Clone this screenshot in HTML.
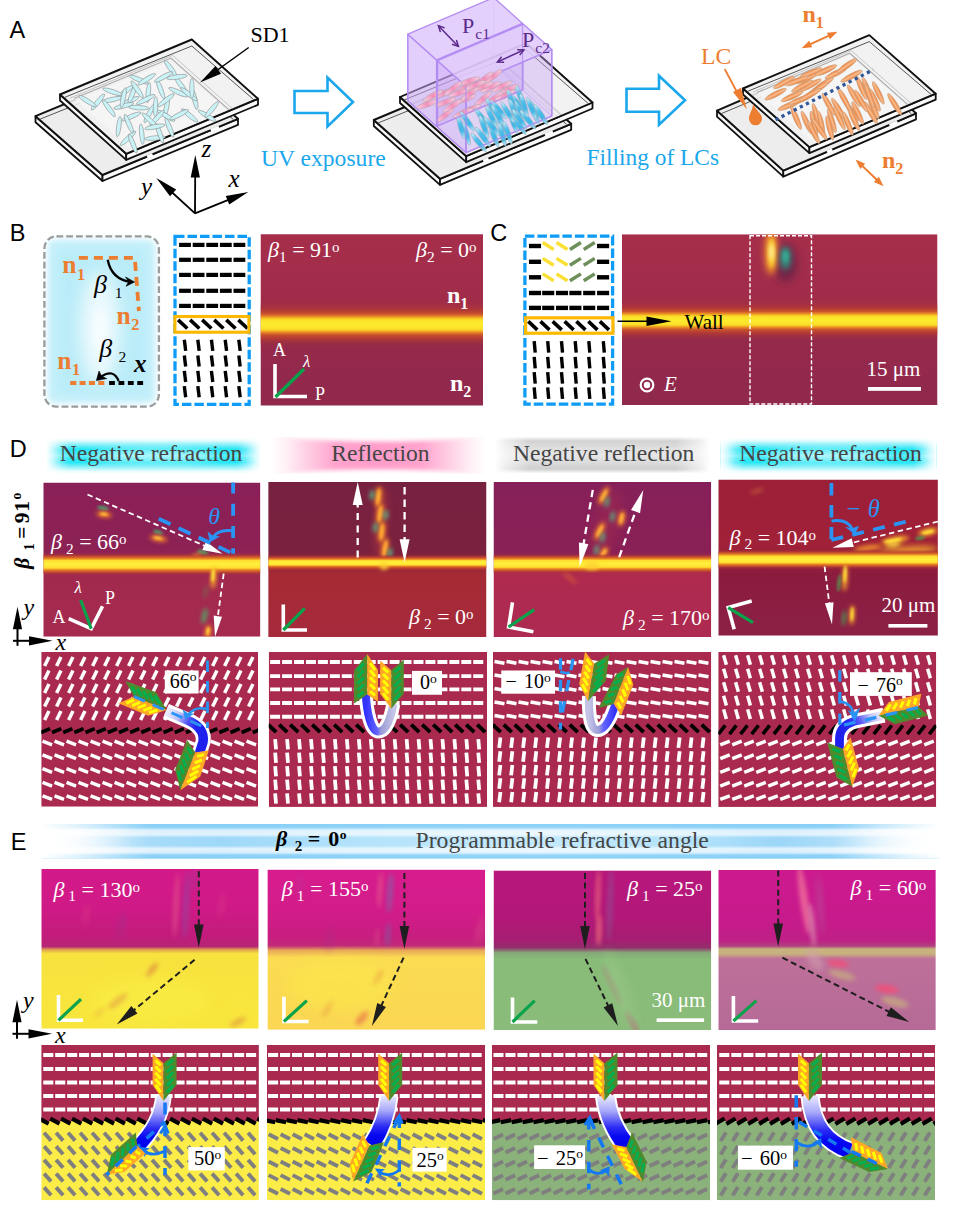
<!DOCTYPE html>
<html><head><meta charset="utf-8"><title>Figure</title>
<style>html,body{margin:0;padding:0;background:#fff;}svg{display:block;}text{white-space:pre;}</style>
</head><body>
<svg width="960" height="1213" viewBox="0 0 960 1213">
<defs>
<filter id="b1" x="-50%" y="-50%" width="200%" height="200%"><feGaussianBlur stdDeviation="1"/></filter>
<filter id="b2" x="-50%" y="-50%" width="200%" height="200%"><feGaussianBlur stdDeviation="2"/></filter>
<filter id="b3" x="-50%" y="-50%" width="200%" height="200%"><feGaussianBlur stdDeviation="3"/></filter>
<filter id="b5" x="-50%" y="-50%" width="200%" height="200%"><feGaussianBlur stdDeviation="5"/></filter>
<filter id="b8" x="-50%" y="-50%" width="200%" height="200%"><feGaussianBlur stdDeviation="8"/></filter>
<filter id="bv" x="-20%" y="-200%" width="140%" height="500%"><feGaussianBlur stdDeviation="0 2.2"/></filter>
<filter id="bv4" x="-20%" y="-300%" width="140%" height="700%"><feGaussianBlur stdDeviation="0 5"/></filter>
<linearGradient id="gPk" x1="0" y1="0" x2="1" y2="0"><stop offset="0" stop-color="#fbd3e2"/><stop offset="0.5" stop-color="#f58cb6"/><stop offset="1" stop-color="#fbd3e2"/></linearGradient>
<linearGradient id="gBl" x1="0" y1="0" x2="1" y2="0"><stop offset="0" stop-color="#d8f2fb"/><stop offset="0.35" stop-color="#3fbdea"/><stop offset="0.65" stop-color="#2fb4e6"/><stop offset="1" stop-color="#c8ecf9"/></linearGradient>
<linearGradient id="gOr" x1="0" y1="0" x2="0" y2="1"><stop offset="0" stop-color="#ee7a2c"/><stop offset="0.5" stop-color="#f8bd92"/><stop offset="1" stop-color="#ee7a2c"/></linearGradient>
<clipPath id="cpB"><rect x="176.4" y="318" width="71" height="12.7"/></clipPath>
<linearGradient id="mB" x1="0" y1="0" x2="0" y2="1"><stop offset="0" stop-color="#a62e4b"/><stop offset="0.4" stop-color="#a02c4a"/><stop offset="0.62" stop-color="#95294b"/><stop offset="1" stop-color="#90294d"/></linearGradient>
<linearGradient id="bandB" x1="0" y1="0" x2="0" y2="1"><stop offset="0" stop-color="#a0303f" stop-opacity="0"/><stop offset="0.1" stop-color="#a8323c" stop-opacity="0.5"/><stop offset="0.2" stop-color="#b43a34" stop-opacity="0.9"/><stop offset="0.28" stop-color="#c8502c"/><stop offset="0.335" stop-color="#e88a26"/><stop offset="0.375" stop-color="#f6c424"/><stop offset="0.41" stop-color="#fbe22a"/><stop offset="0.5" stop-color="#fcea2c"/><stop offset="0.59" stop-color="#fbe22a"/><stop offset="0.625" stop-color="#f6c424"/><stop offset="0.665" stop-color="#e88a26"/><stop offset="0.72" stop-color="#c8502c"/><stop offset="0.8" stop-color="#b43a34" stop-opacity="0.9"/><stop offset="0.9" stop-color="#a0323e" stop-opacity="0.5"/><stop offset="1" stop-color="#95304a" stop-opacity="0"/></linearGradient>
<clipPath id="cpC"><rect x="622" y="234.25" width="315.5" height="170.75"/></clipPath>
<linearGradient id="hcy" x1="0" y1="0" x2="0" y2="1"><stop offset="0" stop-color="#fff"/><stop offset="0.08" stop-color="#e6fcfe"/><stop offset="0.2" stop-color="#86f0f9"/><stop offset="0.32" stop-color="#24e6f6"/><stop offset="0.44" stop-color="#3ce9f7"/><stop offset="0.5" stop-color="#62edf9"/><stop offset="0.56" stop-color="#3ce9f7"/><stop offset="0.68" stop-color="#24e6f6"/><stop offset="0.8" stop-color="#86f0f9"/><stop offset="0.92" stop-color="#e6fcfe"/><stop offset="1" stop-color="#fff"/></linearGradient>
<linearGradient id="hcx" x1="0" y1="0" x2="1" y2="0"><stop offset="0" stop-color="#fff" stop-opacity="1"/><stop offset="0.03" stop-color="#fff" stop-opacity="0.75"/><stop offset="0.07" stop-color="#fff" stop-opacity="0.3"/><stop offset="0.11" stop-color="#fff" stop-opacity="0"/><stop offset="0.89" stop-color="#fff" stop-opacity="0"/><stop offset="0.93" stop-color="#fff" stop-opacity="0.3"/><stop offset="0.97" stop-color="#fff" stop-opacity="0.75"/><stop offset="1" stop-color="#fff" stop-opacity="1"/></linearGradient>
<linearGradient id="hpx" x1="0" y1="0" x2="1" y2="0"><stop offset="0" stop-color="#fff"/><stop offset="0.06" stop-color="#fff3f8"/><stop offset="0.3" stop-color="#ffa3cd"/><stop offset="0.5" stop-color="#ff9cc9"/><stop offset="0.7" stop-color="#ffa3cd"/><stop offset="0.94" stop-color="#fff3f8"/><stop offset="1" stop-color="#fff"/></linearGradient>
<linearGradient id="hgy" x1="0" y1="0" x2="0" y2="1"><stop offset="0" stop-color="#fff"/><stop offset="0.12" stop-color="#d2d2d2"/><stop offset="0.3" stop-color="#dedede"/><stop offset="0.5" stop-color="#e6e6e6"/><stop offset="0.7" stop-color="#dcdcdc"/><stop offset="0.88" stop-color="#cfcfcf"/><stop offset="1" stop-color="#fff"/></linearGradient>
<linearGradient id="hgx" x1="0" y1="0" x2="1" y2="0"><stop offset="0" stop-color="#fff" stop-opacity="1"/><stop offset="0.05" stop-color="#fff" stop-opacity="0.6"/><stop offset="0.16" stop-color="#fff" stop-opacity="0"/><stop offset="0.84" stop-color="#fff" stop-opacity="0"/><stop offset="0.95" stop-color="#fff" stop-opacity="0.6"/><stop offset="1" stop-color="#fff" stop-opacity="1"/></linearGradient>
<linearGradient id="bandD" x1="0" y1="0" x2="0" y2="1"><stop offset="0" stop-color="#b03a30" stop-opacity="0"/><stop offset="0.1" stop-color="#b83e30" stop-opacity="0.6"/><stop offset="0.2" stop-color="#d2562a" stop-opacity="0.95"/><stop offset="0.285" stop-color="#ea8224"/><stop offset="0.335" stop-color="#fbc62a"/><stop offset="0.375" stop-color="#ffe232"/><stop offset="0.5" stop-color="#fff03c"/><stop offset="0.625" stop-color="#ffe232"/><stop offset="0.665" stop-color="#fbc62a"/><stop offset="0.715" stop-color="#ea8224"/><stop offset="0.8" stop-color="#d2562a" stop-opacity="0.95"/><stop offset="0.9" stop-color="#b83e30" stop-opacity="0.6"/><stop offset="1" stop-color="#b03a30" stop-opacity="0"/></linearGradient>
<linearGradient id="bandD1" x1="0" y1="0" x2="0" y2="1"><stop offset="0.0" stop-color="#b03a30" stop-opacity="0"/><stop offset="0.087" stop-color="#b03c34" stop-opacity="0.5"/><stop offset="0.161" stop-color="#c8502c" stop-opacity="0.95"/><stop offset="0.239" stop-color="#e07a26" stop-opacity="1"/><stop offset="0.291" stop-color="#f5a824" stop-opacity="1"/><stop offset="0.33" stop-color="#ffdc30" stop-opacity="1"/><stop offset="0.5" stop-color="#fff03c" stop-opacity="1"/><stop offset="0.67" stop-color="#ffdc30" stop-opacity="1"/><stop offset="0.709" stop-color="#f5a824" stop-opacity="1"/><stop offset="0.761" stop-color="#e07a26" stop-opacity="1"/><stop offset="0.839" stop-color="#c8502c" stop-opacity="0.95"/><stop offset="0.913" stop-color="#b03c34" stop-opacity="0.5"/><stop offset="1.0" stop-color="#b03a30" stop-opacity="0"/></linearGradient>
<linearGradient id="mD1" x1="0" y1="0" x2="0" y2="1"><stop offset="0" stop-color="#8a2058"/><stop offset="0.42" stop-color="#8c2154"/><stop offset="0.62" stop-color="#a2294e"/><stop offset="1" stop-color="#a62a50"/></linearGradient>
<clipPath id="cD1"><rect x="43.3" y="482.5" width="217.09999999999997" height="154.20000000000005"/></clipPath>
<linearGradient id="mD2" x1="0" y1="0" x2="0" y2="1"><stop offset="0" stop-color="#772140"/><stop offset="0.45" stop-color="#7a213f"/><stop offset="0.6" stop-color="#a52a34"/><stop offset="1" stop-color="#a62a3c"/></linearGradient>
<clipPath id="cD2"><rect x="268.2" y="482" width="218.3" height="155"/></clipPath>
<linearGradient id="mD3" x1="0" y1="0" x2="0" y2="1"><stop offset="0" stop-color="#86205a"/><stop offset="0.45" stop-color="#8a2055"/><stop offset="0.6" stop-color="#b02a4e"/><stop offset="1" stop-color="#ad2a52"/></linearGradient>
<clipPath id="cD3"><rect x="493.5" y="482" width="217.75" height="155"/></clipPath>
<linearGradient id="mD4" x1="0" y1="0" x2="0" y2="1"><stop offset="0" stop-color="#9c1f38"/><stop offset="0.42" stop-color="#a02138"/><stop offset="0.6" stop-color="#8c1c3e"/><stop offset="1" stop-color="#8b2046"/></linearGradient>
<clipPath id="cD4"><rect x="718.3" y="479.5" width="219.60000000000002" height="156.20000000000005"/></clipPath>
<clipPath id="cS1"><rect x="41.25" y="652" width="216.75" height="154.70000000000005"/></clipPath>
<linearGradient id="rb1" x1="0" y1="0" x2="1" y2="0.6"><stop offset="0" stop-color="#f0f0ff"/><stop offset="0.3" stop-color="#c4c4f8"/><stop offset="0.55" stop-color="#5050f4"/><stop offset="0.75" stop-color="#2424f2"/><stop offset="1" stop-color="#2020ee"/></linearGradient>
<clipPath id="cS2"><rect x="268.75" y="652" width="218.25" height="154.89999999999998"/></clipPath>
<linearGradient id="rb2" x1="0" y1="0" x2="1" y2="0"><stop offset="0" stop-color="#3232ff"/><stop offset="0.42" stop-color="#6464ff"/><stop offset="0.56" stop-color="#9c9cd8"/><stop offset="1" stop-color="#c4c4e6"/></linearGradient>
<clipPath id="cS3"><rect x="493" y="652" width="218.25" height="154.89999999999998"/></clipPath>
<linearGradient id="rb3" x1="0" y1="0" x2="1" y2="0"><stop offset="0" stop-color="#c4c4e6"/><stop offset="0.38" stop-color="#9c9cd8"/><stop offset="0.55" stop-color="#6464ff"/><stop offset="1" stop-color="#3232ff"/></linearGradient>
<clipPath id="cS4"><rect x="718.25" y="652" width="218.0" height="154.89999999999998"/></clipPath>
<linearGradient id="rb4" x1="0" y1="0.5" x2="1" y2="0"><stop offset="0" stop-color="#2020ee"/><stop offset="0.3" stop-color="#2828f2"/><stop offset="0.5" stop-color="#5a5af4"/><stop offset="0.75" stop-color="#c4c4f8"/><stop offset="1" stop-color="#f0f0ff"/></linearGradient>
<linearGradient id="hEx" x1="0" y1="0" x2="1" y2="0"><stop offset="0" stop-color="#ffffff"/><stop offset="0.03" stop-color="#eef8fe"/><stop offset="0.1" stop-color="#a9dcf9"/><stop offset="0.2" stop-color="#9ed8f9"/><stop offset="0.36" stop-color="#b4e3fb"/><stop offset="0.55" stop-color="#c4e9fc"/><stop offset="0.72" stop-color="#b4e3fb"/><stop offset="0.82" stop-color="#9bd6f8"/><stop offset="0.9" stop-color="#b4e0fa"/><stop offset="0.97" stop-color="#eef8fe"/><stop offset="1" stop-color="#fff"/></linearGradient>
<linearGradient id="hEy" x1="0" y1="0" x2="0" y2="1"><stop offset="0" stop-color="#86cff7" stop-opacity="0.95"/><stop offset="0.1" stop-color="#86cff7" stop-opacity="0.75"/><stop offset="0.18" stop-color="#fff" stop-opacity="0.6"/><stop offset="0.3" stop-color="#fff" stop-opacity="0.7"/><stop offset="0.4" stop-color="#fff" stop-opacity="0.0"/><stop offset="0.62" stop-color="#fff" stop-opacity="0.0"/><stop offset="0.72" stop-color="#fff" stop-opacity="0.7"/><stop offset="0.82" stop-color="#fff" stop-opacity="0.6"/><stop offset="0.9" stop-color="#86cff7" stop-opacity="0.75"/><stop offset="1" stop-color="#86cff7" stop-opacity="0.95"/></linearGradient>
<linearGradient id="hEm" x1="0" y1="0" x2="1" y2="0"><stop offset="0" stop-color="#fff" stop-opacity="1"/><stop offset="0.04" stop-color="#fff" stop-opacity="0.7"/><stop offset="0.12" stop-color="#fff" stop-opacity="0"/><stop offset="0.88" stop-color="#fff" stop-opacity="0"/><stop offset="0.96" stop-color="#fff" stop-opacity="0.7"/><stop offset="1" stop-color="#fff" stop-opacity="1"/></linearGradient>
<linearGradient id="mE1" x1="0" y1="0" x2="0" y2="1"><stop offset="0" stop-color="#d4198a"/><stop offset="0.25" stop-color="#cf1a86"/><stop offset="0.42" stop-color="#c21c7c"/><stop offset="0.485" stop-color="#b52574"/><stop offset="0.505" stop-color="#e0a050"/><stop offset="0.53" stop-color="#f7e23e"/><stop offset="1" stop-color="#f8e63c"/></linearGradient>
<clipPath id="cE1"><rect x="41.3" y="869" width="217.39999999999998" height="159.70000000000005"/></clipPath>
<linearGradient id="mE2" x1="0" y1="0" x2="0" y2="1"><stop offset="0" stop-color="#d81c8e"/><stop offset="0.25" stop-color="#d31c8a"/><stop offset="0.42" stop-color="#c71e80"/><stop offset="0.475" stop-color="#c02a78"/><stop offset="0.505" stop-color="#e8a858"/><stop offset="0.55" stop-color="#fbdc52"/><stop offset="1" stop-color="#fbd654"/></linearGradient>
<clipPath id="cE2"><rect x="267.4" y="869.6" width="217.8" height="160.19999999999993"/></clipPath>
<linearGradient id="mE3" x1="0" y1="0" x2="0" y2="1"><stop offset="0" stop-color="#b8177c"/><stop offset="0.3" stop-color="#b21878"/><stop offset="0.44" stop-color="#a51e72"/><stop offset="0.485" stop-color="#92306c"/><stop offset="0.515" stop-color="#86a878"/><stop offset="0.56" stop-color="#88bc78"/><stop offset="1" stop-color="#8abb7a"/></linearGradient>
<clipPath id="cE3"><rect x="493.5" y="870.4" width="217.75" height="159.60000000000002"/></clipPath>
<linearGradient id="mE4" x1="0" y1="0" x2="0" y2="1"><stop offset="0" stop-color="#cc1a8e"/><stop offset="0.3" stop-color="#c81a8c"/><stop offset="0.44" stop-color="#bf2086"/><stop offset="0.475" stop-color="#b04080"/><stop offset="0.495" stop-color="#c8b47e"/><stop offset="0.525" stop-color="#c8b07e"/><stop offset="0.555" stop-color="#be7099"/><stop offset="1" stop-color="#b56a97"/></linearGradient>
<clipPath id="cE4"><rect x="718.3" y="870" width="217.5" height="160"/></clipPath>
<linearGradient id="rbE" x1="0" y1="0" x2="0" y2="1"><stop offset="0" stop-color="#e8e8ff"/><stop offset="0.3" stop-color="#a8a8fa"/><stop offset="0.62" stop-color="#2c2cf4"/><stop offset="0.8" stop-color="#0808f0"/><stop offset="1" stop-color="#0000ee"/></linearGradient>
<linearGradient id="rbEx" x1="0" y1="0" x2="1" y2="0"><stop offset="0" stop-color="#fff" stop-opacity="0.55"/><stop offset="0.5" stop-color="#fff" stop-opacity="0.0"/><stop offset="1" stop-color="#fff" stop-opacity="0.25"/></linearGradient>
<clipPath id="cE1s"><rect x="41.25" y="1045" width="217.64999999999998" height="155.20000000000005"/></clipPath>
<clipPath id="cE2s"><rect x="267" y="1045" width="218" height="155.20000000000005"/></clipPath>
<clipPath id="cE3s"><rect x="492" y="1045" width="218" height="155.20000000000005"/></clipPath>
<clipPath id="cE4s"><rect x="717" y="1045" width="218" height="155.20000000000005"/></clipPath>
</defs>
<rect width="960" height="1213" fill="#fff"/>
<polygon points="35.5,116.2 102.5,175.0 102.5,181.0 35.5,122.2" fill="#f7f7f7" stroke="#111" stroke-width="1.8" stroke-linejoin="round"/><polygon points="102.5,175.0 238.0,118.8 238.0,124.8 102.5,181.0" fill="#fafafa" stroke="#111" stroke-width="1.8" stroke-linejoin="round"/><polygon points="35.5,116.2 171.0,60.0 238.0,118.8 102.5,175.0" fill="#ededed" fill-opacity="1.0" stroke="#111" stroke-width="1.9" stroke-linejoin="round"/><polyline points="40.2,119.1 171.0,66.5 233.3,119.4" fill="none" stroke="#444" stroke-width="0.9"/>
<line x1="147.2" y1="156.9" x2="152.6" y2="154.7" stroke="#fff" stroke-width="3"/><line x1="210.9" y1="130.5" x2="219.0" y2="127.1" stroke="#fff" stroke-width="3"/>
<polygon points="60.0,94.5 126.2,153.8 126.2,159.8 60.0,100.5" fill="#f7f7f7" stroke="#111" stroke-width="1.8" stroke-linejoin="round"/><polygon points="126.2,153.8 258.0,98.8 258.0,104.8 126.2,159.8" fill="#fafafa" stroke="#111" stroke-width="1.8" stroke-linejoin="round"/><polygon points="60.0,94.5 191.8,39.5 258.0,98.8 126.2,153.8" fill="#f0f0f0" fill-opacity="0.88" stroke="#111" stroke-width="1.9" stroke-linejoin="round"/><polyline points="64.6,97.4 191.8,46.0 253.4,99.4" fill="none" stroke="#444" stroke-width="0.9"/><polygon points="74.2,98.6 171.0,58.1 228.7,109.7 131.8,150.1" fill="#f6f6f6" fill-opacity="0.8"/><polyline points="74.2,98.6 171.0,58.1 228.7,109.7" fill="none" stroke="#a8a8a8" stroke-width="1.1"/><polyline points="69.9,98.2 172.7,55.3 232.3,108.6" fill="none" stroke="#c4c4c4" stroke-width="1"/>
<ellipse cx="131.4" cy="116.5" rx="10.3" ry="2.2" fill="#c9f3f7" stroke="#8f8f8f" stroke-width="0.6" transform="rotate(-23 131.4 116.5)"/><ellipse cx="166.5" cy="107.4" rx="10.3" ry="2.2" fill="#c9f3f7" stroke="#8f8f8f" stroke-width="0.6" transform="rotate(-78 166.5 107.4)"/><ellipse cx="128.0" cy="138.3" rx="10.3" ry="2.2" fill="#c9f3f7" stroke="#8f8f8f" stroke-width="0.6" transform="rotate(-43 128.0 138.3)"/><ellipse cx="155.0" cy="138.0" rx="10.3" ry="2.2" fill="#c9f3f7" stroke="#8f8f8f" stroke-width="0.6" transform="rotate(-5 155.0 138.0)"/><ellipse cx="178.2" cy="92.2" rx="10.3" ry="2.2" fill="#c9f3f7" stroke="#8f8f8f" stroke-width="0.6" transform="rotate(25 178.2 92.2)"/><ellipse cx="128.8" cy="123.8" rx="10.3" ry="2.2" fill="#c9f3f7" stroke="#8f8f8f" stroke-width="0.6" transform="rotate(66 128.8 123.8)"/><ellipse cx="165.9" cy="115.7" rx="10.3" ry="2.2" fill="#c9f3f7" stroke="#8f8f8f" stroke-width="0.6" transform="rotate(31 165.9 115.7)"/><ellipse cx="148.3" cy="92.5" rx="10.3" ry="2.2" fill="#c9f3f7" stroke="#8f8f8f" stroke-width="0.6" transform="rotate(-84 148.3 92.5)"/><ellipse cx="189.6" cy="115.4" rx="10.3" ry="2.2" fill="#c9f3f7" stroke="#8f8f8f" stroke-width="0.6" transform="rotate(39 189.6 115.4)"/><ellipse cx="181.1" cy="85.3" rx="10.3" ry="2.2" fill="#c9f3f7" stroke="#8f8f8f" stroke-width="0.6" transform="rotate(54 181.1 85.3)"/><ellipse cx="169.5" cy="127.7" rx="10.3" ry="2.2" fill="#c9f3f7" stroke="#8f8f8f" stroke-width="0.6" transform="rotate(68 169.5 127.7)"/><ellipse cx="97.9" cy="102.0" rx="10.3" ry="2.2" fill="#c9f3f7" stroke="#8f8f8f" stroke-width="0.6" transform="rotate(-51 97.9 102.0)"/><ellipse cx="145.7" cy="99.5" rx="10.3" ry="2.2" fill="#c9f3f7" stroke="#8f8f8f" stroke-width="0.6" transform="rotate(-27 145.7 99.5)"/><ellipse cx="194.8" cy="99.5" rx="10.3" ry="2.2" fill="#c9f3f7" stroke="#8f8f8f" stroke-width="0.6" transform="rotate(77 194.8 99.5)"/><ellipse cx="207.2" cy="115.9" rx="10.3" ry="2.2" fill="#c9f3f7" stroke="#8f8f8f" stroke-width="0.6" transform="rotate(31 207.2 115.9)"/><ellipse cx="141.8" cy="134.1" rx="10.3" ry="2.2" fill="#c9f3f7" stroke="#8f8f8f" stroke-width="0.6" transform="rotate(84 141.8 134.1)"/><ellipse cx="188.9" cy="94.2" rx="10.3" ry="2.2" fill="#c9f3f7" stroke="#8f8f8f" stroke-width="0.6" transform="rotate(38 188.9 94.2)"/><ellipse cx="170.6" cy="68.4" rx="10.3" ry="2.2" fill="#c9f3f7" stroke="#8f8f8f" stroke-width="0.6" transform="rotate(54 170.6 68.4)"/><ellipse cx="125.1" cy="91.7" rx="10.3" ry="2.2" fill="#c9f3f7" stroke="#8f8f8f" stroke-width="0.6" transform="rotate(-37 125.1 91.7)"/><ellipse cx="118.8" cy="126.6" rx="10.3" ry="2.2" fill="#c9f3f7" stroke="#8f8f8f" stroke-width="0.6" transform="rotate(-82 118.8 126.6)"/><ellipse cx="160.6" cy="89.4" rx="10.3" ry="2.2" fill="#c9f3f7" stroke="#8f8f8f" stroke-width="0.6" transform="rotate(69 160.6 89.4)"/><ellipse cx="191.9" cy="88.5" rx="10.3" ry="2.2" fill="#c9f3f7" stroke="#8f8f8f" stroke-width="0.6" transform="rotate(90 191.9 88.5)"/><ellipse cx="112.6" cy="91.8" rx="10.3" ry="2.2" fill="#c9f3f7" stroke="#8f8f8f" stroke-width="0.6" transform="rotate(18 112.6 91.8)"/><ellipse cx="149.2" cy="113.6" rx="10.3" ry="2.2" fill="#c9f3f7" stroke="#8f8f8f" stroke-width="0.6" transform="rotate(-62 149.2 113.6)"/><ellipse cx="159.7" cy="133.4" rx="10.3" ry="2.2" fill="#c9f3f7" stroke="#8f8f8f" stroke-width="0.6" transform="rotate(71 159.7 133.4)"/><ellipse cx="138.7" cy="107.6" rx="10.3" ry="2.2" fill="#c9f3f7" stroke="#8f8f8f" stroke-width="0.6" transform="rotate(4 138.7 107.6)"/><ellipse cx="157.0" cy="118.0" rx="10.3" ry="2.2" fill="#c9f3f7" stroke="#8f8f8f" stroke-width="0.6" transform="rotate(-47 157.0 118.0)"/><ellipse cx="155.5" cy="106.7" rx="10.3" ry="2.2" fill="#c9f3f7" stroke="#8f8f8f" stroke-width="0.6" transform="rotate(-88 155.5 106.7)"/><ellipse cx="138.9" cy="79.6" rx="10.3" ry="2.2" fill="#c9f3f7" stroke="#8f8f8f" stroke-width="0.6" transform="rotate(23 138.9 79.6)"/><ellipse cx="149.7" cy="120.1" rx="10.3" ry="2.2" fill="#c9f3f7" stroke="#8f8f8f" stroke-width="0.6" transform="rotate(43 149.7 120.1)"/><ellipse cx="87.5" cy="101.1" rx="10.3" ry="2.2" fill="#c9f3f7" stroke="#8f8f8f" stroke-width="0.6" transform="rotate(32 87.5 101.1)"/><ellipse cx="177.0" cy="77.0" rx="10.3" ry="2.2" fill="#c9f3f7" stroke="#8f8f8f" stroke-width="0.6" transform="rotate(-8 177.0 77.0)"/><ellipse cx="129.7" cy="101.0" rx="10.3" ry="2.2" fill="#c9f3f7" stroke="#8f8f8f" stroke-width="0.6" transform="rotate(-24 129.7 101.0)"/><ellipse cx="112.5" cy="99.5" rx="10.3" ry="2.2" fill="#c9f3f7" stroke="#8f8f8f" stroke-width="0.6" transform="rotate(-12 112.5 99.5)"/><ellipse cx="146.7" cy="79.3" rx="10.3" ry="2.2" fill="#c9f3f7" stroke="#8f8f8f" stroke-width="0.6" transform="rotate(-32 146.7 79.3)"/><ellipse cx="154.8" cy="126.8" rx="10.3" ry="2.2" fill="#c9f3f7" stroke="#8f8f8f" stroke-width="0.6" transform="rotate(-11 154.8 126.8)"/><ellipse cx="163.6" cy="76.9" rx="10.3" ry="2.2" fill="#c9f3f7" stroke="#8f8f8f" stroke-width="0.6" transform="rotate(-29 163.6 76.9)"/><ellipse cx="132.4" cy="93.8" rx="10.3" ry="2.2" fill="#c9f3f7" stroke="#8f8f8f" stroke-width="0.6" transform="rotate(-68 132.4 93.8)"/><ellipse cx="137.2" cy="89.4" rx="10.3" ry="2.2" fill="#c9f3f7" stroke="#8f8f8f" stroke-width="0.6" transform="rotate(55 137.2 89.4)"/><ellipse cx="179.3" cy="114.7" rx="10.3" ry="2.2" fill="#c9f3f7" stroke="#8f8f8f" stroke-width="0.6" transform="rotate(-28 179.3 114.7)"/><ellipse cx="108.9" cy="108.3" rx="10.3" ry="2.2" fill="#c9f3f7" stroke="#8f8f8f" stroke-width="0.6" transform="rotate(53 108.9 108.3)"/><ellipse cx="123.7" cy="105.9" rx="10.3" ry="2.2" fill="#c9f3f7" stroke="#8f8f8f" stroke-width="0.6" transform="rotate(-15 123.7 105.9)"/><ellipse cx="132.8" cy="143.6" rx="10.3" ry="2.2" fill="#c9f3f7" stroke="#8f8f8f" stroke-width="0.6" transform="rotate(68 132.8 143.6)"/><ellipse cx="211.7" cy="109.5" rx="10.3" ry="2.2" fill="#c9f3f7" stroke="#8f8f8f" stroke-width="0.6" transform="rotate(-50 211.7 109.5)"/><ellipse cx="165.9" cy="100.3" rx="10.3" ry="2.2" fill="#c9f3f7" stroke="#8f8f8f" stroke-width="0.6" transform="rotate(-38 165.9 100.3)"/><ellipse cx="123.3" cy="97.8" rx="10.3" ry="2.2" fill="#c9f3f7" stroke="#8f8f8f" stroke-width="0.6" transform="rotate(-78 123.3 97.8)"/>
<line x1="248.7" y1="47.5" x2="214" y2="72.5" stroke="#000" stroke-width="1.5"/>
<path d="M200,82.5 L215.5,66 L221,73.8 Z" fill="#000"/>
<text x="250.5" y="42" font-size="22" fill="#000" font-family="Liberation Serif, serif" text-anchor="start" >SD1</text>
<line x1="195" y1="213.3" x2="195.2" y2="176" stroke="#000" stroke-width="1.8"/>
<path d="M195.3,155 L190.7,177.5 L199.9,177.5 Z" fill="#000"/>
<line x1="195" y1="213.3" x2="229" y2="199.7" stroke="#000" stroke-width="1.8"/>
<path d="M248.3,192 L225.8,196 L229.2,204.6 Z" fill="#000"/>
<line x1="195" y1="213.3" x2="170" y2="190.5" stroke="#000" stroke-width="1.8"/>
<path d="M156.3,178 L176.2,189.5 L170,196.3 Z" fill="#000"/>
<text x="201.5" y="156.7" font-size="25" fill="#000" font-family="Liberation Serif, serif" text-anchor="start" font-style="italic">z</text>
<text x="228.5" y="186.5" font-size="25" fill="#000" font-family="Liberation Serif, serif" text-anchor="start" font-style="italic">x</text>
<text x="141" y="195" font-size="25" fill="#000" font-family="Liberation Serif, serif" text-anchor="start" font-style="italic">y</text>
<path d="M294.5,91 L327.5,91 L327.5,77.5 L353,102 L327.5,126.5 L327.5,113 L294.5,113 Z" fill="#fff" stroke="#1aa7ec" stroke-width="2.6" stroke-linejoin="miter"/>
<path d="M626.5,88.8 L659,88.8 L659,75.8 L685,100.3 L659,124.8 L659,111.8 L626.5,111.8 Z" fill="#fff" stroke="#1aa7ec" stroke-width="2.6" stroke-linejoin="miter"/>
<text x="261" y="166" font-size="23.6" fill="#1aa7ec" font-family="Liberation Serif, serif" text-anchor="start" >UV exposure</text>
<text x="586.5" y="165" font-size="23.4" fill="#1aa7ec" font-family="Liberation Serif, serif" text-anchor="start" >Filling of LCs</text>
<polygon points="373.8,120.0 440.0,178.8 440.0,184.8 373.8,126.0" fill="#f7f7f7" stroke="#111" stroke-width="1.8" stroke-linejoin="round"/><polygon points="440.0,178.8 571.2,123.8 571.2,129.8 440.0,184.8" fill="#fafafa" stroke="#111" stroke-width="1.8" stroke-linejoin="round"/><polygon points="373.8,120.0 505.0,65.0 571.2,123.8 440.0,178.8" fill="#ededed" fill-opacity="1.0" stroke="#111" stroke-width="1.9" stroke-linejoin="round"/><polyline points="378.3,122.9 505.0,71.5 566.6,124.4" fill="none" stroke="#444" stroke-width="0.9"/>
<line x1="483.3" y1="161.1" x2="488.6" y2="158.9" stroke="#fff" stroke-width="3"/><line x1="545.0" y1="135.2" x2="552.9" y2="131.9" stroke="#fff" stroke-width="3"/>
<polygon points="400.0,97.0 466.2,156.2 466.2,162.2 400.0,103.0" fill="#f7f7f7" stroke="#111" stroke-width="1.8" stroke-linejoin="round"/><polygon points="466.2,156.2 592.5,102.5 592.5,108.5 466.2,162.2" fill="#fafafa" stroke="#111" stroke-width="1.8" stroke-linejoin="round"/><polygon points="400.0,97.0 526.2,43.2 592.5,102.5 466.2,156.2" fill="#f0f0f0" fill-opacity="0.88" stroke="#111" stroke-width="1.9" stroke-linejoin="round"/><polyline points="404.4,99.9 526.2,49.8 587.9,103.2" fill="none" stroke="#444" stroke-width="0.9"/>
<polygon points="407.8,100.7 493.7,64.1 493.7,-2.4 407.8,34.2" fill="#c9a4f6" fill-opacity="0.25"/><polygon points="493.7,64.1 522.5,89.9 522.5,23.4 493.7,-2.4" fill="#c9a4f6" fill-opacity="0.28" stroke="#b48cf2" stroke-opacity="0.55" stroke-width="1"/><polygon points="407.8,100.7 493.7,64.1 522.5,89.9 436.6,126.4" fill="#c9a4f6" fill-opacity="0.25"/>
<polygon points="437.5,127.2 523.4,90.7 523.4,24.2 437.5,60.7" fill="#c9a4f6" fill-opacity="0.25"/><polygon points="523.4,90.7 551.8,116.1 551.8,49.6 523.4,24.2" fill="#c9a4f6" fill-opacity="0.28" stroke="#b48cf2" stroke-opacity="0.55" stroke-width="1"/><polygon points="437.5,127.2 523.4,90.7 551.8,116.1 466.0,152.7" fill="#c9a4f6" fill-opacity="0.25"/>
<polygon points="407.8,100.7 436.6,126.4 436.6,59.9 407.8,34.2" fill="#c9a4f6" fill-opacity="0.36" stroke="#b48cf2" stroke-width="1.3" stroke-linejoin="round"/><polygon points="436.6,126.4 522.5,89.9 522.5,23.4 436.6,59.9" fill="#c9a4f6" fill-opacity="0.16" stroke="#b48cf2" stroke-width="1.3" stroke-linejoin="round"/><polygon points="407.8,34.2 493.7,-2.4 522.5,23.4 436.6,59.9" fill="#e0cbfb" fill-opacity="0.85" stroke="#b48cf2" stroke-width="1.3" stroke-linejoin="round"/>
<polygon points="437.5,127.2 466.0,152.7 466.0,86.2 437.5,60.7" fill="#c9a4f6" fill-opacity="0.36" stroke="#b48cf2" stroke-width="1.3" stroke-linejoin="round"/><polygon points="466.0,152.7 551.8,116.1 551.8,49.6 466.0,86.2" fill="#c9a4f6" fill-opacity="0.16" stroke="#b48cf2" stroke-width="1.3" stroke-linejoin="round"/><polygon points="437.5,60.7 523.4,24.2 551.8,49.6 466.0,86.2" fill="#e0cbfb" fill-opacity="0.85" stroke="#b48cf2" stroke-width="1.3" stroke-linejoin="round"/>
<g opacity="0.9">
<ellipse cx="465.5" cy="99.0" rx="11" ry="2.6" fill="url(#gPk)" stroke="#b9a0a8" stroke-width="0.6" transform="rotate(-20 465.5 99.0)"/><ellipse cx="465.6" cy="87.1" rx="11" ry="2.6" fill="url(#gPk)" stroke="#b9a0a8" stroke-width="0.6" transform="rotate(-30 465.6 87.1)"/><ellipse cx="483.0" cy="98.9" rx="11" ry="2.6" fill="url(#gPk)" stroke="#b9a0a8" stroke-width="0.6" transform="rotate(-40 483.0 98.9)"/><ellipse cx="444.4" cy="93.2" rx="11" ry="2.6" fill="url(#gPk)" stroke="#b9a0a8" stroke-width="0.6" transform="rotate(-23 444.4 93.2)"/><ellipse cx="469.3" cy="81.1" rx="11" ry="2.6" fill="url(#gPk)" stroke="#b9a0a8" stroke-width="0.6" transform="rotate(-18 469.3 81.1)"/><ellipse cx="502.1" cy="86.4" rx="11" ry="2.6" fill="url(#gPk)" stroke="#b9a0a8" stroke-width="0.6" transform="rotate(-27 502.1 86.4)"/><ellipse cx="432.8" cy="95.8" rx="11" ry="2.6" fill="url(#gPk)" stroke="#b9a0a8" stroke-width="0.6" transform="rotate(-29 432.8 95.8)"/><ellipse cx="490.7" cy="87.0" rx="11" ry="2.6" fill="url(#gPk)" stroke="#b9a0a8" stroke-width="0.6" transform="rotate(-27 490.7 87.0)"/><ellipse cx="459.1" cy="92.8" rx="11" ry="2.6" fill="url(#gPk)" stroke="#b9a0a8" stroke-width="0.6" transform="rotate(-18 459.1 92.8)"/><ellipse cx="508.6" cy="89.5" rx="11" ry="2.6" fill="url(#gPk)" stroke="#b9a0a8" stroke-width="0.6" transform="rotate(-25 508.6 89.5)"/><ellipse cx="482.7" cy="86.6" rx="11" ry="2.6" fill="url(#gPk)" stroke="#b9a0a8" stroke-width="0.6" transform="rotate(-22 482.7 86.6)"/><ellipse cx="470.6" cy="109.3" rx="11" ry="2.6" fill="url(#gPk)" stroke="#b9a0a8" stroke-width="0.6" transform="rotate(-22 470.6 109.3)"/><ellipse cx="426.9" cy="104.4" rx="11" ry="2.6" fill="url(#gPk)" stroke="#b9a0a8" stroke-width="0.6" transform="rotate(-20 426.9 104.4)"/><ellipse cx="444.9" cy="115.2" rx="11" ry="2.6" fill="url(#gPk)" stroke="#b9a0a8" stroke-width="0.6" transform="rotate(-38 444.9 115.2)"/><ellipse cx="470.0" cy="93.5" rx="11" ry="2.6" fill="url(#gPk)" stroke="#b9a0a8" stroke-width="0.6" transform="rotate(-37 470.0 93.5)"/><ellipse cx="463.1" cy="112.9" rx="11" ry="2.6" fill="url(#gPk)" stroke="#b9a0a8" stroke-width="0.6" transform="rotate(-23 463.1 112.9)"/><ellipse cx="445.4" cy="102.3" rx="11" ry="2.6" fill="url(#gPk)" stroke="#b9a0a8" stroke-width="0.6" transform="rotate(-21 445.4 102.3)"/><ellipse cx="493.2" cy="76.3" rx="11" ry="2.6" fill="url(#gPk)" stroke="#b9a0a8" stroke-width="0.6" transform="rotate(-36 493.2 76.3)"/><ellipse cx="452.5" cy="105.8" rx="11" ry="2.6" fill="url(#gPk)" stroke="#b9a0a8" stroke-width="0.6" transform="rotate(-33 452.5 105.8)"/><ellipse cx="484.2" cy="79.1" rx="11" ry="2.6" fill="url(#gPk)" stroke="#b9a0a8" stroke-width="0.6" transform="rotate(-38 484.2 79.1)"/><ellipse cx="493.8" cy="98.9" rx="11" ry="2.6" fill="url(#gPk)" stroke="#b9a0a8" stroke-width="0.6" transform="rotate(-37 493.8 98.9)"/><ellipse cx="475.2" cy="85.3" rx="11" ry="2.6" fill="url(#gPk)" stroke="#b9a0a8" stroke-width="0.6" transform="rotate(-22 475.2 85.3)"/><ellipse cx="453.2" cy="88.5" rx="11" ry="2.6" fill="url(#gPk)" stroke="#b9a0a8" stroke-width="0.6" transform="rotate(-38 453.2 88.5)"/><ellipse cx="504.9" cy="95.5" rx="11" ry="2.6" fill="url(#gPk)" stroke="#b9a0a8" stroke-width="0.6" transform="rotate(-26 504.9 95.5)"/>
<ellipse cx="513.2" cy="122.2" rx="12" ry="2.5" fill="url(#gBl)" stroke="#8ab0c0" stroke-width="0.6" transform="rotate(70 513.2 122.2)"/><ellipse cx="535.0" cy="112.9" rx="12" ry="2.5" fill="url(#gBl)" stroke="#8ab0c0" stroke-width="0.6" transform="rotate(73 535.0 112.9)"/><ellipse cx="466.3" cy="133.7" rx="12" ry="2.5" fill="url(#gBl)" stroke="#8ab0c0" stroke-width="0.6" transform="rotate(74 466.3 133.7)"/><ellipse cx="518.7" cy="124.8" rx="12" ry="2.5" fill="url(#gBl)" stroke="#8ab0c0" stroke-width="0.6" transform="rotate(53 518.7 124.8)"/><ellipse cx="491.3" cy="116.4" rx="12" ry="2.5" fill="url(#gBl)" stroke="#8ab0c0" stroke-width="0.6" transform="rotate(64 491.3 116.4)"/><ellipse cx="493.0" cy="108.5" rx="12" ry="2.5" fill="url(#gBl)" stroke="#8ab0c0" stroke-width="0.6" transform="rotate(55 493.0 108.5)"/><ellipse cx="493.9" cy="135.8" rx="12" ry="2.5" fill="url(#gBl)" stroke="#8ab0c0" stroke-width="0.6" transform="rotate(69 493.9 135.8)"/><ellipse cx="482.9" cy="136.8" rx="12" ry="2.5" fill="url(#gBl)" stroke="#8ab0c0" stroke-width="0.6" transform="rotate(53 482.9 136.8)"/><ellipse cx="498.6" cy="109.6" rx="12" ry="2.5" fill="url(#gBl)" stroke="#8ab0c0" stroke-width="0.6" transform="rotate(50 498.6 109.6)"/><ellipse cx="517.8" cy="104.0" rx="12" ry="2.5" fill="url(#gBl)" stroke="#8ab0c0" stroke-width="0.6" transform="rotate(55 517.8 104.0)"/><ellipse cx="540.8" cy="114.5" rx="12" ry="2.5" fill="url(#gBl)" stroke="#8ab0c0" stroke-width="0.6" transform="rotate(57 540.8 114.5)"/><ellipse cx="531.6" cy="108.2" rx="12" ry="2.5" fill="url(#gBl)" stroke="#8ab0c0" stroke-width="0.6" transform="rotate(67 531.6 108.2)"/><ellipse cx="482.0" cy="117.9" rx="12" ry="2.5" fill="url(#gBl)" stroke="#8ab0c0" stroke-width="0.6" transform="rotate(54 482.0 117.9)"/><ellipse cx="507.6" cy="112.2" rx="12" ry="2.5" fill="url(#gBl)" stroke="#8ab0c0" stroke-width="0.6" transform="rotate(58 507.6 112.2)"/><ellipse cx="520.5" cy="111.1" rx="12" ry="2.5" fill="url(#gBl)" stroke="#8ab0c0" stroke-width="0.6" transform="rotate(58 520.5 111.1)"/><ellipse cx="502.7" cy="125.6" rx="12" ry="2.5" fill="url(#gBl)" stroke="#8ab0c0" stroke-width="0.6" transform="rotate(51 502.7 125.6)"/><ellipse cx="520.6" cy="97.1" rx="12" ry="2.5" fill="url(#gBl)" stroke="#8ab0c0" stroke-width="0.6" transform="rotate(69 520.6 97.1)"/><ellipse cx="511.6" cy="100.8" rx="12" ry="2.5" fill="url(#gBl)" stroke="#8ab0c0" stroke-width="0.6" transform="rotate(70 511.6 100.8)"/><ellipse cx="492.0" cy="126.3" rx="12" ry="2.5" fill="url(#gBl)" stroke="#8ab0c0" stroke-width="0.6" transform="rotate(50 492.0 126.3)"/><ellipse cx="461.0" cy="127.3" rx="12" ry="2.5" fill="url(#gBl)" stroke="#8ab0c0" stroke-width="0.6" transform="rotate(74 461.0 127.3)"/><ellipse cx="527.9" cy="119.6" rx="12" ry="2.5" fill="url(#gBl)" stroke="#8ab0c0" stroke-width="0.6" transform="rotate(51 527.9 119.6)"/><ellipse cx="524.0" cy="105.3" rx="12" ry="2.5" fill="url(#gBl)" stroke="#8ab0c0" stroke-width="0.6" transform="rotate(73 524.0 105.3)"/><ellipse cx="498.0" cy="115.6" rx="12" ry="2.5" fill="url(#gBl)" stroke="#8ab0c0" stroke-width="0.6" transform="rotate(58 498.0 115.6)"/><ellipse cx="467.5" cy="121.4" rx="12" ry="2.5" fill="url(#gBl)" stroke="#8ab0c0" stroke-width="0.6" transform="rotate(54 467.5 121.4)"/><ellipse cx="478.6" cy="142.3" rx="12" ry="2.5" fill="url(#gBl)" stroke="#8ab0c0" stroke-width="0.6" transform="rotate(51 478.6 142.3)"/><ellipse cx="507.6" cy="132.5" rx="12" ry="2.5" fill="url(#gBl)" stroke="#8ab0c0" stroke-width="0.6" transform="rotate(71 507.6 132.5)"/><ellipse cx="502.2" cy="134.5" rx="12" ry="2.5" fill="url(#gBl)" stroke="#8ab0c0" stroke-width="0.6" transform="rotate(74 502.2 134.5)"/><ellipse cx="513.8" cy="110.4" rx="12" ry="2.5" fill="url(#gBl)" stroke="#8ab0c0" stroke-width="0.6" transform="rotate(68 513.8 110.4)"/><ellipse cx="484.0" cy="126.8" rx="12" ry="2.5" fill="url(#gBl)" stroke="#8ab0c0" stroke-width="0.6" transform="rotate(69 484.0 126.8)"/><ellipse cx="519.6" cy="119.2" rx="12" ry="2.5" fill="url(#gBl)" stroke="#8ab0c0" stroke-width="0.6" transform="rotate(54 519.6 119.2)"/>
</g>
<path d="M407.8,34.2 L407.8,100.7 L436.6,126.4 L436.6,59.9 M436.6,126.4 L522.5,89.9 L522.5,23.4" fill="none" stroke="#b48cf2" stroke-width="1.2" stroke-opacity="0.75"/>
<path d="M437.5,60.7 L437.5,127.2 L466.0,152.7 L466.0,86.2 M466.0,152.7 L551.8,116.1 L551.8,49.6" fill="none" stroke="#b48cf2" stroke-width="1.2" stroke-opacity="0.75"/>
<text x="462" y="33" font-size="22" fill="#5b2a8c" font-family="Liberation Serif, serif">P<tspan font-size="15.5" dy="6" dx="1">c1</tspan></text>
<text x="522" y="47.3" font-size="22" fill="#5b2a8c" font-family="Liberation Serif, serif">P<tspan font-size="15.5" dy="6" dx="1">c2</tspan></text>
<line x1="438.4" y1="25.7" x2="458.4" y2="46.4" stroke="#5b2a8c" stroke-width="1.5"/><polyline points="440.4,32.1 438.4,25.7 444.7,27.9" fill="none" stroke="#5b2a8c" stroke-width="1.5"/><polyline points="452.1,44.2 458.4,46.4 456.4,40.0" fill="none" stroke="#5b2a8c" stroke-width="1.5"/>
<line x1="497.4" y1="62.0" x2="523.9" y2="49.9" stroke="#5b2a8c" stroke-width="1.5"/><polyline points="504.1,62.2 497.4,62.0 501.6,56.8" fill="none" stroke="#5b2a8c" stroke-width="1.5"/><polyline points="519.7,55.1 523.9,49.9 517.2,49.7" fill="none" stroke="#5b2a8c" stroke-width="1.5"/>
<polygon points="717.0,110.7 783.3,170.6 783.3,176.6 717.0,116.7" fill="#f7f7f7" stroke="#111" stroke-width="1.8" stroke-linejoin="round"/><polygon points="783.3,170.6 916.0,113.3 916.0,119.3 783.3,176.6" fill="#fafafa" stroke="#111" stroke-width="1.8" stroke-linejoin="round"/><polygon points="717.0,110.7 849.7,53.4 916.0,113.3 783.3,170.6" fill="#ededed" fill-opacity="1.0" stroke="#111" stroke-width="1.9" stroke-linejoin="round"/><polyline points="721.6,113.5 849.7,59.9 911.4,113.9" fill="none" stroke="#444" stroke-width="0.9"/>
<line x1="827.1" y1="152.2" x2="832.4" y2="149.9" stroke="#fff" stroke-width="3"/><line x1="889.5" y1="125.3" x2="897.4" y2="121.8" stroke="#fff" stroke-width="3"/>
<polygon points="743.0,88.5 809.4,147.1 809.4,153.1 743.0,94.5" fill="#f7f7f7" stroke="#111" stroke-width="1.8" stroke-linejoin="round"/><polygon points="809.4,147.1 935.7,93.7 935.7,99.7 809.4,153.1" fill="#fafafa" stroke="#111" stroke-width="1.8" stroke-linejoin="round"/><polygon points="743.0,88.5 869.3,35.1 935.7,93.7 809.4,147.1" fill="#f0f0f0" fill-opacity="0.88" stroke="#111" stroke-width="1.9" stroke-linejoin="round"/><polyline points="747.4,91.4 869.3,41.6 931.1,94.4" fill="none" stroke="#444" stroke-width="0.9"/><polygon points="757.0,92.6 849.8,53.3 907.5,104.3 814.7,143.6" fill="#f6f6f6" fill-opacity="0.8"/><polyline points="757.0,92.6 849.8,53.3 907.5,104.3" fill="none" stroke="#a8a8a8" stroke-width="1.1"/><polyline points="752.8,92.2 851.3,50.5 911.0,103.3" fill="none" stroke="#c4c4c4" stroke-width="1"/>
<ellipse cx="792.2" cy="96.3" rx="12" ry="2.6" fill="url(#gOr)" stroke="#c9a080" stroke-width="0.6" transform="rotate(-24 792.2 96.3)"/><ellipse cx="806.0" cy="78.5" rx="12" ry="2.6" fill="url(#gOr)" stroke="#c9a080" stroke-width="0.6" transform="rotate(-22 806.0 78.5)"/><ellipse cx="835.8" cy="73.4" rx="12" ry="2.6" fill="url(#gOr)" stroke="#c9a080" stroke-width="0.6" transform="rotate(-26 835.8 73.4)"/><ellipse cx="784.1" cy="82.5" rx="12" ry="2.6" fill="url(#gOr)" stroke="#c9a080" stroke-width="0.6" transform="rotate(-29 784.1 82.5)"/><ellipse cx="811.0" cy="72.8" rx="12" ry="2.6" fill="url(#gOr)" stroke="#c9a080" stroke-width="0.6" transform="rotate(-22 811.0 72.8)"/><ellipse cx="789.1" cy="105.4" rx="12" ry="2.6" fill="url(#gOr)" stroke="#c9a080" stroke-width="0.6" transform="rotate(-22 789.1 105.4)"/><ellipse cx="775.6" cy="94.2" rx="12" ry="2.6" fill="url(#gOr)" stroke="#c9a080" stroke-width="0.6" transform="rotate(-27 775.6 94.2)"/><ellipse cx="796.8" cy="80.9" rx="12" ry="2.6" fill="url(#gOr)" stroke="#c9a080" stroke-width="0.6" transform="rotate(-21 796.8 80.9)"/><ellipse cx="810.6" cy="85.1" rx="12" ry="2.6" fill="url(#gOr)" stroke="#c9a080" stroke-width="0.6" transform="rotate(-29 810.6 85.1)"/><ellipse cx="800.7" cy="99.7" rx="12" ry="2.6" fill="url(#gOr)" stroke="#c9a080" stroke-width="0.6" transform="rotate(-20 800.7 99.7)"/><ellipse cx="823.4" cy="84.1" rx="12" ry="2.6" fill="url(#gOr)" stroke="#c9a080" stroke-width="0.6" transform="rotate(-33 823.4 84.1)"/><ellipse cx="817.6" cy="89.0" rx="12" ry="2.6" fill="url(#gOr)" stroke="#c9a080" stroke-width="0.6" transform="rotate(-32 817.6 89.0)"/><ellipse cx="851.5" cy="76.2" rx="12" ry="2.6" fill="url(#gOr)" stroke="#c9a080" stroke-width="0.6" transform="rotate(-28 851.5 76.2)"/><ellipse cx="802.2" cy="86.1" rx="12" ry="2.6" fill="url(#gOr)" stroke="#c9a080" stroke-width="0.6" transform="rotate(-28 802.2 86.1)"/><ellipse cx="847.1" cy="65.5" rx="12" ry="2.6" fill="url(#gOr)" stroke="#c9a080" stroke-width="0.6" transform="rotate(-35 847.1 65.5)"/><ellipse cx="825.9" cy="70.3" rx="12" ry="2.6" fill="url(#gOr)" stroke="#c9a080" stroke-width="0.6" transform="rotate(-25 825.9 70.3)"/><ellipse cx="810.1" cy="94.7" rx="12" ry="2.6" fill="url(#gOr)" stroke="#c9a080" stroke-width="0.6" transform="rotate(-29 810.1 94.7)"/>
<ellipse cx="838.4" cy="108.9" rx="12.5" ry="2.5" fill="url(#gOr)" stroke="#c9a080" stroke-width="0.6" transform="rotate(58 838.4 108.9)"/><ellipse cx="861.5" cy="88.0" rx="12.5" ry="2.5" fill="url(#gOr)" stroke="#c9a080" stroke-width="0.6" transform="rotate(67 861.5 88.0)"/><ellipse cx="851.2" cy="110.9" rx="12.5" ry="2.5" fill="url(#gOr)" stroke="#c9a080" stroke-width="0.6" transform="rotate(56 851.2 110.9)"/><ellipse cx="839.5" cy="118.4" rx="12.5" ry="2.5" fill="url(#gOr)" stroke="#c9a080" stroke-width="0.6" transform="rotate(65 839.5 118.4)"/><ellipse cx="853.9" cy="95.8" rx="12.5" ry="2.5" fill="url(#gOr)" stroke="#c9a080" stroke-width="0.6" transform="rotate(60 853.9 95.8)"/><ellipse cx="813.9" cy="123.3" rx="12.5" ry="2.5" fill="url(#gOr)" stroke="#c9a080" stroke-width="0.6" transform="rotate(76 813.9 123.3)"/><ellipse cx="857.7" cy="112.9" rx="12.5" ry="2.5" fill="url(#gOr)" stroke="#c9a080" stroke-width="0.6" transform="rotate(64 857.7 112.9)"/><ellipse cx="831.9" cy="120.8" rx="12.5" ry="2.5" fill="url(#gOr)" stroke="#c9a080" stroke-width="0.6" transform="rotate(72 831.9 120.8)"/><ellipse cx="828.5" cy="104.4" rx="12.5" ry="2.5" fill="url(#gOr)" stroke="#c9a080" stroke-width="0.6" transform="rotate(61 828.5 104.4)"/><ellipse cx="816.4" cy="115.4" rx="12.5" ry="2.5" fill="url(#gOr)" stroke="#c9a080" stroke-width="0.6" transform="rotate(74 816.4 115.4)"/><ellipse cx="829.7" cy="128.1" rx="12.5" ry="2.5" fill="url(#gOr)" stroke="#c9a080" stroke-width="0.6" transform="rotate(75 829.7 128.1)"/><ellipse cx="806.6" cy="122.5" rx="12.5" ry="2.5" fill="url(#gOr)" stroke="#c9a080" stroke-width="0.6" transform="rotate(66 806.6 122.5)"/><ellipse cx="867.1" cy="88.9" rx="12.5" ry="2.5" fill="url(#gOr)" stroke="#c9a080" stroke-width="0.6" transform="rotate(69 867.1 88.9)"/><ellipse cx="796.1" cy="118.0" rx="12.5" ry="2.5" fill="url(#gOr)" stroke="#c9a080" stroke-width="0.6" transform="rotate(67 796.1 118.0)"/><ellipse cx="853.8" cy="119.0" rx="12.5" ry="2.5" fill="url(#gOr)" stroke="#c9a080" stroke-width="0.6" transform="rotate(65 853.8 119.0)"/><ellipse cx="821.1" cy="123.3" rx="12.5" ry="2.5" fill="url(#gOr)" stroke="#c9a080" stroke-width="0.6" transform="rotate(77 821.1 123.3)"/><ellipse cx="844.4" cy="99.5" rx="12.5" ry="2.5" fill="url(#gOr)" stroke="#c9a080" stroke-width="0.6" transform="rotate(61 844.4 99.5)"/><ellipse cx="894.6" cy="104.1" rx="12.5" ry="2.5" fill="url(#gOr)" stroke="#c9a080" stroke-width="0.6" transform="rotate(58 894.6 104.1)"/><ellipse cx="870.8" cy="112.7" rx="12.5" ry="2.5" fill="url(#gOr)" stroke="#c9a080" stroke-width="0.6" transform="rotate(60 870.8 112.7)"/><ellipse cx="874.7" cy="99.9" rx="12.5" ry="2.5" fill="url(#gOr)" stroke="#c9a080" stroke-width="0.6" transform="rotate(65 874.7 99.9)"/><ellipse cx="847.9" cy="123.5" rx="12.5" ry="2.5" fill="url(#gOr)" stroke="#c9a080" stroke-width="0.6" transform="rotate(68 847.9 123.5)"/><ellipse cx="813.5" cy="132.3" rx="12.5" ry="2.5" fill="url(#gOr)" stroke="#c9a080" stroke-width="0.6" transform="rotate(63 813.5 132.3)"/><ellipse cx="819.8" cy="129.2" rx="12.5" ry="2.5" fill="url(#gOr)" stroke="#c9a080" stroke-width="0.6" transform="rotate(56 819.8 129.2)"/><ellipse cx="873.4" cy="107.3" rx="12.5" ry="2.5" fill="url(#gOr)" stroke="#c9a080" stroke-width="0.6" transform="rotate(66 873.4 107.3)"/><ellipse cx="861.1" cy="100.9" rx="12.5" ry="2.5" fill="url(#gOr)" stroke="#c9a080" stroke-width="0.6" transform="rotate(60 861.1 100.9)"/><ellipse cx="878.3" cy="92.9" rx="12.5" ry="2.5" fill="url(#gOr)" stroke="#c9a080" stroke-width="0.6" transform="rotate(64 878.3 92.9)"/><ellipse cx="869.4" cy="95.7" rx="12.5" ry="2.5" fill="url(#gOr)" stroke="#c9a080" stroke-width="0.6" transform="rotate(70 869.4 95.7)"/>
<line x1="775.5" y1="119.8" x2="873.2" y2="69.8" stroke="#2f5597" stroke-width="3.3" stroke-dasharray="3.2 3.65"/>
<text x="701" y="63.8" font-size="23.6" fill="#ed7d31" font-family="Liberation Serif, serif" text-anchor="start" >LC</text>
<line x1="724.7" y1="69" x2="738" y2="94" stroke="#ed7d31" stroke-width="1.8"/>
<path d="M746.9,109.4 L733,92 L741,87.7 Z" fill="#ed7d31"/>
<path d="M753.4,103.5 C754.5,110 762,112.5 762,118.8 A6.5,6.5 0 1 1 749,118.8 C749,114 752.5,110 753.4,103.5 Z" fill="#ed7d31"/>
<text x="802.5" y="22.3" font-size="24" font-weight="bold" fill="#ed7d31" font-family="Liberation Serif, serif">n<tspan font-size="16" dy="6">1</tspan></text>
<text x="882" y="168" font-size="24" font-weight="bold" fill="#ed7d31" font-family="Liberation Serif, serif">n<tspan font-size="16" dy="6">2</tspan></text>
<line x1="808.9" y1="44.9" x2="830.2" y2="35.1" stroke="#ed7d31" stroke-width="2"/><path d="M801.6,48.2 L812.2,47.3 L809.2,40.8 Z" fill="#ed7d31"/><path d="M837.5,31.8 L829.9,39.2 L826.9,32.7 Z" fill="#ed7d31"/>
<line x1="861.3" y1="164.9" x2="877.8" y2="180.7" stroke="#ed7d31" stroke-width="2"/><path d="M855.5,159.4 L860.3,168.9 L865.2,163.7 Z" fill="#ed7d31"/><path d="M883.6,186.2 L873.9,181.9 L878.8,176.7 Z" fill="#ed7d31"/>
<text x="9.5" y="37.5" font-size="23.5" fill="#000" font-family="Liberation Sans, sans-serif" text-anchor="start" >A</text>
<text x="9.8" y="241.4" font-size="23.5" fill="#000" font-family="Liberation Sans, sans-serif" text-anchor="start" >B</text>
<text x="490.3" y="241.4" font-size="23.5" fill="#000" font-family="Liberation Sans, sans-serif" text-anchor="start" >C</text>
<text x="9.8" y="456.8" font-size="23.5" fill="#000" font-family="Liberation Sans, sans-serif" text-anchor="start" >D</text>
<text x="10.8" y="849.7" font-size="23.5" fill="#000" font-family="Liberation Sans, sans-serif" text-anchor="start" >E</text>
<rect x="47.5" y="239.5" width="108" height="164" rx="7" fill="#c6f0fa" filter="url(#b3)"/>
<rect x="56" y="248" width="91" height="147" rx="6" fill="#b3ebf8" filter="url(#b5)" opacity="0.6"/>
<ellipse cx="100" cy="328" rx="20" ry="56" fill="#ffffff" filter="url(#b8)" opacity="0.7"/>
<ellipse cx="100" cy="330" rx="6" ry="22" fill="#ffffff" filter="url(#b5)" opacity="0.7"/>
<rect x="44.4" y="236.4" width="114.5" height="170.3" rx="12" fill="none" stroke="#9b9b9b" stroke-width="2.3" stroke-dasharray="6.8 3"/>
<polyline points="78.9,257.8 134.8,257.8 138.9,311" fill="none" stroke="#ed7d31" stroke-width="3.8" stroke-dasharray="9 6"/>
<line x1="70.2" y1="383" x2="104.5" y2="383" stroke="#ed7d31" stroke-width="4.2" stroke-dasharray="6.1 3.25"/>
<line x1="109.1" y1="383" x2="143.2" y2="383" stroke="#000" stroke-width="4.2" stroke-dasharray="5.8 3.6"/>
<text x="62.3" y="272.7" font-size="25.5" font-weight="bold" fill="#ed7d31" font-family="Liberation Serif, serif">n<tspan font-size="16.5" dy="6.8" dx="0.5">1</tspan></text>
<text x="116.5" y="323.5" font-size="25.5" font-weight="bold" fill="#ed7d31" font-family="Liberation Serif, serif">n<tspan font-size="16.5" dy="6.8" dx="0.5">2</tspan></text>
<text x="57.3" y="368.7" font-size="25.5" font-weight="bold" fill="#ed7d31" font-family="Liberation Serif, serif">n<tspan font-size="16.5" dy="6.5" dx="0.5">1</tspan></text>
<text x="94" y="293.3" font-size="26" font-style="italic" fill="#000" font-family="Liberation Serif, serif">β</text>
<text x="114.8" y="298.4" font-size="15.5" fill="#000" font-family="Liberation Serif, serif" text-anchor="start" >1</text>
<text x="99.3" y="357" font-size="26" font-style="italic" fill="#000" font-family="Liberation Serif, serif">β</text>
<text x="118.5" y="362.3" font-size="15.5" fill="#000" font-family="Liberation Serif, serif" text-anchor="start" >2</text>
<text x="134" y="371.5" font-size="25" font-style="italic" font-weight="bold" fill="#000" font-family="Liberation Serif, serif">x</text>
<path d="M107.7,259.8 Q111.5,279.5 131,282" fill="none" stroke="#000" stroke-width="2.3"/>
<path d="M134.6,282 L125.5,277 L128.7,281.8 L126,286.3 Z" fill="#000" stroke="#000" stroke-width="0.6" stroke-linejoin="round"/>
<path d="M118.6,381 Q113.5,368 100.5,377" fill="none" stroke="#000" stroke-width="2.3"/>
<path d="M96.4,380.6 L99,371 L101.6,376.2 L106.7,378.6 Z" fill="#000" stroke="#000" stroke-width="0.6" stroke-linejoin="round"/>
<rect x="175" y="236.4" width="74.19999999999999" height="167.99999999999997" fill="none" stroke="#0e9cf6" stroke-width="3.3" stroke-dasharray="9.5 3"/>
<rect x="179.1" y="242.8" width="11.8" height="4.2" fill="#000"/>
<rect x="192.7" y="242.8" width="11.8" height="4.2" fill="#000"/>
<rect x="206.29999999999998" y="242.8" width="11.8" height="4.2" fill="#000"/>
<rect x="219.89999999999998" y="242.8" width="11.8" height="4.2" fill="#000"/>
<rect x="233.5" y="242.8" width="11.8" height="4.2" fill="#000"/>
<rect x="179.1" y="257.7" width="11.8" height="4.2" fill="#000"/>
<rect x="192.7" y="257.7" width="11.8" height="4.2" fill="#000"/>
<rect x="206.29999999999998" y="257.7" width="11.8" height="4.2" fill="#000"/>
<rect x="219.89999999999998" y="257.7" width="11.8" height="4.2" fill="#000"/>
<rect x="233.5" y="257.7" width="11.8" height="4.2" fill="#000"/>
<rect x="179.1" y="272.79999999999995" width="11.8" height="4.2" fill="#000"/>
<rect x="192.7" y="272.79999999999995" width="11.8" height="4.2" fill="#000"/>
<rect x="206.29999999999998" y="272.79999999999995" width="11.8" height="4.2" fill="#000"/>
<rect x="219.89999999999998" y="272.79999999999995" width="11.8" height="4.2" fill="#000"/>
<rect x="233.5" y="272.79999999999995" width="11.8" height="4.2" fill="#000"/>
<rect x="179.1" y="288.7" width="11.8" height="4.2" fill="#000"/>
<rect x="192.7" y="288.7" width="11.8" height="4.2" fill="#000"/>
<rect x="206.29999999999998" y="288.7" width="11.8" height="4.2" fill="#000"/>
<rect x="219.89999999999998" y="288.7" width="11.8" height="4.2" fill="#000"/>
<rect x="233.5" y="288.7" width="11.8" height="4.2" fill="#000"/>
<rect x="179.1" y="303.79999999999995" width="11.8" height="4.2" fill="#000"/>
<rect x="192.7" y="303.79999999999995" width="11.8" height="4.2" fill="#000"/>
<rect x="206.29999999999998" y="303.79999999999995" width="11.8" height="4.2" fill="#000"/>
<rect x="219.89999999999998" y="303.79999999999995" width="11.8" height="4.2" fill="#000"/>
<rect x="233.5" y="303.79999999999995" width="11.8" height="4.2" fill="#000"/>
<rect x="174.9" y="316.5" width="74" height="15.7" fill="#fff" stroke="#fdb900" stroke-width="3.1"/>
<g clip-path="url(#cpB)"><line x1="178.09" y1="319.90" x2="187.31" y2="328.50" stroke="#000" stroke-width="3.6"/></g>
<g clip-path="url(#cpB)"><line x1="190.14" y1="319.90" x2="199.36" y2="328.50" stroke="#000" stroke-width="3.6"/></g>
<g clip-path="url(#cpB)"><line x1="202.19" y1="319.90" x2="211.41" y2="328.50" stroke="#000" stroke-width="3.6"/></g>
<g clip-path="url(#cpB)"><line x1="214.24" y1="319.90" x2="223.46" y2="328.50" stroke="#000" stroke-width="3.6"/></g>
<g clip-path="url(#cpB)"><line x1="226.29" y1="319.90" x2="235.51" y2="328.50" stroke="#000" stroke-width="3.6"/></g>
<g clip-path="url(#cpB)"><line x1="238.34" y1="319.90" x2="247.56" y2="328.50" stroke="#000" stroke-width="3.6"/></g>
<line x1="184.32" y1="339.74" x2="185.68" y2="350.86" stroke="#000" stroke-width="3.4"/>
<line x1="197.82" y1="339.74" x2="199.18" y2="350.86" stroke="#000" stroke-width="3.4"/>
<line x1="211.42" y1="339.74" x2="212.78" y2="350.86" stroke="#000" stroke-width="3.4"/>
<line x1="225.22" y1="339.74" x2="226.58" y2="350.86" stroke="#000" stroke-width="3.4"/>
<line x1="238.82" y1="339.74" x2="240.18" y2="350.86" stroke="#000" stroke-width="3.4"/>
<line x1="184.32" y1="355.44" x2="185.68" y2="366.56" stroke="#000" stroke-width="3.4"/>
<line x1="197.82" y1="355.44" x2="199.18" y2="366.56" stroke="#000" stroke-width="3.4"/>
<line x1="211.42" y1="355.44" x2="212.78" y2="366.56" stroke="#000" stroke-width="3.4"/>
<line x1="225.22" y1="355.44" x2="226.58" y2="366.56" stroke="#000" stroke-width="3.4"/>
<line x1="238.82" y1="355.44" x2="240.18" y2="366.56" stroke="#000" stroke-width="3.4"/>
<line x1="184.32" y1="370.84" x2="185.68" y2="381.96" stroke="#000" stroke-width="3.4"/>
<line x1="197.82" y1="370.84" x2="199.18" y2="381.96" stroke="#000" stroke-width="3.4"/>
<line x1="211.42" y1="370.84" x2="212.78" y2="381.96" stroke="#000" stroke-width="3.4"/>
<line x1="225.22" y1="370.84" x2="226.58" y2="381.96" stroke="#000" stroke-width="3.4"/>
<line x1="238.82" y1="370.84" x2="240.18" y2="381.96" stroke="#000" stroke-width="3.4"/>
<line x1="184.32" y1="386.14" x2="185.68" y2="397.26" stroke="#000" stroke-width="3.4"/>
<line x1="197.82" y1="386.14" x2="199.18" y2="397.26" stroke="#000" stroke-width="3.4"/>
<line x1="211.42" y1="386.14" x2="212.78" y2="397.26" stroke="#000" stroke-width="3.4"/>
<line x1="225.22" y1="386.14" x2="226.58" y2="397.26" stroke="#000" stroke-width="3.4"/>
<line x1="238.82" y1="386.14" x2="240.18" y2="397.26" stroke="#000" stroke-width="3.4"/>
<rect x="260.75" y="234.25" width="222.25" height="171.25" fill="url(#mB)"/>
<rect x="260.75" y="300.4" width="222.25" height="48" fill="url(#bandB)"/>
<text x="268" y="257" font-size="22" fill="#fff" font-family="Liberation Serif, serif" ><tspan font-style="italic">β</tspan><tspan font-size="15.4" dy="4.8" dx="0">1</tspan><tspan dy="-4.8"> = 91<tspan font-size="15" dy="-5">o</tspan></tspan></text>
<text x="416" y="257" font-size="22" fill="#fff" font-family="Liberation Serif, serif" ><tspan font-style="italic">β</tspan><tspan font-size="15.4" dy="4.8" dx="0">2</tspan><tspan dy="-4.8"> = 0<tspan font-size="15" dy="-5">o</tspan></tspan></text>
<text x="447" y="303" font-size="24" font-weight="bold" fill="#fff" font-family="Liberation Serif, serif">n<tspan font-size="16" dy="6">1</tspan></text>
<text x="450" y="391" font-size="24" font-weight="bold" fill="#fff" font-family="Liberation Serif, serif">n<tspan font-size="16" dy="6">2</tspan></text>
<polyline points="275,364 275,396.5 307,396.5" fill="none" stroke="#fff" stroke-width="3.6"/>
<line x1="275.5" y1="397" x2="304" y2="369" stroke="#0aa24b" stroke-width="3.2"/>
<text x="273" y="356" font-size="18" fill="#fff" font-family="Liberation Serif, serif" text-anchor="start" >A</text>
<text x="315" y="400" font-size="18" fill="#fff" font-family="Liberation Serif, serif" text-anchor="start" >P</text>
<text x="303" y="367" font-size="17" fill="#fff" font-family="Liberation Serif, serif" text-anchor="start" font-style="italic">λ</text>
<rect x="524.9" y="236.2" width="87.70000000000005" height="168.0" fill="none" stroke="#0e9cf6" stroke-width="3.3" stroke-dasharray="9.5 3"/>
<rect x="528.95" y="243.8" width="12.1" height="4.4" fill="#000"/>
<line x1="542.73" y1="242.58" x2="553.67" y2="249.42" stroke="#fbe034" stroke-width="3.5"/>
<line x1="556.53" y1="242.58" x2="567.47" y2="249.42" stroke="#fbe034" stroke-width="3.5"/>
<line x1="569.93" y1="249.42" x2="580.87" y2="242.58" stroke="#6e8f5a" stroke-width="3.5"/>
<line x1="583.73" y1="249.42" x2="594.67" y2="242.58" stroke="#6e8f5a" stroke-width="3.5"/>
<rect x="597.0500000000001" y="243.8" width="12.1" height="4.4" fill="#000"/>
<rect x="528.95" y="259.6" width="12.1" height="4.4" fill="#000"/>
<line x1="542.73" y1="258.38" x2="553.67" y2="265.22" stroke="#fbe034" stroke-width="3.5"/>
<line x1="556.53" y1="258.38" x2="567.47" y2="265.22" stroke="#fbe034" stroke-width="3.5"/>
<line x1="569.93" y1="265.22" x2="580.87" y2="258.38" stroke="#6e8f5a" stroke-width="3.5"/>
<line x1="583.73" y1="265.22" x2="594.67" y2="258.38" stroke="#6e8f5a" stroke-width="3.5"/>
<rect x="597.0500000000001" y="259.6" width="12.1" height="4.4" fill="#000"/>
<rect x="528.95" y="275.1" width="12.1" height="4.4" fill="#000"/>
<line x1="542.73" y1="273.88" x2="553.67" y2="280.72" stroke="#fbe034" stroke-width="3.5"/>
<line x1="556.53" y1="273.88" x2="567.47" y2="280.72" stroke="#fbe034" stroke-width="3.5"/>
<line x1="569.93" y1="280.72" x2="580.87" y2="273.88" stroke="#6e8f5a" stroke-width="3.5"/>
<line x1="583.73" y1="280.72" x2="594.67" y2="273.88" stroke="#6e8f5a" stroke-width="3.5"/>
<rect x="597.0500000000001" y="275.1" width="12.1" height="4.4" fill="#000"/>
<rect x="528.95" y="290.8" width="12.1" height="4.4" fill="#000"/>
<rect x="542.1500000000001" y="290.8" width="12.1" height="4.4" fill="#000"/>
<rect x="555.95" y="290.8" width="12.1" height="4.4" fill="#000"/>
<rect x="569.35" y="290.8" width="12.1" height="4.4" fill="#000"/>
<rect x="583.1500000000001" y="290.8" width="12.1" height="4.4" fill="#000"/>
<rect x="597.0500000000001" y="290.8" width="12.1" height="4.4" fill="#000"/>
<rect x="528.95" y="305.7" width="12.1" height="4.4" fill="#000"/>
<rect x="542.1500000000001" y="305.7" width="12.1" height="4.4" fill="#000"/>
<rect x="555.95" y="305.7" width="12.1" height="4.4" fill="#000"/>
<rect x="569.35" y="305.7" width="12.1" height="4.4" fill="#000"/>
<rect x="583.1500000000001" y="305.7" width="12.1" height="4.4" fill="#000"/>
<rect x="597.0500000000001" y="305.7" width="12.1" height="4.4" fill="#000"/>
<rect x="525.6" y="317.8" width="87.3" height="15.4" fill="#fff" stroke="#fdb900" stroke-width="3.2"/>
<line x1="528.27" y1="321.37" x2="537.33" y2="329.83" stroke="#000" stroke-width="3.6"/>
<line x1="540.47" y1="321.37" x2="549.53" y2="329.83" stroke="#000" stroke-width="3.6"/>
<line x1="552.67" y1="321.37" x2="561.73" y2="329.83" stroke="#000" stroke-width="3.6"/>
<line x1="564.57" y1="321.37" x2="573.63" y2="329.83" stroke="#000" stroke-width="3.6"/>
<line x1="576.37" y1="321.37" x2="585.43" y2="329.83" stroke="#000" stroke-width="3.6"/>
<line x1="588.37" y1="321.37" x2="597.43" y2="329.83" stroke="#000" stroke-width="3.6"/>
<line x1="599.87" y1="321.37" x2="608.93" y2="329.83" stroke="#000" stroke-width="3.6"/>
<line x1="534.20" y1="341.07" x2="535.20" y2="352.53" stroke="#000" stroke-width="3.4"/>
<line x1="547.70" y1="341.07" x2="548.70" y2="352.53" stroke="#000" stroke-width="3.4"/>
<line x1="561.50" y1="341.07" x2="562.50" y2="352.53" stroke="#000" stroke-width="3.4"/>
<line x1="575.20" y1="341.07" x2="576.20" y2="352.53" stroke="#000" stroke-width="3.4"/>
<line x1="588.80" y1="341.07" x2="589.80" y2="352.53" stroke="#000" stroke-width="3.4"/>
<line x1="603.30" y1="341.07" x2="604.30" y2="352.53" stroke="#000" stroke-width="3.4"/>
<line x1="534.20" y1="356.87" x2="535.20" y2="368.33" stroke="#000" stroke-width="3.4"/>
<line x1="547.70" y1="356.87" x2="548.70" y2="368.33" stroke="#000" stroke-width="3.4"/>
<line x1="561.50" y1="356.87" x2="562.50" y2="368.33" stroke="#000" stroke-width="3.4"/>
<line x1="575.20" y1="356.87" x2="576.20" y2="368.33" stroke="#000" stroke-width="3.4"/>
<line x1="588.80" y1="356.87" x2="589.80" y2="368.33" stroke="#000" stroke-width="3.4"/>
<line x1="603.30" y1="356.87" x2="604.30" y2="368.33" stroke="#000" stroke-width="3.4"/>
<line x1="534.20" y1="372.17" x2="535.20" y2="383.63" stroke="#000" stroke-width="3.4"/>
<line x1="547.70" y1="372.17" x2="548.70" y2="383.63" stroke="#000" stroke-width="3.4"/>
<line x1="561.50" y1="372.17" x2="562.50" y2="383.63" stroke="#000" stroke-width="3.4"/>
<line x1="575.20" y1="372.17" x2="576.20" y2="383.63" stroke="#000" stroke-width="3.4"/>
<line x1="588.80" y1="372.17" x2="589.80" y2="383.63" stroke="#000" stroke-width="3.4"/>
<line x1="603.30" y1="372.17" x2="604.30" y2="383.63" stroke="#000" stroke-width="3.4"/>
<line x1="534.20" y1="387.47" x2="535.20" y2="398.93" stroke="#000" stroke-width="3.4"/>
<line x1="547.70" y1="387.47" x2="548.70" y2="398.93" stroke="#000" stroke-width="3.4"/>
<line x1="561.50" y1="387.47" x2="562.50" y2="398.93" stroke="#000" stroke-width="3.4"/>
<line x1="575.20" y1="387.47" x2="576.20" y2="398.93" stroke="#000" stroke-width="3.4"/>
<line x1="588.80" y1="387.47" x2="589.80" y2="398.93" stroke="#000" stroke-width="3.4"/>
<line x1="603.30" y1="387.47" x2="604.30" y2="398.93" stroke="#000" stroke-width="3.4"/>
<g clip-path="url(#cpC)">
<rect x="622" y="234.25" width="315.5" height="170.75" fill="url(#mB)"/>
<ellipse cx="786" cy="263" rx="11" ry="19" fill="#6e2446" filter="url(#b5)"/>
<ellipse cx="771" cy="252" rx="6.5" ry="23" fill="#ee8a2c" filter="url(#b3)"/>
<ellipse cx="771.5" cy="253" rx="3.6" ry="15" fill="#ffd83a" filter="url(#b2)"/>
<ellipse cx="771.5" cy="252" rx="1.8" ry="8" fill="#fff6c0" filter="url(#b2)" opacity="0.9"/>
<ellipse cx="785.5" cy="258" rx="5" ry="11.5" fill="#2a9a84" filter="url(#b3)"/>
<ellipse cx="785.5" cy="256" rx="2.6" ry="6" fill="#3ab09a" filter="url(#b2)"/>
<rect x="622" y="299.5" width="315.5" height="42" fill="url(#bandB)"/>
</g>
<rect x="750" y="235.7" width="61.5" height="168.3" fill="none" stroke="#fff" stroke-width="1.4" stroke-dasharray="4 2"/>
<line x1="617.5" y1="321.3" x2="650" y2="321.3" stroke="#000" stroke-width="1.6"/>
<path d="M671.5,321.3 L646.5,316.5 L646.5,326 Z" fill="#000"/>
<text x="684.5" y="328.5" font-size="21" fill="#000" font-family="Liberation Serif, serif" text-anchor="start" >Wall</text>
<circle cx="647" cy="385" r="6.3" fill="none" stroke="#fff" stroke-width="2.2"/><circle cx="647" cy="385" r="3.2" fill="#fff"/>
<text x="664" y="391" font-size="21" fill="#fff" font-family="Liberation Serif, serif" text-anchor="start" font-style="italic">E</text>
<text x="866.5" y="375.5" font-size="21" fill="#fff" font-family="Liberation Serif, serif" text-anchor="start" >15 μm</text>
<rect x="868" y="387" width="53" height="3.8" fill="#fff"/>
<rect x="46" y="437.5" width="215" height="36.5" fill="url(#hcy)"/><ellipse cx="153.5" cy="455.75" rx="62" ry="6" fill="#fff" opacity="0.6" filter="url(#b5)"/><rect x="46" y="437.5" width="215" height="36.5" fill="url(#hcx)"/>
<rect x="720.5" y="437.5" width="216.0" height="36.5" fill="url(#hcy)"/><ellipse cx="828.5" cy="455.75" rx="62" ry="6" fill="#fff" opacity="0.6" filter="url(#b5)"/><rect x="720.5" y="437.5" width="216.0" height="36.5" fill="url(#hcx)"/>
<rect x="271" y="437" width="215" height="36.7" fill="url(#hpx)"/>
<ellipse cx="378.5" cy="435" rx="95" ry="6.5" fill="#fff" filter="url(#b2)"/>
<ellipse cx="378.5" cy="476" rx="95" ry="6.5" fill="#fff" filter="url(#b2)"/>
<rect x="495" y="436.5" width="215" height="37" fill="url(#hgy)"/>
<rect x="495" y="436.5" width="215" height="37" fill="url(#hgx)"/>
<text x="151" y="461.3" font-size="23.6" fill="#454545" font-family="Liberation Serif, serif" text-anchor="middle" >Negative refraction</text>
<text x="380.5" y="461.3" font-size="23.6" fill="#454545" font-family="Liberation Serif, serif" text-anchor="middle" >Reflection</text>
<text x="603.7" y="461.3" font-size="23.6" fill="#454545" font-family="Liberation Serif, serif" text-anchor="middle" >Negative reflection</text>
<text x="830.5" y="461.3" font-size="23.6" fill="#454545" font-family="Liberation Serif, serif" text-anchor="middle" >Negative refraction</text>
<text transform="translate(29.2,568.8) rotate(-90)" font-size="21.5" font-weight="bold" fill="#000" font-family="Liberation Serif, serif"><tspan x="0" font-style="italic">β</tspan><tspan x="18.3" dy="5" font-size="14.5">1</tspan><tspan x="30" dy="-5">=</tspan><tspan x="45.6">9</tspan><tspan x="57">1</tspan><tspan x="69.3" dy="-7.8" font-size="13.7">o</tspan></text>
<line x1="17.5" y1="645.8" x2="17.5" y2="624.8" stroke="#000" stroke-width="2"/><path d="M17.5,606.8 L12.9,629.3 L22.1,629.3 Z" fill="#000"/><line x1="13.0" y1="640.8" x2="33.5" y2="640.8" stroke="#000" stroke-width="2"/><path d="M52.5,640.8 L29.0,636.1999999999999 L29.0,645.4 Z" fill="#000"/><text x="23.5" y="614.8" font-size="24" font-style="italic" font-family="Liberation Serif, serif">y</text><text x="55.5" y="650.3" font-size="24" font-style="italic" font-family="Liberation Serif, serif">x</text>
<g clip-path="url(#cD1)">
<rect x="43.3" y="482.5" width="217.09999999999997" height="154.20000000000005" fill="url(#mD1)"/>
<ellipse cx="103" cy="508" rx="6" ry="2.2" fill="#4f9a6a" opacity="0.9" transform="rotate(10 103 508)" filter="url(#b1)"/><ellipse cx="104" cy="514.5" rx="8" ry="3" fill="#f07a28" opacity="1" transform="rotate(8 104 514.5)" filter="url(#b2)"/><ellipse cx="104" cy="514" rx="4" ry="1.5" fill="#ffc23a" opacity="1" transform="rotate(8 104 514)" filter="url(#b1)"/>
<ellipse cx="158" cy="532" rx="5" ry="2" fill="#4f9a6a" opacity="0.9" transform="rotate(15 158 532)" filter="url(#b1)"/><ellipse cx="158.5" cy="538.5" rx="9" ry="3" fill="#f07a28" opacity="1" transform="rotate(10 158.5 538.5)" filter="url(#b2)"/><ellipse cx="158" cy="538" rx="4.5" ry="1.5" fill="#ffc23a" opacity="1" transform="rotate(10 158 538)" filter="url(#b1)"/>
<ellipse cx="203" cy="552.5" rx="6" ry="2.5" fill="#5a9a60" opacity="0.9" transform="rotate(20 203 552.5)" filter="url(#b1)"/>
<ellipse cx="197" cy="558" rx="5" ry="4" fill="#f7a52a" opacity="1" transform="rotate(0 197 558)" filter="url(#b2)"/>
<rect x="43.3" y="552.7" width="217.09999999999997" height="23.0" fill="url(#bandD1)"/>
<ellipse cx="213.5" cy="578" rx="2.6" ry="11" fill="#f7a02a" opacity="1" transform="rotate(4 213.5 578)" filter="url(#b2)"/><ellipse cx="213" cy="575" rx="1.6" ry="7" fill="#ffe23a" opacity="1" transform="rotate(4 213 575)" filter="url(#b1)"/>
<ellipse cx="205.5" cy="592" rx="2" ry="7" fill="#7a6a50" opacity="0.7" transform="rotate(8 205.5 592)" filter="url(#b2)"/>
<ellipse cx="204.5" cy="616" rx="2.6" ry="8" fill="#5a9a64" opacity="1" transform="rotate(12 204.5 616)" filter="url(#b2)"/><ellipse cx="208" cy="632" rx="3" ry="7" fill="#f58a26" opacity="1" transform="rotate(8 208 632)" filter="url(#b2)"/><ellipse cx="208" cy="631" rx="1.5" ry="4" fill="#ffd23a" opacity="1" transform="rotate(8 208 631)" filter="url(#b1)"/>
</g>
<line x1="87.50" y1="494.50" x2="206.02" y2="546.47" stroke="#fff" stroke-width="1.8" stroke-dasharray="5.5 3.5"/><path d="M222.50,553.70 L202.34,549.88 L204.18,545.67 L206.03,541.46 Z" fill="#fff"/>
<line x1="223.70" y1="573.70" x2="217.59" y2="618.18" stroke="#fff" stroke-width="1.8" stroke-dasharray="5.5 3.5"/><path d="M215.00,637.00 L213.70,615.62 L217.86,616.20 L222.02,616.77 Z" fill="#fff"/>
<line x1="158.75" y1="518.75" x2="233.1" y2="553.75" stroke="#2a94f4" stroke-width="3.8" stroke-dasharray="13 9"/>
<line x1="233.1" y1="481.55" x2="233.1" y2="553.75" stroke="#2a94f4" stroke-width="3.8" stroke-dasharray="12 10.2" clip-path="url(#cD1)"/>
<path d="M233,530.8 Q218,529 213,537.5" fill="none" stroke="#2a94f4" stroke-width="3.1"/>
<path d="M209.8,542.2 L207.6,531.5 L213.3,536 L220.3,536.2 Z" fill="#2a94f4"/>
<text x="208.3" y="523.8" font-size="24" fill="#2a94f4" font-family="Liberation Serif, serif" text-anchor="start" font-style="italic">θ</text>
<text x="51" y="548.7" font-size="22" fill="#fff" font-family="Liberation Serif, serif" ><tspan font-style="italic">β</tspan><tspan font-size="15.4" dy="4.8" dx="4">2</tspan><tspan dy="-4.8"> = 66<tspan font-size="15" dy="-5">o</tspan></tspan></text>
<polyline points="68.7,618.7 91.2,628.7 102.5,606.2" fill="none" stroke="#fff" stroke-width="3.6" stroke-linejoin="miter"/><line x1="91.2" y1="628.7" x2="80.7" y2="600" stroke="#0aa24b" stroke-width="3.2"/>
<text x="52.5" y="622.5" font-size="18" fill="#fff" font-family="Liberation Serif, serif" text-anchor="start" >A</text>
<text x="105" y="604" font-size="18" fill="#fff" font-family="Liberation Serif, serif" text-anchor="start" >P</text>
<text x="74.5" y="593" font-size="17" fill="#fff" font-family="Liberation Serif, serif" text-anchor="start" font-style="italic">λ</text>
<g clip-path="url(#cD2)">
<rect x="268.2" y="482" width="218.3" height="155" fill="url(#mD2)"/>
<ellipse cx="381" cy="522" rx="7" ry="36" fill="#a8303c" opacity="0.55" transform="rotate(5 381 522)" filter="url(#b3)"/>
<ellipse cx="378.3" cy="497" rx="3.6" ry="11" fill="#f0822c" opacity="1" transform="rotate(6 378.3 497)" filter="url(#b2)"/><ellipse cx="378.3" cy="497" rx="1.8" ry="8" fill="#ffaa36" opacity="1" transform="rotate(6 378.3 497)" filter="url(#b1)"/>
<ellipse cx="380" cy="514" rx="3.6" ry="11" fill="#f0822c" opacity="1" transform="rotate(8 380 514)" filter="url(#b2)"/><ellipse cx="380" cy="514" rx="1.8" ry="8" fill="#ffaa36" opacity="1" transform="rotate(8 380 514)" filter="url(#b1)"/>
<ellipse cx="381.7" cy="532" rx="3.6" ry="11" fill="#f0822c" opacity="1" transform="rotate(6 381.7 532)" filter="url(#b2)"/><ellipse cx="381.7" cy="532" rx="1.8" ry="8" fill="#ffaa36" opacity="1" transform="rotate(6 381.7 532)" filter="url(#b1)"/>
<ellipse cx="385" cy="548.5" rx="3.6" ry="11" fill="#f0822c" opacity="1" transform="rotate(10 385 548.5)" filter="url(#b2)"/><ellipse cx="385" cy="548.5" rx="1.8" ry="8" fill="#ffaa36" opacity="1" transform="rotate(10 385 548.5)" filter="url(#b1)"/>
<ellipse cx="372" cy="495" rx="2.3" ry="5" fill="#58b080" opacity="0.95" transform="rotate(6 372 495)" filter="url(#b2)"/>
<ellipse cx="385.8" cy="515" rx="2.3" ry="5" fill="#58b080" opacity="0.95" transform="rotate(6 385.8 515)" filter="url(#b2)"/>
<ellipse cx="375.4" cy="527.5" rx="2.3" ry="5" fill="#58b080" opacity="0.95" transform="rotate(6 375.4 527.5)" filter="url(#b2)"/>
<ellipse cx="390" cy="553" rx="2.3" ry="5" fill="#58b080" opacity="0.95" transform="rotate(6 390 553)" filter="url(#b2)"/>
<rect x="268.2" y="554.7" width="218.3" height="16" fill="url(#bandD)"/>
<ellipse cx="384" cy="566" rx="4" ry="3.5" fill="#ffd030" opacity="1" transform="rotate(0 384 566)" filter="url(#b2)"/>
</g>
<line x1="357.70" y1="557.60" x2="357.70" y2="503.00" stroke="#fff" stroke-width="2.3" stroke-dasharray="7.1 5.4"/><path d="M357.70,482.00 L362.70,505.00 L357.70,505.00 L352.70,505.00 Z" fill="#fff"/>
<line x1="404.60" y1="487.10" x2="404.60" y2="541.20" stroke="#fff" stroke-width="2.3" stroke-dasharray="7.3 5.2"/><path d="M404.60,562.50 L399.60,539.20 L404.60,539.20 L409.60,539.20 Z" fill="#fff"/>
<polyline points="283.3,604.5 283.3,630 307,630" fill="none" stroke="#fff" stroke-width="3.6" stroke-linejoin="miter"/><line x1="283.3" y1="630" x2="304.7" y2="608.4" stroke="#0aa24b" stroke-width="3.2"/>
<text x="409" y="624" font-size="22" fill="#fff" font-family="Liberation Serif, serif" ><tspan font-style="italic">β</tspan><tspan font-size="15.4" dy="4.8" dx="4">2</tspan><tspan dy="-4.8"> = 0<tspan font-size="15" dy="-5">o</tspan></tspan></text>
<g clip-path="url(#cD3)">
<rect x="493.5" y="482" width="217.75" height="155" fill="url(#mD3)"/>
<ellipse cx="606" cy="525" rx="12" ry="36" fill="#a02c50" opacity="0.5" transform="rotate(18 606 525)" filter="url(#b5)"/>
<ellipse cx="603.75" cy="495.6" rx="3.4" ry="10" fill="#f0822c" opacity="1" transform="rotate(27 603.75 495.6)" filter="url(#b2)"/><ellipse cx="603.75" cy="495.6" rx="1.7" ry="6.5" fill="#ffb03a" opacity="1" transform="rotate(27 603.75 495.6)" filter="url(#b1)"/>
<ellipse cx="599.6" cy="531" rx="3.4" ry="10" fill="#f0822c" opacity="1" transform="rotate(27 599.6 531)" filter="url(#b2)"/><ellipse cx="599.6" cy="531" rx="1.7" ry="6.5" fill="#ffb03a" opacity="1" transform="rotate(27 599.6 531)" filter="url(#b1)"/>
<ellipse cx="621.5" cy="518.5" rx="3.4" ry="8" fill="#f0822c" opacity="1" transform="rotate(12 621.5 518.5)" filter="url(#b2)"/><ellipse cx="621.5" cy="518.5" rx="1.7" ry="5.2" fill="#ffb03a" opacity="1" transform="rotate(12 621.5 518.5)" filter="url(#b1)"/>
<ellipse cx="603.75" cy="553" rx="3.4" ry="7" fill="#f0822c" opacity="1" transform="rotate(30 603.75 553)" filter="url(#b2)"/><ellipse cx="603.75" cy="553" rx="1.7" ry="4.55" fill="#ffb03a" opacity="1" transform="rotate(30 603.75 553)" filter="url(#b1)"/>
<ellipse cx="607" cy="502" rx="2.2" ry="5.5" fill="#58b080" opacity="0.9" transform="rotate(12 607 502)" filter="url(#b2)"/>
<ellipse cx="612.6" cy="516.5" rx="2.2" ry="5.5" fill="#58b080" opacity="0.9" transform="rotate(12 612.6 516.5)" filter="url(#b2)"/>
<ellipse cx="602.7" cy="537.3" rx="2.2" ry="5.5" fill="#58b080" opacity="0.9" transform="rotate(12 602.7 537.3)" filter="url(#b2)"/>
<ellipse cx="596.5" cy="549.8" rx="2.2" ry="5.5" fill="#58b080" opacity="0.9" transform="rotate(12 596.5 549.8)" filter="url(#b2)"/>
<rect x="493.5" y="553.5" width="217.75" height="20.6" fill="url(#bandD1)"/>
<ellipse cx="592" cy="566" rx="7" ry="3.5" fill="#ffd030" opacity="1" transform="rotate(0 592 566)" filter="url(#b2)"/>
<ellipse cx="570" cy="578" rx="2" ry="9" fill="#e06a30" opacity="0.6" transform="rotate(-50 570 578)" filter="url(#b2)"/>
</g>
<line x1="592.80" y1="489.90" x2="583.31" y2="545.32" stroke="#fff" stroke-width="2.3" stroke-dasharray="7.3 5.2"/><path d="M579.60,567.00 L578.92,542.53 L583.65,543.34 L588.38,544.15 Z" fill="#fff"/>
<line x1="619.20" y1="557.10" x2="636.21" y2="509.67" stroke="#fff" stroke-width="2.3" stroke-dasharray="7.3 5.2"/><path d="M643.30,489.90 L640.05,513.17 L635.54,511.55 L631.02,509.93 Z" fill="#fff"/>
<polyline points="512.5,602.4 508.6,627 533.4,631.8" fill="none" stroke="#fff" stroke-width="3.6" stroke-linejoin="miter"/><line x1="508.6" y1="627" x2="534.2" y2="609.7" stroke="#0aa24b" stroke-width="3.2"/>
<text x="623" y="625.3" font-size="22" fill="#fff" font-family="Liberation Serif, serif" ><tspan font-style="italic">β</tspan><tspan font-size="15.4" dy="4.8" dx="4">2</tspan><tspan dy="-4.8"> = 170<tspan font-size="15" dy="-5">o</tspan></tspan></text>
<g clip-path="url(#cD4)">
<rect x="718.3" y="479.5" width="219.60000000000002" height="156.20000000000005" fill="url(#mD4)"/>
<ellipse cx="757" cy="491" rx="7" ry="2.5" fill="#c05a3a" opacity="0.7" transform="rotate(-20 757 491)" filter="url(#b2)"/>
<ellipse cx="895" cy="540" rx="14" ry="3.2" fill="#f7a52a" opacity="1" transform="rotate(-10 895 540)" filter="url(#b2)"/><ellipse cx="893" cy="540.5" rx="9" ry="1.6" fill="#ffe83a" opacity="1" transform="rotate(-10 893 540.5)" filter="url(#b1)"/>
<ellipse cx="928" cy="532" rx="10" ry="3.5" fill="#f7a52a" opacity="1" transform="rotate(-12 928 532)" filter="url(#b2)"/><ellipse cx="928" cy="532" rx="6" ry="1.6" fill="#ffe83a" opacity="1" transform="rotate(-12 928 532)" filter="url(#b1)"/>
<ellipse cx="868" cy="548" rx="14" ry="2.6" fill="#f79a2a" opacity="1" transform="rotate(-8 868 548)" filter="url(#b2)"/>
<ellipse cx="908" cy="551" rx="30" ry="4.5" fill="#f8b02a" opacity="0.85" transform="rotate(-4 908 551)" filter="url(#b3)"/>
<ellipse cx="893" cy="544.5" rx="8" ry="2.2" fill="#ffe83a" opacity="1" transform="rotate(-6 893 544.5)" filter="url(#b2)"/>
<ellipse cx="920" cy="538" rx="5" ry="2" fill="#4f9a50" opacity="0.8" transform="rotate(-10 920 538)" filter="url(#b1)"/>
<rect x="718.3" y="549.4" width="219.60000000000002" height="20" fill="url(#bandD1)"/>
<ellipse cx="845" cy="578" rx="2.6" ry="13" fill="#f7a02a" opacity="1" transform="rotate(3 845 578)" filter="url(#b2)"/><ellipse cx="845" cy="574" rx="1.5" ry="9" fill="#ffe23a" opacity="1" transform="rotate(3 845 574)" filter="url(#b1)"/>
<ellipse cx="839" cy="583" rx="1.8" ry="9" fill="#4f9a50" opacity="0.8" transform="rotate(6 839 583)" filter="url(#b1)"/>
<ellipse cx="852" cy="615" rx="2.6" ry="10" fill="#f7a02a" opacity="1" transform="rotate(3 852 615)" filter="url(#b2)"/><ellipse cx="852" cy="614" rx="1.3" ry="7" fill="#ffe23a" opacity="1" transform="rotate(3 852 614)" filter="url(#b1)"/>
<ellipse cx="844" cy="618" rx="2" ry="8" fill="#4f9a50" opacity="0.9" transform="rotate(6 844 618)" filter="url(#b2)"/>
</g>
<line x1="905.7" y1="521.75" x2="831.4" y2="540" stroke="#2a94f4" stroke-width="3.8" stroke-dasharray="12 9.5"/>
<line x1="831.4" y1="483.1" x2="831.4" y2="540" stroke="#2a94f4" stroke-width="3.8" stroke-dasharray="12.4 9.5"/>
<line x1="938.00" y1="521.50" x2="850.84" y2="543.12" stroke="#fff" stroke-width="1.8" stroke-dasharray="5.5 3.5"/><path d="M832.40,547.70 L851.72,538.37 L852.78,542.64 L853.84,546.91 Z" fill="#fff"/>
<line x1="824.60" y1="566.70" x2="829.46" y2="604.66" stroke="#fff" stroke-width="1.8" stroke-dasharray="5.5 3.5"/><path d="M832.00,624.50 L824.94,603.22 L829.21,602.68 L833.47,602.13 Z" fill="#fff"/>
<path d="M831.5,521 Q847.5,518.5 852.3,529.5" fill="none" stroke="#2a94f4" stroke-width="3.1"/>
<path d="M854.8,534.5 L845,526.7 L852,528.3 L859.2,525.8 Z" fill="#2a94f4"/>
<text x="846.8" y="517.4" font-size="24.5" fill="#2a94f4" font-family="Liberation Serif, serif" text-anchor="start" >−<tspan font-style="italic" dx="7">θ</tspan></text>
<text x="729.5" y="544.6" font-size="22" fill="#fff" font-family="Liberation Serif, serif" ><tspan font-style="italic">β</tspan><tspan font-size="15.4" dy="4.8" dx="4">2</tspan><tspan dy="-4.8"> = 104<tspan font-size="15" dy="-5">o</tspan></tspan></text>
<polyline points="751.7,601 728.2,607.6 734.2,629.2" fill="none" stroke="#fff" stroke-width="3.6" stroke-linejoin="miter"/><line x1="728.2" y1="607.6" x2="753" y2="622.7" stroke="#0aa24b" stroke-width="3.2"/>
<text x="881.5" y="611.5" font-size="21" fill="#fff" font-family="Liberation Serif, serif" text-anchor="start" >20 μm</text>
<rect x="888.4" y="624" width="39" height="3.6" fill="#fff"/>
<g clip-path="url(#cS1)">
<rect x="41.25" y="652" width="216.75" height="154.70000000000005" fill="#a92a4e"/>
<line x1="44.61" y1="665.99" x2="48.99" y2="657.01" stroke="#fff" stroke-width="3.5"/><line x1="56.61" y1="665.99" x2="60.99" y2="657.01" stroke="#fff" stroke-width="3.5"/><line x1="68.61" y1="665.99" x2="72.99" y2="657.01" stroke="#fff" stroke-width="3.5"/><line x1="80.61" y1="665.99" x2="84.99" y2="657.01" stroke="#fff" stroke-width="3.5"/><line x1="92.61" y1="665.99" x2="96.99" y2="657.01" stroke="#fff" stroke-width="3.5"/><line x1="104.61" y1="665.99" x2="108.99" y2="657.01" stroke="#fff" stroke-width="3.5"/><line x1="116.61" y1="665.99" x2="120.99" y2="657.01" stroke="#fff" stroke-width="3.5"/><line x1="128.61" y1="665.99" x2="132.99" y2="657.01" stroke="#fff" stroke-width="3.5"/><line x1="140.61" y1="665.99" x2="144.99" y2="657.01" stroke="#fff" stroke-width="3.5"/><line x1="152.61" y1="665.99" x2="156.99" y2="657.01" stroke="#fff" stroke-width="3.5"/><line x1="164.61" y1="665.99" x2="168.99" y2="657.01" stroke="#fff" stroke-width="3.5"/><line x1="176.61" y1="665.99" x2="180.99" y2="657.01" stroke="#fff" stroke-width="3.5"/><line x1="188.61" y1="665.99" x2="192.99" y2="657.01" stroke="#fff" stroke-width="3.5"/><line x1="200.61" y1="665.99" x2="204.99" y2="657.01" stroke="#fff" stroke-width="3.5"/><line x1="212.61" y1="665.99" x2="216.99" y2="657.01" stroke="#fff" stroke-width="3.5"/><line x1="224.61" y1="665.99" x2="228.99" y2="657.01" stroke="#fff" stroke-width="3.5"/><line x1="236.61" y1="665.99" x2="240.99" y2="657.01" stroke="#fff" stroke-width="3.5"/><line x1="248.61" y1="665.99" x2="252.99" y2="657.01" stroke="#fff" stroke-width="3.5"/><line x1="44.61" y1="679.49" x2="48.99" y2="670.51" stroke="#fff" stroke-width="3.5"/><line x1="56.61" y1="679.49" x2="60.99" y2="670.51" stroke="#fff" stroke-width="3.5"/><line x1="68.61" y1="679.49" x2="72.99" y2="670.51" stroke="#fff" stroke-width="3.5"/><line x1="80.61" y1="679.49" x2="84.99" y2="670.51" stroke="#fff" stroke-width="3.5"/><line x1="92.61" y1="679.49" x2="96.99" y2="670.51" stroke="#fff" stroke-width="3.5"/><line x1="104.61" y1="679.49" x2="108.99" y2="670.51" stroke="#fff" stroke-width="3.5"/><line x1="116.61" y1="679.49" x2="120.99" y2="670.51" stroke="#fff" stroke-width="3.5"/><line x1="128.61" y1="679.49" x2="132.99" y2="670.51" stroke="#fff" stroke-width="3.5"/><line x1="140.61" y1="679.49" x2="144.99" y2="670.51" stroke="#fff" stroke-width="3.5"/><line x1="152.61" y1="679.49" x2="156.99" y2="670.51" stroke="#fff" stroke-width="3.5"/><line x1="164.61" y1="679.49" x2="168.99" y2="670.51" stroke="#fff" stroke-width="3.5"/><line x1="176.61" y1="679.49" x2="180.99" y2="670.51" stroke="#fff" stroke-width="3.5"/><line x1="188.61" y1="679.49" x2="192.99" y2="670.51" stroke="#fff" stroke-width="3.5"/><line x1="200.61" y1="679.49" x2="204.99" y2="670.51" stroke="#fff" stroke-width="3.5"/><line x1="212.61" y1="679.49" x2="216.99" y2="670.51" stroke="#fff" stroke-width="3.5"/><line x1="224.61" y1="679.49" x2="228.99" y2="670.51" stroke="#fff" stroke-width="3.5"/><line x1="236.61" y1="679.49" x2="240.99" y2="670.51" stroke="#fff" stroke-width="3.5"/><line x1="248.61" y1="679.49" x2="252.99" y2="670.51" stroke="#fff" stroke-width="3.5"/><line x1="44.61" y1="692.99" x2="48.99" y2="684.01" stroke="#fff" stroke-width="3.5"/><line x1="56.61" y1="692.99" x2="60.99" y2="684.01" stroke="#fff" stroke-width="3.5"/><line x1="68.61" y1="692.99" x2="72.99" y2="684.01" stroke="#fff" stroke-width="3.5"/><line x1="80.61" y1="692.99" x2="84.99" y2="684.01" stroke="#fff" stroke-width="3.5"/><line x1="92.61" y1="692.99" x2="96.99" y2="684.01" stroke="#fff" stroke-width="3.5"/><line x1="104.61" y1="692.99" x2="108.99" y2="684.01" stroke="#fff" stroke-width="3.5"/><line x1="116.61" y1="692.99" x2="120.99" y2="684.01" stroke="#fff" stroke-width="3.5"/><line x1="128.61" y1="692.99" x2="132.99" y2="684.01" stroke="#fff" stroke-width="3.5"/><line x1="140.61" y1="692.99" x2="144.99" y2="684.01" stroke="#fff" stroke-width="3.5"/><line x1="152.61" y1="692.99" x2="156.99" y2="684.01" stroke="#fff" stroke-width="3.5"/><line x1="164.61" y1="692.99" x2="168.99" y2="684.01" stroke="#fff" stroke-width="3.5"/><line x1="176.61" y1="692.99" x2="180.99" y2="684.01" stroke="#fff" stroke-width="3.5"/><line x1="188.61" y1="692.99" x2="192.99" y2="684.01" stroke="#fff" stroke-width="3.5"/><line x1="200.61" y1="692.99" x2="204.99" y2="684.01" stroke="#fff" stroke-width="3.5"/><line x1="212.61" y1="692.99" x2="216.99" y2="684.01" stroke="#fff" stroke-width="3.5"/><line x1="224.61" y1="692.99" x2="228.99" y2="684.01" stroke="#fff" stroke-width="3.5"/><line x1="236.61" y1="692.99" x2="240.99" y2="684.01" stroke="#fff" stroke-width="3.5"/><line x1="248.61" y1="692.99" x2="252.99" y2="684.01" stroke="#fff" stroke-width="3.5"/><line x1="44.61" y1="706.49" x2="48.99" y2="697.51" stroke="#fff" stroke-width="3.5"/><line x1="56.61" y1="706.49" x2="60.99" y2="697.51" stroke="#fff" stroke-width="3.5"/><line x1="68.61" y1="706.49" x2="72.99" y2="697.51" stroke="#fff" stroke-width="3.5"/><line x1="80.61" y1="706.49" x2="84.99" y2="697.51" stroke="#fff" stroke-width="3.5"/><line x1="92.61" y1="706.49" x2="96.99" y2="697.51" stroke="#fff" stroke-width="3.5"/><line x1="104.61" y1="706.49" x2="108.99" y2="697.51" stroke="#fff" stroke-width="3.5"/><line x1="116.61" y1="706.49" x2="120.99" y2="697.51" stroke="#fff" stroke-width="3.5"/><line x1="128.61" y1="706.49" x2="132.99" y2="697.51" stroke="#fff" stroke-width="3.5"/><line x1="140.61" y1="706.49" x2="144.99" y2="697.51" stroke="#fff" stroke-width="3.5"/><line x1="152.61" y1="706.49" x2="156.99" y2="697.51" stroke="#fff" stroke-width="3.5"/><line x1="164.61" y1="706.49" x2="168.99" y2="697.51" stroke="#fff" stroke-width="3.5"/><line x1="176.61" y1="706.49" x2="180.99" y2="697.51" stroke="#fff" stroke-width="3.5"/><line x1="188.61" y1="706.49" x2="192.99" y2="697.51" stroke="#fff" stroke-width="3.5"/><line x1="200.61" y1="706.49" x2="204.99" y2="697.51" stroke="#fff" stroke-width="3.5"/><line x1="212.61" y1="706.49" x2="216.99" y2="697.51" stroke="#fff" stroke-width="3.5"/><line x1="224.61" y1="706.49" x2="228.99" y2="697.51" stroke="#fff" stroke-width="3.5"/><line x1="236.61" y1="706.49" x2="240.99" y2="697.51" stroke="#fff" stroke-width="3.5"/><line x1="248.61" y1="706.49" x2="252.99" y2="697.51" stroke="#fff" stroke-width="3.5"/><line x1="44.61" y1="719.99" x2="48.99" y2="711.01" stroke="#fff" stroke-width="3.5"/><line x1="56.61" y1="719.99" x2="60.99" y2="711.01" stroke="#fff" stroke-width="3.5"/><line x1="68.61" y1="719.99" x2="72.99" y2="711.01" stroke="#fff" stroke-width="3.5"/><line x1="80.61" y1="719.99" x2="84.99" y2="711.01" stroke="#fff" stroke-width="3.5"/><line x1="92.61" y1="719.99" x2="96.99" y2="711.01" stroke="#fff" stroke-width="3.5"/><line x1="104.61" y1="719.99" x2="108.99" y2="711.01" stroke="#fff" stroke-width="3.5"/><line x1="116.61" y1="719.99" x2="120.99" y2="711.01" stroke="#fff" stroke-width="3.5"/><line x1="128.61" y1="719.99" x2="132.99" y2="711.01" stroke="#fff" stroke-width="3.5"/><line x1="140.61" y1="719.99" x2="144.99" y2="711.01" stroke="#fff" stroke-width="3.5"/><line x1="152.61" y1="719.99" x2="156.99" y2="711.01" stroke="#fff" stroke-width="3.5"/><line x1="164.61" y1="719.99" x2="168.99" y2="711.01" stroke="#fff" stroke-width="3.5"/><line x1="176.61" y1="719.99" x2="180.99" y2="711.01" stroke="#fff" stroke-width="3.5"/><line x1="188.61" y1="719.99" x2="192.99" y2="711.01" stroke="#fff" stroke-width="3.5"/><line x1="200.61" y1="719.99" x2="204.99" y2="711.01" stroke="#fff" stroke-width="3.5"/><line x1="212.61" y1="719.99" x2="216.99" y2="711.01" stroke="#fff" stroke-width="3.5"/><line x1="224.61" y1="719.99" x2="228.99" y2="711.01" stroke="#fff" stroke-width="3.5"/><line x1="236.61" y1="719.99" x2="240.99" y2="711.01" stroke="#fff" stroke-width="3.5"/><line x1="248.61" y1="719.99" x2="252.99" y2="711.01" stroke="#fff" stroke-width="3.5"/>
<line x1="42.54" y1="741.17" x2="52.06" y2="744.83" stroke="#fff" stroke-width="3.5"/><line x1="54.54" y1="741.17" x2="64.06" y2="744.83" stroke="#fff" stroke-width="3.5"/><line x1="66.54" y1="741.17" x2="76.06" y2="744.83" stroke="#fff" stroke-width="3.5"/><line x1="78.54" y1="741.17" x2="88.06" y2="744.83" stroke="#fff" stroke-width="3.5"/><line x1="90.54" y1="741.17" x2="100.06" y2="744.83" stroke="#fff" stroke-width="3.5"/><line x1="102.54" y1="741.17" x2="112.06" y2="744.83" stroke="#fff" stroke-width="3.5"/><line x1="114.54" y1="741.17" x2="124.06" y2="744.83" stroke="#fff" stroke-width="3.5"/><line x1="126.54" y1="741.17" x2="136.06" y2="744.83" stroke="#fff" stroke-width="3.5"/><line x1="138.54" y1="741.17" x2="148.06" y2="744.83" stroke="#fff" stroke-width="3.5"/><line x1="150.54" y1="741.17" x2="160.06" y2="744.83" stroke="#fff" stroke-width="3.5"/><line x1="162.54" y1="741.17" x2="172.06" y2="744.83" stroke="#fff" stroke-width="3.5"/><line x1="174.54" y1="741.17" x2="184.06" y2="744.83" stroke="#fff" stroke-width="3.5"/><line x1="186.54" y1="741.17" x2="196.06" y2="744.83" stroke="#fff" stroke-width="3.5"/><line x1="198.54" y1="741.17" x2="208.06" y2="744.83" stroke="#fff" stroke-width="3.5"/><line x1="210.54" y1="741.17" x2="220.06" y2="744.83" stroke="#fff" stroke-width="3.5"/><line x1="222.54" y1="741.17" x2="232.06" y2="744.83" stroke="#fff" stroke-width="3.5"/><line x1="234.54" y1="741.17" x2="244.06" y2="744.83" stroke="#fff" stroke-width="3.5"/><line x1="246.54" y1="741.17" x2="256.06" y2="744.83" stroke="#fff" stroke-width="3.5"/><line x1="42.54" y1="754.92" x2="52.06" y2="758.58" stroke="#fff" stroke-width="3.5"/><line x1="54.54" y1="754.92" x2="64.06" y2="758.58" stroke="#fff" stroke-width="3.5"/><line x1="66.54" y1="754.92" x2="76.06" y2="758.58" stroke="#fff" stroke-width="3.5"/><line x1="78.54" y1="754.92" x2="88.06" y2="758.58" stroke="#fff" stroke-width="3.5"/><line x1="90.54" y1="754.92" x2="100.06" y2="758.58" stroke="#fff" stroke-width="3.5"/><line x1="102.54" y1="754.92" x2="112.06" y2="758.58" stroke="#fff" stroke-width="3.5"/><line x1="114.54" y1="754.92" x2="124.06" y2="758.58" stroke="#fff" stroke-width="3.5"/><line x1="126.54" y1="754.92" x2="136.06" y2="758.58" stroke="#fff" stroke-width="3.5"/><line x1="138.54" y1="754.92" x2="148.06" y2="758.58" stroke="#fff" stroke-width="3.5"/><line x1="150.54" y1="754.92" x2="160.06" y2="758.58" stroke="#fff" stroke-width="3.5"/><line x1="162.54" y1="754.92" x2="172.06" y2="758.58" stroke="#fff" stroke-width="3.5"/><line x1="174.54" y1="754.92" x2="184.06" y2="758.58" stroke="#fff" stroke-width="3.5"/><line x1="186.54" y1="754.92" x2="196.06" y2="758.58" stroke="#fff" stroke-width="3.5"/><line x1="198.54" y1="754.92" x2="208.06" y2="758.58" stroke="#fff" stroke-width="3.5"/><line x1="210.54" y1="754.92" x2="220.06" y2="758.58" stroke="#fff" stroke-width="3.5"/><line x1="222.54" y1="754.92" x2="232.06" y2="758.58" stroke="#fff" stroke-width="3.5"/><line x1="234.54" y1="754.92" x2="244.06" y2="758.58" stroke="#fff" stroke-width="3.5"/><line x1="246.54" y1="754.92" x2="256.06" y2="758.58" stroke="#fff" stroke-width="3.5"/><line x1="42.54" y1="768.67" x2="52.06" y2="772.33" stroke="#fff" stroke-width="3.5"/><line x1="54.54" y1="768.67" x2="64.06" y2="772.33" stroke="#fff" stroke-width="3.5"/><line x1="66.54" y1="768.67" x2="76.06" y2="772.33" stroke="#fff" stroke-width="3.5"/><line x1="78.54" y1="768.67" x2="88.06" y2="772.33" stroke="#fff" stroke-width="3.5"/><line x1="90.54" y1="768.67" x2="100.06" y2="772.33" stroke="#fff" stroke-width="3.5"/><line x1="102.54" y1="768.67" x2="112.06" y2="772.33" stroke="#fff" stroke-width="3.5"/><line x1="114.54" y1="768.67" x2="124.06" y2="772.33" stroke="#fff" stroke-width="3.5"/><line x1="126.54" y1="768.67" x2="136.06" y2="772.33" stroke="#fff" stroke-width="3.5"/><line x1="138.54" y1="768.67" x2="148.06" y2="772.33" stroke="#fff" stroke-width="3.5"/><line x1="150.54" y1="768.67" x2="160.06" y2="772.33" stroke="#fff" stroke-width="3.5"/><line x1="162.54" y1="768.67" x2="172.06" y2="772.33" stroke="#fff" stroke-width="3.5"/><line x1="174.54" y1="768.67" x2="184.06" y2="772.33" stroke="#fff" stroke-width="3.5"/><line x1="186.54" y1="768.67" x2="196.06" y2="772.33" stroke="#fff" stroke-width="3.5"/><line x1="198.54" y1="768.67" x2="208.06" y2="772.33" stroke="#fff" stroke-width="3.5"/><line x1="210.54" y1="768.67" x2="220.06" y2="772.33" stroke="#fff" stroke-width="3.5"/><line x1="222.54" y1="768.67" x2="232.06" y2="772.33" stroke="#fff" stroke-width="3.5"/><line x1="234.54" y1="768.67" x2="244.06" y2="772.33" stroke="#fff" stroke-width="3.5"/><line x1="246.54" y1="768.67" x2="256.06" y2="772.33" stroke="#fff" stroke-width="3.5"/><line x1="42.54" y1="782.42" x2="52.06" y2="786.08" stroke="#fff" stroke-width="3.5"/><line x1="54.54" y1="782.42" x2="64.06" y2="786.08" stroke="#fff" stroke-width="3.5"/><line x1="66.54" y1="782.42" x2="76.06" y2="786.08" stroke="#fff" stroke-width="3.5"/><line x1="78.54" y1="782.42" x2="88.06" y2="786.08" stroke="#fff" stroke-width="3.5"/><line x1="90.54" y1="782.42" x2="100.06" y2="786.08" stroke="#fff" stroke-width="3.5"/><line x1="102.54" y1="782.42" x2="112.06" y2="786.08" stroke="#fff" stroke-width="3.5"/><line x1="114.54" y1="782.42" x2="124.06" y2="786.08" stroke="#fff" stroke-width="3.5"/><line x1="126.54" y1="782.42" x2="136.06" y2="786.08" stroke="#fff" stroke-width="3.5"/><line x1="138.54" y1="782.42" x2="148.06" y2="786.08" stroke="#fff" stroke-width="3.5"/><line x1="150.54" y1="782.42" x2="160.06" y2="786.08" stroke="#fff" stroke-width="3.5"/><line x1="162.54" y1="782.42" x2="172.06" y2="786.08" stroke="#fff" stroke-width="3.5"/><line x1="174.54" y1="782.42" x2="184.06" y2="786.08" stroke="#fff" stroke-width="3.5"/><line x1="186.54" y1="782.42" x2="196.06" y2="786.08" stroke="#fff" stroke-width="3.5"/><line x1="198.54" y1="782.42" x2="208.06" y2="786.08" stroke="#fff" stroke-width="3.5"/><line x1="210.54" y1="782.42" x2="220.06" y2="786.08" stroke="#fff" stroke-width="3.5"/><line x1="222.54" y1="782.42" x2="232.06" y2="786.08" stroke="#fff" stroke-width="3.5"/><line x1="234.54" y1="782.42" x2="244.06" y2="786.08" stroke="#fff" stroke-width="3.5"/><line x1="246.54" y1="782.42" x2="256.06" y2="786.08" stroke="#fff" stroke-width="3.5"/><line x1="42.54" y1="795.77" x2="52.06" y2="799.43" stroke="#fff" stroke-width="3.5"/><line x1="54.54" y1="795.77" x2="64.06" y2="799.43" stroke="#fff" stroke-width="3.5"/><line x1="66.54" y1="795.77" x2="76.06" y2="799.43" stroke="#fff" stroke-width="3.5"/><line x1="78.54" y1="795.77" x2="88.06" y2="799.43" stroke="#fff" stroke-width="3.5"/><line x1="90.54" y1="795.77" x2="100.06" y2="799.43" stroke="#fff" stroke-width="3.5"/><line x1="102.54" y1="795.77" x2="112.06" y2="799.43" stroke="#fff" stroke-width="3.5"/><line x1="114.54" y1="795.77" x2="124.06" y2="799.43" stroke="#fff" stroke-width="3.5"/><line x1="126.54" y1="795.77" x2="136.06" y2="799.43" stroke="#fff" stroke-width="3.5"/><line x1="138.54" y1="795.77" x2="148.06" y2="799.43" stroke="#fff" stroke-width="3.5"/><line x1="150.54" y1="795.77" x2="160.06" y2="799.43" stroke="#fff" stroke-width="3.5"/><line x1="162.54" y1="795.77" x2="172.06" y2="799.43" stroke="#fff" stroke-width="3.5"/><line x1="174.54" y1="795.77" x2="184.06" y2="799.43" stroke="#fff" stroke-width="3.5"/><line x1="186.54" y1="795.77" x2="196.06" y2="799.43" stroke="#fff" stroke-width="3.5"/><line x1="198.54" y1="795.77" x2="208.06" y2="799.43" stroke="#fff" stroke-width="3.5"/><line x1="210.54" y1="795.77" x2="220.06" y2="799.43" stroke="#fff" stroke-width="3.5"/><line x1="222.54" y1="795.77" x2="232.06" y2="799.43" stroke="#fff" stroke-width="3.5"/><line x1="234.54" y1="795.77" x2="244.06" y2="799.43" stroke="#fff" stroke-width="3.5"/><line x1="246.54" y1="795.77" x2="256.06" y2="799.43" stroke="#fff" stroke-width="3.5"/>
<line x1="40.90" y1="732.55" x2="50.10" y2="728.65" stroke="#000" stroke-width="3.7"/><line x1="52.05" y1="732.55" x2="61.25" y2="728.65" stroke="#000" stroke-width="3.7"/><line x1="63.20" y1="732.55" x2="72.40" y2="728.65" stroke="#000" stroke-width="3.7"/><line x1="74.35" y1="732.55" x2="83.55" y2="728.65" stroke="#000" stroke-width="3.7"/><line x1="85.50" y1="732.55" x2="94.70" y2="728.65" stroke="#000" stroke-width="3.7"/><line x1="96.65" y1="732.55" x2="105.85" y2="728.65" stroke="#000" stroke-width="3.7"/><line x1="107.80" y1="732.55" x2="117.00" y2="728.65" stroke="#000" stroke-width="3.7"/><line x1="118.95" y1="732.55" x2="128.15" y2="728.65" stroke="#000" stroke-width="3.7"/><line x1="130.10" y1="732.55" x2="139.30" y2="728.65" stroke="#000" stroke-width="3.7"/><line x1="141.25" y1="732.55" x2="150.45" y2="728.65" stroke="#000" stroke-width="3.7"/><line x1="152.40" y1="732.55" x2="161.60" y2="728.65" stroke="#000" stroke-width="3.7"/><line x1="163.55" y1="732.55" x2="172.75" y2="728.65" stroke="#000" stroke-width="3.7"/><line x1="174.70" y1="732.55" x2="183.90" y2="728.65" stroke="#000" stroke-width="3.7"/><line x1="185.85" y1="732.55" x2="195.05" y2="728.65" stroke="#000" stroke-width="3.7"/><line x1="197.00" y1="732.55" x2="206.20" y2="728.65" stroke="#000" stroke-width="3.7"/><line x1="208.15" y1="732.55" x2="217.35" y2="728.65" stroke="#000" stroke-width="3.7"/><line x1="219.30" y1="732.55" x2="228.50" y2="728.65" stroke="#000" stroke-width="3.7"/><line x1="230.45" y1="732.55" x2="239.65" y2="728.65" stroke="#000" stroke-width="3.7"/><line x1="241.60" y1="732.55" x2="250.80" y2="728.65" stroke="#000" stroke-width="3.7"/><line x1="252.75" y1="732.55" x2="261.95" y2="728.65" stroke="#000" stroke-width="3.7"/>
</g>
<path d="M166,711 L186,719.5 Q205.5,727.5 203,742 L199.5,753" fill="none" stroke="#fff" stroke-width="15" stroke-linecap="butt"/><path d="M166,711 L186,719.5 Q205.5,727.5 203,742 L199.5,753" fill="none" stroke="url(#rb1)" stroke-width="9.5" stroke-linecap="butt"/>
<polygon points="166.6,710.1 156.3,692.3 125.3,680.9 133.9,696.4" fill="#4f8a2c"/><line x1="159.7" y1="703.8" x2="154.9" y2="695.4" stroke="#00b050" stroke-width="3.0"/><line x1="153.8" y1="701.3" x2="149.1" y2="693.2" stroke="#00b050" stroke-width="3.0"/><line x1="147.8" y1="698.9" x2="143.3" y2="690.9" stroke="#00b050" stroke-width="3.0"/><line x1="141.8" y1="696.5" x2="137.4" y2="688.7" stroke="#00b050" stroke-width="3.0"/><line x1="135.8" y1="694.1" x2="131.6" y2="686.5" stroke="#00b050" stroke-width="3.0"/><polygon points="166.6,710.1 148.3,715.8 118.4,703.3 133.9,696.4" fill="#ffa726"/><line x1="157.7" y1="709.8" x2="149.1" y2="712.7" stroke="#ffff00" stroke-width="3.0"/><line x1="151.8" y1="707.4" x2="143.4" y2="710.3" stroke="#ffff00" stroke-width="3.0"/><line x1="145.9" y1="704.9" x2="137.7" y2="707.9" stroke="#ffff00" stroke-width="3.0"/><line x1="139.9" y1="702.4" x2="132.1" y2="705.5" stroke="#ffff00" stroke-width="3.0"/><line x1="134.0" y1="699.9" x2="126.4" y2="703.2" stroke="#ffff00" stroke-width="3.0"/>
<polygon points="180.3,790.3 175.1,769.7 187.2,739.9 195.2,752.5" fill="#4f8a2c"/><line x1="180.8" y1="780.3" x2="178.1" y2="770.9" stroke="#00b050" stroke-width="3.0"/><line x1="183.4" y1="773.7" x2="180.5" y2="765.0" stroke="#00b050" stroke-width="3.0"/><line x1="186.0" y1="767.1" x2="182.9" y2="759.1" stroke="#00b050" stroke-width="3.0"/><line x1="188.7" y1="760.5" x2="185.2" y2="753.2" stroke="#00b050" stroke-width="3.0"/><line x1="191.3" y1="753.9" x2="187.6" y2="747.3" stroke="#00b050" stroke-width="3.0"/><polygon points="180.3,790.3 200.3,776.5 208.9,750.2 195.2,752.5" fill="#ffa726"/><line x1="187.2" y1="782.2" x2="196.4" y2="776.3" stroke="#ffff00" stroke-width="3.0"/><line x1="189.7" y1="775.8" x2="198.3" y2="770.9" stroke="#ffff00" stroke-width="3.0"/><line x1="192.1" y1="769.3" x2="200.2" y2="765.5" stroke="#ffff00" stroke-width="3.0"/><line x1="194.6" y1="762.9" x2="202.1" y2="760.0" stroke="#ffff00" stroke-width="3.0"/><line x1="197.1" y1="756.4" x2="204.0" y2="754.6" stroke="#ffff00" stroke-width="3.0"/>
<line x1="133.9" y1="696.4" x2="205" y2="727.5" stroke="#2a94f4" stroke-width="2.8" stroke-dasharray="12 8.5"/>
<line x1="207.5" y1="659.5" x2="207.5" y2="728" stroke="#2a94f4" stroke-width="2.8" stroke-dasharray="11.5 9" stroke-dashoffset="-1"/>
<path d="M207,709 Q195,706 188.5,714.5" fill="none" stroke="#2a94f4" stroke-width="2.5"/>
<path d="M185.3,719.6 L182.6,709.6 L188.5,713.6 L194.4,713.4 Z" fill="#2a94f4"/>
<rect x="164.8" y="670.5" width="33.79999999999998" height="23.0" fill="#fff"/><text x="169.8" y="687.8" font-size="20" fill="#000" font-family="Liberation Serif, serif" text-anchor="start" >66<tspan font-size="13.5" dy="-6.5">o</tspan></text>
<g clip-path="url(#cS2)">
<rect x="268.75" y="652" width="218.25" height="154.89999999999998" fill="#a92a4e"/>
<line x1="270.10" y1="662.00" x2="280.10" y2="662.00" stroke="#fff" stroke-width="3.9"/><line x1="282.05" y1="662.00" x2="292.05" y2="662.00" stroke="#fff" stroke-width="3.9"/><line x1="294.00" y1="662.00" x2="304.00" y2="662.00" stroke="#fff" stroke-width="3.9"/><line x1="305.95" y1="662.00" x2="315.95" y2="662.00" stroke="#fff" stroke-width="3.9"/><line x1="317.90" y1="662.00" x2="327.90" y2="662.00" stroke="#fff" stroke-width="3.9"/><line x1="329.85" y1="662.00" x2="339.85" y2="662.00" stroke="#fff" stroke-width="3.9"/><line x1="341.80" y1="662.00" x2="351.80" y2="662.00" stroke="#fff" stroke-width="3.9"/><line x1="353.75" y1="662.00" x2="363.75" y2="662.00" stroke="#fff" stroke-width="3.9"/><line x1="365.70" y1="662.00" x2="375.70" y2="662.00" stroke="#fff" stroke-width="3.9"/><line x1="377.65" y1="662.00" x2="387.65" y2="662.00" stroke="#fff" stroke-width="3.9"/><line x1="389.60" y1="662.00" x2="399.60" y2="662.00" stroke="#fff" stroke-width="3.9"/><line x1="401.55" y1="662.00" x2="411.55" y2="662.00" stroke="#fff" stroke-width="3.9"/><line x1="413.50" y1="662.00" x2="423.50" y2="662.00" stroke="#fff" stroke-width="3.9"/><line x1="425.45" y1="662.00" x2="435.45" y2="662.00" stroke="#fff" stroke-width="3.9"/><line x1="437.40" y1="662.00" x2="447.40" y2="662.00" stroke="#fff" stroke-width="3.9"/><line x1="449.35" y1="662.00" x2="459.35" y2="662.00" stroke="#fff" stroke-width="3.9"/><line x1="461.30" y1="662.00" x2="471.30" y2="662.00" stroke="#fff" stroke-width="3.9"/><line x1="473.25" y1="662.00" x2="483.25" y2="662.00" stroke="#fff" stroke-width="3.9"/><line x1="270.10" y1="676.10" x2="280.10" y2="676.10" stroke="#fff" stroke-width="3.9"/><line x1="282.05" y1="676.10" x2="292.05" y2="676.10" stroke="#fff" stroke-width="3.9"/><line x1="294.00" y1="676.10" x2="304.00" y2="676.10" stroke="#fff" stroke-width="3.9"/><line x1="305.95" y1="676.10" x2="315.95" y2="676.10" stroke="#fff" stroke-width="3.9"/><line x1="317.90" y1="676.10" x2="327.90" y2="676.10" stroke="#fff" stroke-width="3.9"/><line x1="329.85" y1="676.10" x2="339.85" y2="676.10" stroke="#fff" stroke-width="3.9"/><line x1="341.80" y1="676.10" x2="351.80" y2="676.10" stroke="#fff" stroke-width="3.9"/><line x1="353.75" y1="676.10" x2="363.75" y2="676.10" stroke="#fff" stroke-width="3.9"/><line x1="365.70" y1="676.10" x2="375.70" y2="676.10" stroke="#fff" stroke-width="3.9"/><line x1="377.65" y1="676.10" x2="387.65" y2="676.10" stroke="#fff" stroke-width="3.9"/><line x1="389.60" y1="676.10" x2="399.60" y2="676.10" stroke="#fff" stroke-width="3.9"/><line x1="401.55" y1="676.10" x2="411.55" y2="676.10" stroke="#fff" stroke-width="3.9"/><line x1="413.50" y1="676.10" x2="423.50" y2="676.10" stroke="#fff" stroke-width="3.9"/><line x1="425.45" y1="676.10" x2="435.45" y2="676.10" stroke="#fff" stroke-width="3.9"/><line x1="437.40" y1="676.10" x2="447.40" y2="676.10" stroke="#fff" stroke-width="3.9"/><line x1="449.35" y1="676.10" x2="459.35" y2="676.10" stroke="#fff" stroke-width="3.9"/><line x1="461.30" y1="676.10" x2="471.30" y2="676.10" stroke="#fff" stroke-width="3.9"/><line x1="473.25" y1="676.10" x2="483.25" y2="676.10" stroke="#fff" stroke-width="3.9"/><line x1="270.10" y1="689.40" x2="280.10" y2="689.40" stroke="#fff" stroke-width="3.9"/><line x1="282.05" y1="689.40" x2="292.05" y2="689.40" stroke="#fff" stroke-width="3.9"/><line x1="294.00" y1="689.40" x2="304.00" y2="689.40" stroke="#fff" stroke-width="3.9"/><line x1="305.95" y1="689.40" x2="315.95" y2="689.40" stroke="#fff" stroke-width="3.9"/><line x1="317.90" y1="689.40" x2="327.90" y2="689.40" stroke="#fff" stroke-width="3.9"/><line x1="329.85" y1="689.40" x2="339.85" y2="689.40" stroke="#fff" stroke-width="3.9"/><line x1="341.80" y1="689.40" x2="351.80" y2="689.40" stroke="#fff" stroke-width="3.9"/><line x1="353.75" y1="689.40" x2="363.75" y2="689.40" stroke="#fff" stroke-width="3.9"/><line x1="365.70" y1="689.40" x2="375.70" y2="689.40" stroke="#fff" stroke-width="3.9"/><line x1="377.65" y1="689.40" x2="387.65" y2="689.40" stroke="#fff" stroke-width="3.9"/><line x1="389.60" y1="689.40" x2="399.60" y2="689.40" stroke="#fff" stroke-width="3.9"/><line x1="401.55" y1="689.40" x2="411.55" y2="689.40" stroke="#fff" stroke-width="3.9"/><line x1="413.50" y1="689.40" x2="423.50" y2="689.40" stroke="#fff" stroke-width="3.9"/><line x1="425.45" y1="689.40" x2="435.45" y2="689.40" stroke="#fff" stroke-width="3.9"/><line x1="437.40" y1="689.40" x2="447.40" y2="689.40" stroke="#fff" stroke-width="3.9"/><line x1="449.35" y1="689.40" x2="459.35" y2="689.40" stroke="#fff" stroke-width="3.9"/><line x1="461.30" y1="689.40" x2="471.30" y2="689.40" stroke="#fff" stroke-width="3.9"/><line x1="473.25" y1="689.40" x2="483.25" y2="689.40" stroke="#fff" stroke-width="3.9"/><line x1="270.10" y1="703.00" x2="280.10" y2="703.00" stroke="#fff" stroke-width="3.9"/><line x1="282.05" y1="703.00" x2="292.05" y2="703.00" stroke="#fff" stroke-width="3.9"/><line x1="294.00" y1="703.00" x2="304.00" y2="703.00" stroke="#fff" stroke-width="3.9"/><line x1="305.95" y1="703.00" x2="315.95" y2="703.00" stroke="#fff" stroke-width="3.9"/><line x1="317.90" y1="703.00" x2="327.90" y2="703.00" stroke="#fff" stroke-width="3.9"/><line x1="329.85" y1="703.00" x2="339.85" y2="703.00" stroke="#fff" stroke-width="3.9"/><line x1="341.80" y1="703.00" x2="351.80" y2="703.00" stroke="#fff" stroke-width="3.9"/><line x1="353.75" y1="703.00" x2="363.75" y2="703.00" stroke="#fff" stroke-width="3.9"/><line x1="365.70" y1="703.00" x2="375.70" y2="703.00" stroke="#fff" stroke-width="3.9"/><line x1="377.65" y1="703.00" x2="387.65" y2="703.00" stroke="#fff" stroke-width="3.9"/><line x1="389.60" y1="703.00" x2="399.60" y2="703.00" stroke="#fff" stroke-width="3.9"/><line x1="401.55" y1="703.00" x2="411.55" y2="703.00" stroke="#fff" stroke-width="3.9"/><line x1="413.50" y1="703.00" x2="423.50" y2="703.00" stroke="#fff" stroke-width="3.9"/><line x1="425.45" y1="703.00" x2="435.45" y2="703.00" stroke="#fff" stroke-width="3.9"/><line x1="437.40" y1="703.00" x2="447.40" y2="703.00" stroke="#fff" stroke-width="3.9"/><line x1="449.35" y1="703.00" x2="459.35" y2="703.00" stroke="#fff" stroke-width="3.9"/><line x1="461.30" y1="703.00" x2="471.30" y2="703.00" stroke="#fff" stroke-width="3.9"/><line x1="473.25" y1="703.00" x2="483.25" y2="703.00" stroke="#fff" stroke-width="3.9"/><line x1="270.10" y1="716.75" x2="280.10" y2="716.75" stroke="#fff" stroke-width="3.9"/><line x1="282.05" y1="716.75" x2="292.05" y2="716.75" stroke="#fff" stroke-width="3.9"/><line x1="294.00" y1="716.75" x2="304.00" y2="716.75" stroke="#fff" stroke-width="3.9"/><line x1="305.95" y1="716.75" x2="315.95" y2="716.75" stroke="#fff" stroke-width="3.9"/><line x1="317.90" y1="716.75" x2="327.90" y2="716.75" stroke="#fff" stroke-width="3.9"/><line x1="329.85" y1="716.75" x2="339.85" y2="716.75" stroke="#fff" stroke-width="3.9"/><line x1="341.80" y1="716.75" x2="351.80" y2="716.75" stroke="#fff" stroke-width="3.9"/><line x1="353.75" y1="716.75" x2="363.75" y2="716.75" stroke="#fff" stroke-width="3.9"/><line x1="365.70" y1="716.75" x2="375.70" y2="716.75" stroke="#fff" stroke-width="3.9"/><line x1="377.65" y1="716.75" x2="387.65" y2="716.75" stroke="#fff" stroke-width="3.9"/><line x1="389.60" y1="716.75" x2="399.60" y2="716.75" stroke="#fff" stroke-width="3.9"/><line x1="401.55" y1="716.75" x2="411.55" y2="716.75" stroke="#fff" stroke-width="3.9"/><line x1="413.50" y1="716.75" x2="423.50" y2="716.75" stroke="#fff" stroke-width="3.9"/><line x1="425.45" y1="716.75" x2="435.45" y2="716.75" stroke="#fff" stroke-width="3.9"/><line x1="437.40" y1="716.75" x2="447.40" y2="716.75" stroke="#fff" stroke-width="3.9"/><line x1="449.35" y1="716.75" x2="459.35" y2="716.75" stroke="#fff" stroke-width="3.9"/><line x1="461.30" y1="716.75" x2="471.30" y2="716.75" stroke="#fff" stroke-width="3.9"/><line x1="473.25" y1="716.75" x2="483.25" y2="716.75" stroke="#fff" stroke-width="3.9"/>
<line x1="275.15" y1="739.07" x2="276.05" y2="749.33" stroke="#fff" stroke-width="3.75"/><line x1="287.10" y1="739.07" x2="288.00" y2="749.33" stroke="#fff" stroke-width="3.75"/><line x1="299.05" y1="739.07" x2="299.95" y2="749.33" stroke="#fff" stroke-width="3.75"/><line x1="311.00" y1="739.07" x2="311.90" y2="749.33" stroke="#fff" stroke-width="3.75"/><line x1="322.95" y1="739.07" x2="323.85" y2="749.33" stroke="#fff" stroke-width="3.75"/><line x1="334.90" y1="739.07" x2="335.80" y2="749.33" stroke="#fff" stroke-width="3.75"/><line x1="346.85" y1="739.07" x2="347.75" y2="749.33" stroke="#fff" stroke-width="3.75"/><line x1="358.80" y1="739.07" x2="359.70" y2="749.33" stroke="#fff" stroke-width="3.75"/><line x1="370.75" y1="739.07" x2="371.65" y2="749.33" stroke="#fff" stroke-width="3.75"/><line x1="382.70" y1="739.07" x2="383.60" y2="749.33" stroke="#fff" stroke-width="3.75"/><line x1="394.65" y1="739.07" x2="395.55" y2="749.33" stroke="#fff" stroke-width="3.75"/><line x1="406.60" y1="739.07" x2="407.50" y2="749.33" stroke="#fff" stroke-width="3.75"/><line x1="418.55" y1="739.07" x2="419.45" y2="749.33" stroke="#fff" stroke-width="3.75"/><line x1="430.50" y1="739.07" x2="431.40" y2="749.33" stroke="#fff" stroke-width="3.75"/><line x1="442.45" y1="739.07" x2="443.35" y2="749.33" stroke="#fff" stroke-width="3.75"/><line x1="454.40" y1="739.07" x2="455.30" y2="749.33" stroke="#fff" stroke-width="3.75"/><line x1="466.35" y1="739.07" x2="467.25" y2="749.33" stroke="#fff" stroke-width="3.75"/><line x1="478.30" y1="739.07" x2="479.20" y2="749.33" stroke="#fff" stroke-width="3.75"/><line x1="275.15" y1="752.57" x2="276.05" y2="762.83" stroke="#fff" stroke-width="3.75"/><line x1="287.10" y1="752.57" x2="288.00" y2="762.83" stroke="#fff" stroke-width="3.75"/><line x1="299.05" y1="752.57" x2="299.95" y2="762.83" stroke="#fff" stroke-width="3.75"/><line x1="311.00" y1="752.57" x2="311.90" y2="762.83" stroke="#fff" stroke-width="3.75"/><line x1="322.95" y1="752.57" x2="323.85" y2="762.83" stroke="#fff" stroke-width="3.75"/><line x1="334.90" y1="752.57" x2="335.80" y2="762.83" stroke="#fff" stroke-width="3.75"/><line x1="346.85" y1="752.57" x2="347.75" y2="762.83" stroke="#fff" stroke-width="3.75"/><line x1="358.80" y1="752.57" x2="359.70" y2="762.83" stroke="#fff" stroke-width="3.75"/><line x1="370.75" y1="752.57" x2="371.65" y2="762.83" stroke="#fff" stroke-width="3.75"/><line x1="382.70" y1="752.57" x2="383.60" y2="762.83" stroke="#fff" stroke-width="3.75"/><line x1="394.65" y1="752.57" x2="395.55" y2="762.83" stroke="#fff" stroke-width="3.75"/><line x1="406.60" y1="752.57" x2="407.50" y2="762.83" stroke="#fff" stroke-width="3.75"/><line x1="418.55" y1="752.57" x2="419.45" y2="762.83" stroke="#fff" stroke-width="3.75"/><line x1="430.50" y1="752.57" x2="431.40" y2="762.83" stroke="#fff" stroke-width="3.75"/><line x1="442.45" y1="752.57" x2="443.35" y2="762.83" stroke="#fff" stroke-width="3.75"/><line x1="454.40" y1="752.57" x2="455.30" y2="762.83" stroke="#fff" stroke-width="3.75"/><line x1="466.35" y1="752.57" x2="467.25" y2="762.83" stroke="#fff" stroke-width="3.75"/><line x1="478.30" y1="752.57" x2="479.20" y2="762.83" stroke="#fff" stroke-width="3.75"/><line x1="275.15" y1="766.12" x2="276.05" y2="776.38" stroke="#fff" stroke-width="3.75"/><line x1="287.10" y1="766.12" x2="288.00" y2="776.38" stroke="#fff" stroke-width="3.75"/><line x1="299.05" y1="766.12" x2="299.95" y2="776.38" stroke="#fff" stroke-width="3.75"/><line x1="311.00" y1="766.12" x2="311.90" y2="776.38" stroke="#fff" stroke-width="3.75"/><line x1="322.95" y1="766.12" x2="323.85" y2="776.38" stroke="#fff" stroke-width="3.75"/><line x1="334.90" y1="766.12" x2="335.80" y2="776.38" stroke="#fff" stroke-width="3.75"/><line x1="346.85" y1="766.12" x2="347.75" y2="776.38" stroke="#fff" stroke-width="3.75"/><line x1="358.80" y1="766.12" x2="359.70" y2="776.38" stroke="#fff" stroke-width="3.75"/><line x1="370.75" y1="766.12" x2="371.65" y2="776.38" stroke="#fff" stroke-width="3.75"/><line x1="382.70" y1="766.12" x2="383.60" y2="776.38" stroke="#fff" stroke-width="3.75"/><line x1="394.65" y1="766.12" x2="395.55" y2="776.38" stroke="#fff" stroke-width="3.75"/><line x1="406.60" y1="766.12" x2="407.50" y2="776.38" stroke="#fff" stroke-width="3.75"/><line x1="418.55" y1="766.12" x2="419.45" y2="776.38" stroke="#fff" stroke-width="3.75"/><line x1="430.50" y1="766.12" x2="431.40" y2="776.38" stroke="#fff" stroke-width="3.75"/><line x1="442.45" y1="766.12" x2="443.35" y2="776.38" stroke="#fff" stroke-width="3.75"/><line x1="454.40" y1="766.12" x2="455.30" y2="776.38" stroke="#fff" stroke-width="3.75"/><line x1="466.35" y1="766.12" x2="467.25" y2="776.38" stroke="#fff" stroke-width="3.75"/><line x1="478.30" y1="766.12" x2="479.20" y2="776.38" stroke="#fff" stroke-width="3.75"/><line x1="275.15" y1="779.67" x2="276.05" y2="789.93" stroke="#fff" stroke-width="3.75"/><line x1="287.10" y1="779.67" x2="288.00" y2="789.93" stroke="#fff" stroke-width="3.75"/><line x1="299.05" y1="779.67" x2="299.95" y2="789.93" stroke="#fff" stroke-width="3.75"/><line x1="311.00" y1="779.67" x2="311.90" y2="789.93" stroke="#fff" stroke-width="3.75"/><line x1="322.95" y1="779.67" x2="323.85" y2="789.93" stroke="#fff" stroke-width="3.75"/><line x1="334.90" y1="779.67" x2="335.80" y2="789.93" stroke="#fff" stroke-width="3.75"/><line x1="346.85" y1="779.67" x2="347.75" y2="789.93" stroke="#fff" stroke-width="3.75"/><line x1="358.80" y1="779.67" x2="359.70" y2="789.93" stroke="#fff" stroke-width="3.75"/><line x1="370.75" y1="779.67" x2="371.65" y2="789.93" stroke="#fff" stroke-width="3.75"/><line x1="382.70" y1="779.67" x2="383.60" y2="789.93" stroke="#fff" stroke-width="3.75"/><line x1="394.65" y1="779.67" x2="395.55" y2="789.93" stroke="#fff" stroke-width="3.75"/><line x1="406.60" y1="779.67" x2="407.50" y2="789.93" stroke="#fff" stroke-width="3.75"/><line x1="418.55" y1="779.67" x2="419.45" y2="789.93" stroke="#fff" stroke-width="3.75"/><line x1="430.50" y1="779.67" x2="431.40" y2="789.93" stroke="#fff" stroke-width="3.75"/><line x1="442.45" y1="779.67" x2="443.35" y2="789.93" stroke="#fff" stroke-width="3.75"/><line x1="454.40" y1="779.67" x2="455.30" y2="789.93" stroke="#fff" stroke-width="3.75"/><line x1="466.35" y1="779.67" x2="467.25" y2="789.93" stroke="#fff" stroke-width="3.75"/><line x1="478.30" y1="779.67" x2="479.20" y2="789.93" stroke="#fff" stroke-width="3.75"/><line x1="275.15" y1="793.37" x2="276.05" y2="803.63" stroke="#fff" stroke-width="3.75"/><line x1="287.10" y1="793.37" x2="288.00" y2="803.63" stroke="#fff" stroke-width="3.75"/><line x1="299.05" y1="793.37" x2="299.95" y2="803.63" stroke="#fff" stroke-width="3.75"/><line x1="311.00" y1="793.37" x2="311.90" y2="803.63" stroke="#fff" stroke-width="3.75"/><line x1="322.95" y1="793.37" x2="323.85" y2="803.63" stroke="#fff" stroke-width="3.75"/><line x1="334.90" y1="793.37" x2="335.80" y2="803.63" stroke="#fff" stroke-width="3.75"/><line x1="346.85" y1="793.37" x2="347.75" y2="803.63" stroke="#fff" stroke-width="3.75"/><line x1="358.80" y1="793.37" x2="359.70" y2="803.63" stroke="#fff" stroke-width="3.75"/><line x1="370.75" y1="793.37" x2="371.65" y2="803.63" stroke="#fff" stroke-width="3.75"/><line x1="382.70" y1="793.37" x2="383.60" y2="803.63" stroke="#fff" stroke-width="3.75"/><line x1="394.65" y1="793.37" x2="395.55" y2="803.63" stroke="#fff" stroke-width="3.75"/><line x1="406.60" y1="793.37" x2="407.50" y2="803.63" stroke="#fff" stroke-width="3.75"/><line x1="418.55" y1="793.37" x2="419.45" y2="803.63" stroke="#fff" stroke-width="3.75"/><line x1="430.50" y1="793.37" x2="431.40" y2="803.63" stroke="#fff" stroke-width="3.75"/><line x1="442.45" y1="793.37" x2="443.35" y2="803.63" stroke="#fff" stroke-width="3.75"/><line x1="454.40" y1="793.37" x2="455.30" y2="803.63" stroke="#fff" stroke-width="3.75"/><line x1="466.35" y1="793.37" x2="467.25" y2="803.63" stroke="#fff" stroke-width="3.75"/><line x1="478.30" y1="793.37" x2="479.20" y2="803.63" stroke="#fff" stroke-width="3.75"/>
<line x1="268.21" y1="724.68" x2="276.19" y2="732.12" stroke="#000" stroke-width="3.9"/><line x1="279.21" y1="724.68" x2="287.19" y2="732.12" stroke="#000" stroke-width="3.9"/><line x1="290.21" y1="724.68" x2="298.19" y2="732.12" stroke="#000" stroke-width="3.9"/><line x1="301.21" y1="724.68" x2="309.19" y2="732.12" stroke="#000" stroke-width="3.9"/><line x1="312.21" y1="724.68" x2="320.19" y2="732.12" stroke="#000" stroke-width="3.9"/><line x1="323.21" y1="724.68" x2="331.19" y2="732.12" stroke="#000" stroke-width="3.9"/><line x1="334.21" y1="724.68" x2="342.19" y2="732.12" stroke="#000" stroke-width="3.9"/><line x1="345.21" y1="724.68" x2="353.19" y2="732.12" stroke="#000" stroke-width="3.9"/><line x1="356.21" y1="724.68" x2="364.19" y2="732.12" stroke="#000" stroke-width="3.9"/><line x1="367.21" y1="724.68" x2="375.19" y2="732.12" stroke="#000" stroke-width="3.9"/><line x1="378.21" y1="724.68" x2="386.19" y2="732.12" stroke="#000" stroke-width="3.9"/><line x1="389.21" y1="724.68" x2="397.19" y2="732.12" stroke="#000" stroke-width="3.9"/><line x1="400.21" y1="724.68" x2="408.19" y2="732.12" stroke="#000" stroke-width="3.9"/><line x1="411.21" y1="724.68" x2="419.19" y2="732.12" stroke="#000" stroke-width="3.9"/><line x1="422.21" y1="724.68" x2="430.19" y2="732.12" stroke="#000" stroke-width="3.9"/><line x1="433.21" y1="724.68" x2="441.19" y2="732.12" stroke="#000" stroke-width="3.9"/><line x1="444.21" y1="724.68" x2="452.19" y2="732.12" stroke="#000" stroke-width="3.9"/><line x1="455.21" y1="724.68" x2="463.19" y2="732.12" stroke="#000" stroke-width="3.9"/><line x1="466.21" y1="724.68" x2="474.19" y2="732.12" stroke="#000" stroke-width="3.9"/><line x1="477.21" y1="724.68" x2="485.19" y2="732.12" stroke="#000" stroke-width="3.9"/><line x1="488.21" y1="724.68" x2="496.19" y2="732.12" stroke="#000" stroke-width="3.9"/>
</g>
<path d="M365.8,693 C366.5,712 371,731.5 378.3,731.5 C385.5,731.5 390.5,720 393.3,704" fill="none" stroke="#fff" stroke-width="14" stroke-linecap="butt"/><path d="M365.8,693 C366.5,712 371,731.5 378.3,731.5 C385.5,731.5 390.5,720 393.3,704" fill="none" stroke="url(#rb2)" stroke-width="8" stroke-linecap="butt"/>
<polygon points="367.2,654.0 354.0,670.4 354.0,703.6 367.2,694.4" fill="#4f8a2c"/><line x1="363.8" y1="663.3" x2="357.4" y2="670.7" stroke="#00b050" stroke-width="3.0"/><line x1="363.8" y1="670.4" x2="357.4" y2="677.2" stroke="#00b050" stroke-width="3.0"/><line x1="363.8" y1="677.5" x2="357.4" y2="683.7" stroke="#00b050" stroke-width="3.0"/><line x1="363.8" y1="684.7" x2="357.4" y2="690.2" stroke="#00b050" stroke-width="3.0"/><line x1="363.8" y1="691.8" x2="357.4" y2="696.7" stroke="#00b050" stroke-width="3.0"/><polygon points="367.2,654.0 377.9,669.8 377.9,701.8 367.2,694.4" fill="#ffa726"/><line x1="370.0" y1="663.1" x2="375.1" y2="670.1" stroke="#ffff00" stroke-width="3.0"/><line x1="370.0" y1="670.1" x2="375.1" y2="676.5" stroke="#ffff00" stroke-width="3.0"/><line x1="370.0" y1="677.2" x2="375.1" y2="682.8" stroke="#ffff00" stroke-width="3.0"/><line x1="370.0" y1="684.3" x2="375.1" y2="689.1" stroke="#ffff00" stroke-width="3.0"/><line x1="370.0" y1="691.4" x2="375.1" y2="695.4" stroke="#ffff00" stroke-width="3.0"/>
<polygon points="391.2,708.7 403.8,693.8 403.8,659.4 391.2,670.3" fill="#4f8a2c"/><line x1="394.5" y1="700.0" x2="400.5" y2="693.1" stroke="#00b050" stroke-width="3.0"/><line x1="394.5" y1="693.1" x2="400.5" y2="686.5" stroke="#00b050" stroke-width="3.0"/><line x1="394.5" y1="686.1" x2="400.5" y2="680.0" stroke="#00b050" stroke-width="3.0"/><line x1="394.5" y1="679.2" x2="400.5" y2="673.4" stroke="#00b050" stroke-width="3.0"/><line x1="394.5" y1="672.3" x2="400.5" y2="666.8" stroke="#00b050" stroke-width="3.0"/><polygon points="391.2,708.7 380.1,693.8 380.1,660.6 391.2,670.3" fill="#ffa726"/><line x1="388.3" y1="700.0" x2="383.0" y2="693.2" stroke="#ffff00" stroke-width="3.0"/><line x1="388.3" y1="693.2" x2="383.0" y2="686.8" stroke="#ffff00" stroke-width="3.0"/><line x1="388.3" y1="686.3" x2="383.0" y2="680.4" stroke="#ffff00" stroke-width="3.0"/><line x1="388.3" y1="679.4" x2="383.0" y2="674.0" stroke="#ffff00" stroke-width="3.0"/><line x1="388.3" y1="672.6" x2="383.0" y2="667.6" stroke="#ffff00" stroke-width="3.0"/>
<rect x="412" y="670.9" width="30" height="23.850000000000023" fill="#fff"/><text x="420" y="689.3" font-size="20" fill="#000" font-family="Liberation Serif, serif" text-anchor="start" >0<tspan font-size="13.5" dy="-6.5">o</tspan></text>
<g clip-path="url(#cS3)">
<rect x="493" y="652" width="218.25" height="154.89999999999998" fill="#a92a4e"/>
<line x1="494.53" y1="661.42" x2="504.47" y2="663.18" stroke="#fff" stroke-width="3.6"/><line x1="506.53" y1="661.42" x2="516.47" y2="663.18" stroke="#fff" stroke-width="3.6"/><line x1="518.53" y1="661.42" x2="528.47" y2="663.18" stroke="#fff" stroke-width="3.6"/><line x1="530.53" y1="661.42" x2="540.47" y2="663.18" stroke="#fff" stroke-width="3.6"/><line x1="542.53" y1="661.42" x2="552.47" y2="663.18" stroke="#fff" stroke-width="3.6"/><line x1="554.53" y1="661.42" x2="564.47" y2="663.18" stroke="#fff" stroke-width="3.6"/><line x1="566.53" y1="661.42" x2="576.47" y2="663.18" stroke="#fff" stroke-width="3.6"/><line x1="578.53" y1="661.42" x2="588.47" y2="663.18" stroke="#fff" stroke-width="3.6"/><line x1="590.53" y1="661.42" x2="600.47" y2="663.18" stroke="#fff" stroke-width="3.6"/><line x1="602.53" y1="661.42" x2="612.47" y2="663.18" stroke="#fff" stroke-width="3.6"/><line x1="614.53" y1="661.42" x2="624.47" y2="663.18" stroke="#fff" stroke-width="3.6"/><line x1="626.53" y1="661.42" x2="636.47" y2="663.18" stroke="#fff" stroke-width="3.6"/><line x1="638.53" y1="661.42" x2="648.47" y2="663.18" stroke="#fff" stroke-width="3.6"/><line x1="650.53" y1="661.42" x2="660.47" y2="663.18" stroke="#fff" stroke-width="3.6"/><line x1="662.53" y1="661.42" x2="672.47" y2="663.18" stroke="#fff" stroke-width="3.6"/><line x1="674.53" y1="661.42" x2="684.47" y2="663.18" stroke="#fff" stroke-width="3.6"/><line x1="686.53" y1="661.42" x2="696.47" y2="663.18" stroke="#fff" stroke-width="3.6"/><line x1="698.53" y1="661.42" x2="708.47" y2="663.18" stroke="#fff" stroke-width="3.6"/><line x1="494.53" y1="674.92" x2="504.47" y2="676.68" stroke="#fff" stroke-width="3.6"/><line x1="506.53" y1="674.92" x2="516.47" y2="676.68" stroke="#fff" stroke-width="3.6"/><line x1="518.53" y1="674.92" x2="528.47" y2="676.68" stroke="#fff" stroke-width="3.6"/><line x1="530.53" y1="674.92" x2="540.47" y2="676.68" stroke="#fff" stroke-width="3.6"/><line x1="542.53" y1="674.92" x2="552.47" y2="676.68" stroke="#fff" stroke-width="3.6"/><line x1="554.53" y1="674.92" x2="564.47" y2="676.68" stroke="#fff" stroke-width="3.6"/><line x1="566.53" y1="674.92" x2="576.47" y2="676.68" stroke="#fff" stroke-width="3.6"/><line x1="578.53" y1="674.92" x2="588.47" y2="676.68" stroke="#fff" stroke-width="3.6"/><line x1="590.53" y1="674.92" x2="600.47" y2="676.68" stroke="#fff" stroke-width="3.6"/><line x1="602.53" y1="674.92" x2="612.47" y2="676.68" stroke="#fff" stroke-width="3.6"/><line x1="614.53" y1="674.92" x2="624.47" y2="676.68" stroke="#fff" stroke-width="3.6"/><line x1="626.53" y1="674.92" x2="636.47" y2="676.68" stroke="#fff" stroke-width="3.6"/><line x1="638.53" y1="674.92" x2="648.47" y2="676.68" stroke="#fff" stroke-width="3.6"/><line x1="650.53" y1="674.92" x2="660.47" y2="676.68" stroke="#fff" stroke-width="3.6"/><line x1="662.53" y1="674.92" x2="672.47" y2="676.68" stroke="#fff" stroke-width="3.6"/><line x1="674.53" y1="674.92" x2="684.47" y2="676.68" stroke="#fff" stroke-width="3.6"/><line x1="686.53" y1="674.92" x2="696.47" y2="676.68" stroke="#fff" stroke-width="3.6"/><line x1="698.53" y1="674.92" x2="708.47" y2="676.68" stroke="#fff" stroke-width="3.6"/><line x1="494.53" y1="688.42" x2="504.47" y2="690.18" stroke="#fff" stroke-width="3.6"/><line x1="506.53" y1="688.42" x2="516.47" y2="690.18" stroke="#fff" stroke-width="3.6"/><line x1="518.53" y1="688.42" x2="528.47" y2="690.18" stroke="#fff" stroke-width="3.6"/><line x1="530.53" y1="688.42" x2="540.47" y2="690.18" stroke="#fff" stroke-width="3.6"/><line x1="542.53" y1="688.42" x2="552.47" y2="690.18" stroke="#fff" stroke-width="3.6"/><line x1="554.53" y1="688.42" x2="564.47" y2="690.18" stroke="#fff" stroke-width="3.6"/><line x1="566.53" y1="688.42" x2="576.47" y2="690.18" stroke="#fff" stroke-width="3.6"/><line x1="578.53" y1="688.42" x2="588.47" y2="690.18" stroke="#fff" stroke-width="3.6"/><line x1="590.53" y1="688.42" x2="600.47" y2="690.18" stroke="#fff" stroke-width="3.6"/><line x1="602.53" y1="688.42" x2="612.47" y2="690.18" stroke="#fff" stroke-width="3.6"/><line x1="614.53" y1="688.42" x2="624.47" y2="690.18" stroke="#fff" stroke-width="3.6"/><line x1="626.53" y1="688.42" x2="636.47" y2="690.18" stroke="#fff" stroke-width="3.6"/><line x1="638.53" y1="688.42" x2="648.47" y2="690.18" stroke="#fff" stroke-width="3.6"/><line x1="650.53" y1="688.42" x2="660.47" y2="690.18" stroke="#fff" stroke-width="3.6"/><line x1="662.53" y1="688.42" x2="672.47" y2="690.18" stroke="#fff" stroke-width="3.6"/><line x1="674.53" y1="688.42" x2="684.47" y2="690.18" stroke="#fff" stroke-width="3.6"/><line x1="686.53" y1="688.42" x2="696.47" y2="690.18" stroke="#fff" stroke-width="3.6"/><line x1="698.53" y1="688.42" x2="708.47" y2="690.18" stroke="#fff" stroke-width="3.6"/><line x1="494.53" y1="701.92" x2="504.47" y2="703.68" stroke="#fff" stroke-width="3.6"/><line x1="506.53" y1="701.92" x2="516.47" y2="703.68" stroke="#fff" stroke-width="3.6"/><line x1="518.53" y1="701.92" x2="528.47" y2="703.68" stroke="#fff" stroke-width="3.6"/><line x1="530.53" y1="701.92" x2="540.47" y2="703.68" stroke="#fff" stroke-width="3.6"/><line x1="542.53" y1="701.92" x2="552.47" y2="703.68" stroke="#fff" stroke-width="3.6"/><line x1="554.53" y1="701.92" x2="564.47" y2="703.68" stroke="#fff" stroke-width="3.6"/><line x1="566.53" y1="701.92" x2="576.47" y2="703.68" stroke="#fff" stroke-width="3.6"/><line x1="578.53" y1="701.92" x2="588.47" y2="703.68" stroke="#fff" stroke-width="3.6"/><line x1="590.53" y1="701.92" x2="600.47" y2="703.68" stroke="#fff" stroke-width="3.6"/><line x1="602.53" y1="701.92" x2="612.47" y2="703.68" stroke="#fff" stroke-width="3.6"/><line x1="614.53" y1="701.92" x2="624.47" y2="703.68" stroke="#fff" stroke-width="3.6"/><line x1="626.53" y1="701.92" x2="636.47" y2="703.68" stroke="#fff" stroke-width="3.6"/><line x1="638.53" y1="701.92" x2="648.47" y2="703.68" stroke="#fff" stroke-width="3.6"/><line x1="650.53" y1="701.92" x2="660.47" y2="703.68" stroke="#fff" stroke-width="3.6"/><line x1="662.53" y1="701.92" x2="672.47" y2="703.68" stroke="#fff" stroke-width="3.6"/><line x1="674.53" y1="701.92" x2="684.47" y2="703.68" stroke="#fff" stroke-width="3.6"/><line x1="686.53" y1="701.92" x2="696.47" y2="703.68" stroke="#fff" stroke-width="3.6"/><line x1="698.53" y1="701.92" x2="708.47" y2="703.68" stroke="#fff" stroke-width="3.6"/><line x1="494.53" y1="715.42" x2="504.47" y2="717.18" stroke="#fff" stroke-width="3.6"/><line x1="506.53" y1="715.42" x2="516.47" y2="717.18" stroke="#fff" stroke-width="3.6"/><line x1="518.53" y1="715.42" x2="528.47" y2="717.18" stroke="#fff" stroke-width="3.6"/><line x1="530.53" y1="715.42" x2="540.47" y2="717.18" stroke="#fff" stroke-width="3.6"/><line x1="542.53" y1="715.42" x2="552.47" y2="717.18" stroke="#fff" stroke-width="3.6"/><line x1="554.53" y1="715.42" x2="564.47" y2="717.18" stroke="#fff" stroke-width="3.6"/><line x1="566.53" y1="715.42" x2="576.47" y2="717.18" stroke="#fff" stroke-width="3.6"/><line x1="578.53" y1="715.42" x2="588.47" y2="717.18" stroke="#fff" stroke-width="3.6"/><line x1="590.53" y1="715.42" x2="600.47" y2="717.18" stroke="#fff" stroke-width="3.6"/><line x1="602.53" y1="715.42" x2="612.47" y2="717.18" stroke="#fff" stroke-width="3.6"/><line x1="614.53" y1="715.42" x2="624.47" y2="717.18" stroke="#fff" stroke-width="3.6"/><line x1="626.53" y1="715.42" x2="636.47" y2="717.18" stroke="#fff" stroke-width="3.6"/><line x1="638.53" y1="715.42" x2="648.47" y2="717.18" stroke="#fff" stroke-width="3.6"/><line x1="650.53" y1="715.42" x2="660.47" y2="717.18" stroke="#fff" stroke-width="3.6"/><line x1="662.53" y1="715.42" x2="672.47" y2="717.18" stroke="#fff" stroke-width="3.6"/><line x1="674.53" y1="715.42" x2="684.47" y2="717.18" stroke="#fff" stroke-width="3.6"/><line x1="686.53" y1="715.42" x2="696.47" y2="717.18" stroke="#fff" stroke-width="3.6"/><line x1="698.53" y1="715.42" x2="708.47" y2="717.18" stroke="#fff" stroke-width="3.6"/>
<line x1="499.17" y1="747.86" x2="500.43" y2="737.54" stroke="#fff" stroke-width="3.75"/><line x1="511.12" y1="747.86" x2="512.38" y2="737.54" stroke="#fff" stroke-width="3.75"/><line x1="523.07" y1="747.86" x2="524.33" y2="737.54" stroke="#fff" stroke-width="3.75"/><line x1="535.02" y1="747.86" x2="536.28" y2="737.54" stroke="#fff" stroke-width="3.75"/><line x1="546.97" y1="747.86" x2="548.23" y2="737.54" stroke="#fff" stroke-width="3.75"/><line x1="558.92" y1="747.86" x2="560.18" y2="737.54" stroke="#fff" stroke-width="3.75"/><line x1="570.87" y1="747.86" x2="572.13" y2="737.54" stroke="#fff" stroke-width="3.75"/><line x1="582.82" y1="747.86" x2="584.08" y2="737.54" stroke="#fff" stroke-width="3.75"/><line x1="594.77" y1="747.86" x2="596.03" y2="737.54" stroke="#fff" stroke-width="3.75"/><line x1="606.72" y1="747.86" x2="607.98" y2="737.54" stroke="#fff" stroke-width="3.75"/><line x1="618.67" y1="747.86" x2="619.93" y2="737.54" stroke="#fff" stroke-width="3.75"/><line x1="630.62" y1="747.86" x2="631.88" y2="737.54" stroke="#fff" stroke-width="3.75"/><line x1="642.57" y1="747.86" x2="643.83" y2="737.54" stroke="#fff" stroke-width="3.75"/><line x1="654.52" y1="747.86" x2="655.78" y2="737.54" stroke="#fff" stroke-width="3.75"/><line x1="666.47" y1="747.86" x2="667.73" y2="737.54" stroke="#fff" stroke-width="3.75"/><line x1="678.42" y1="747.86" x2="679.68" y2="737.54" stroke="#fff" stroke-width="3.75"/><line x1="690.37" y1="747.86" x2="691.63" y2="737.54" stroke="#fff" stroke-width="3.75"/><line x1="702.32" y1="747.86" x2="703.58" y2="737.54" stroke="#fff" stroke-width="3.75"/><line x1="499.17" y1="761.66" x2="500.43" y2="751.34" stroke="#fff" stroke-width="3.75"/><line x1="511.12" y1="761.66" x2="512.38" y2="751.34" stroke="#fff" stroke-width="3.75"/><line x1="523.07" y1="761.66" x2="524.33" y2="751.34" stroke="#fff" stroke-width="3.75"/><line x1="535.02" y1="761.66" x2="536.28" y2="751.34" stroke="#fff" stroke-width="3.75"/><line x1="546.97" y1="761.66" x2="548.23" y2="751.34" stroke="#fff" stroke-width="3.75"/><line x1="558.92" y1="761.66" x2="560.18" y2="751.34" stroke="#fff" stroke-width="3.75"/><line x1="570.87" y1="761.66" x2="572.13" y2="751.34" stroke="#fff" stroke-width="3.75"/><line x1="582.82" y1="761.66" x2="584.08" y2="751.34" stroke="#fff" stroke-width="3.75"/><line x1="594.77" y1="761.66" x2="596.03" y2="751.34" stroke="#fff" stroke-width="3.75"/><line x1="606.72" y1="761.66" x2="607.98" y2="751.34" stroke="#fff" stroke-width="3.75"/><line x1="618.67" y1="761.66" x2="619.93" y2="751.34" stroke="#fff" stroke-width="3.75"/><line x1="630.62" y1="761.66" x2="631.88" y2="751.34" stroke="#fff" stroke-width="3.75"/><line x1="642.57" y1="761.66" x2="643.83" y2="751.34" stroke="#fff" stroke-width="3.75"/><line x1="654.52" y1="761.66" x2="655.78" y2="751.34" stroke="#fff" stroke-width="3.75"/><line x1="666.47" y1="761.66" x2="667.73" y2="751.34" stroke="#fff" stroke-width="3.75"/><line x1="678.42" y1="761.66" x2="679.68" y2="751.34" stroke="#fff" stroke-width="3.75"/><line x1="690.37" y1="761.66" x2="691.63" y2="751.34" stroke="#fff" stroke-width="3.75"/><line x1="702.32" y1="761.66" x2="703.58" y2="751.34" stroke="#fff" stroke-width="3.75"/><line x1="499.17" y1="775.36" x2="500.43" y2="765.04" stroke="#fff" stroke-width="3.75"/><line x1="511.12" y1="775.36" x2="512.38" y2="765.04" stroke="#fff" stroke-width="3.75"/><line x1="523.07" y1="775.36" x2="524.33" y2="765.04" stroke="#fff" stroke-width="3.75"/><line x1="535.02" y1="775.36" x2="536.28" y2="765.04" stroke="#fff" stroke-width="3.75"/><line x1="546.97" y1="775.36" x2="548.23" y2="765.04" stroke="#fff" stroke-width="3.75"/><line x1="558.92" y1="775.36" x2="560.18" y2="765.04" stroke="#fff" stroke-width="3.75"/><line x1="570.87" y1="775.36" x2="572.13" y2="765.04" stroke="#fff" stroke-width="3.75"/><line x1="582.82" y1="775.36" x2="584.08" y2="765.04" stroke="#fff" stroke-width="3.75"/><line x1="594.77" y1="775.36" x2="596.03" y2="765.04" stroke="#fff" stroke-width="3.75"/><line x1="606.72" y1="775.36" x2="607.98" y2="765.04" stroke="#fff" stroke-width="3.75"/><line x1="618.67" y1="775.36" x2="619.93" y2="765.04" stroke="#fff" stroke-width="3.75"/><line x1="630.62" y1="775.36" x2="631.88" y2="765.04" stroke="#fff" stroke-width="3.75"/><line x1="642.57" y1="775.36" x2="643.83" y2="765.04" stroke="#fff" stroke-width="3.75"/><line x1="654.52" y1="775.36" x2="655.78" y2="765.04" stroke="#fff" stroke-width="3.75"/><line x1="666.47" y1="775.36" x2="667.73" y2="765.04" stroke="#fff" stroke-width="3.75"/><line x1="678.42" y1="775.36" x2="679.68" y2="765.04" stroke="#fff" stroke-width="3.75"/><line x1="690.37" y1="775.36" x2="691.63" y2="765.04" stroke="#fff" stroke-width="3.75"/><line x1="702.32" y1="775.36" x2="703.58" y2="765.04" stroke="#fff" stroke-width="3.75"/><line x1="499.17" y1="788.66" x2="500.43" y2="778.34" stroke="#fff" stroke-width="3.75"/><line x1="511.12" y1="788.66" x2="512.38" y2="778.34" stroke="#fff" stroke-width="3.75"/><line x1="523.07" y1="788.66" x2="524.33" y2="778.34" stroke="#fff" stroke-width="3.75"/><line x1="535.02" y1="788.66" x2="536.28" y2="778.34" stroke="#fff" stroke-width="3.75"/><line x1="546.97" y1="788.66" x2="548.23" y2="778.34" stroke="#fff" stroke-width="3.75"/><line x1="558.92" y1="788.66" x2="560.18" y2="778.34" stroke="#fff" stroke-width="3.75"/><line x1="570.87" y1="788.66" x2="572.13" y2="778.34" stroke="#fff" stroke-width="3.75"/><line x1="582.82" y1="788.66" x2="584.08" y2="778.34" stroke="#fff" stroke-width="3.75"/><line x1="594.77" y1="788.66" x2="596.03" y2="778.34" stroke="#fff" stroke-width="3.75"/><line x1="606.72" y1="788.66" x2="607.98" y2="778.34" stroke="#fff" stroke-width="3.75"/><line x1="618.67" y1="788.66" x2="619.93" y2="778.34" stroke="#fff" stroke-width="3.75"/><line x1="630.62" y1="788.66" x2="631.88" y2="778.34" stroke="#fff" stroke-width="3.75"/><line x1="642.57" y1="788.66" x2="643.83" y2="778.34" stroke="#fff" stroke-width="3.75"/><line x1="654.52" y1="788.66" x2="655.78" y2="778.34" stroke="#fff" stroke-width="3.75"/><line x1="666.47" y1="788.66" x2="667.73" y2="778.34" stroke="#fff" stroke-width="3.75"/><line x1="678.42" y1="788.66" x2="679.68" y2="778.34" stroke="#fff" stroke-width="3.75"/><line x1="690.37" y1="788.66" x2="691.63" y2="778.34" stroke="#fff" stroke-width="3.75"/><line x1="702.32" y1="788.66" x2="703.58" y2="778.34" stroke="#fff" stroke-width="3.75"/><line x1="499.17" y1="802.26" x2="500.43" y2="791.94" stroke="#fff" stroke-width="3.75"/><line x1="511.12" y1="802.26" x2="512.38" y2="791.94" stroke="#fff" stroke-width="3.75"/><line x1="523.07" y1="802.26" x2="524.33" y2="791.94" stroke="#fff" stroke-width="3.75"/><line x1="535.02" y1="802.26" x2="536.28" y2="791.94" stroke="#fff" stroke-width="3.75"/><line x1="546.97" y1="802.26" x2="548.23" y2="791.94" stroke="#fff" stroke-width="3.75"/><line x1="558.92" y1="802.26" x2="560.18" y2="791.94" stroke="#fff" stroke-width="3.75"/><line x1="570.87" y1="802.26" x2="572.13" y2="791.94" stroke="#fff" stroke-width="3.75"/><line x1="582.82" y1="802.26" x2="584.08" y2="791.94" stroke="#fff" stroke-width="3.75"/><line x1="594.77" y1="802.26" x2="596.03" y2="791.94" stroke="#fff" stroke-width="3.75"/><line x1="606.72" y1="802.26" x2="607.98" y2="791.94" stroke="#fff" stroke-width="3.75"/><line x1="618.67" y1="802.26" x2="619.93" y2="791.94" stroke="#fff" stroke-width="3.75"/><line x1="630.62" y1="802.26" x2="631.88" y2="791.94" stroke="#fff" stroke-width="3.75"/><line x1="642.57" y1="802.26" x2="643.83" y2="791.94" stroke="#fff" stroke-width="3.75"/><line x1="654.52" y1="802.26" x2="655.78" y2="791.94" stroke="#fff" stroke-width="3.75"/><line x1="666.47" y1="802.26" x2="667.73" y2="791.94" stroke="#fff" stroke-width="3.75"/><line x1="678.42" y1="802.26" x2="679.68" y2="791.94" stroke="#fff" stroke-width="3.75"/><line x1="690.37" y1="802.26" x2="691.63" y2="791.94" stroke="#fff" stroke-width="3.75"/><line x1="702.32" y1="802.26" x2="703.58" y2="791.94" stroke="#fff" stroke-width="3.75"/>
<line x1="492.71" y1="724.68" x2="500.69" y2="732.12" stroke="#000" stroke-width="3.9"/><line x1="503.71" y1="724.68" x2="511.69" y2="732.12" stroke="#000" stroke-width="3.9"/><line x1="514.71" y1="724.68" x2="522.69" y2="732.12" stroke="#000" stroke-width="3.9"/><line x1="525.71" y1="724.68" x2="533.69" y2="732.12" stroke="#000" stroke-width="3.9"/><line x1="536.71" y1="724.68" x2="544.69" y2="732.12" stroke="#000" stroke-width="3.9"/><line x1="547.71" y1="724.68" x2="555.69" y2="732.12" stroke="#000" stroke-width="3.9"/><line x1="558.71" y1="724.68" x2="566.69" y2="732.12" stroke="#000" stroke-width="3.9"/><line x1="569.71" y1="724.68" x2="577.69" y2="732.12" stroke="#000" stroke-width="3.9"/><line x1="580.71" y1="724.68" x2="588.69" y2="732.12" stroke="#000" stroke-width="3.9"/><line x1="591.71" y1="724.68" x2="599.69" y2="732.12" stroke="#000" stroke-width="3.9"/><line x1="602.71" y1="724.68" x2="610.69" y2="732.12" stroke="#000" stroke-width="3.9"/><line x1="613.71" y1="724.68" x2="621.69" y2="732.12" stroke="#000" stroke-width="3.9"/><line x1="624.71" y1="724.68" x2="632.69" y2="732.12" stroke="#000" stroke-width="3.9"/><line x1="635.71" y1="724.68" x2="643.69" y2="732.12" stroke="#000" stroke-width="3.9"/><line x1="646.71" y1="724.68" x2="654.69" y2="732.12" stroke="#000" stroke-width="3.9"/><line x1="657.71" y1="724.68" x2="665.69" y2="732.12" stroke="#000" stroke-width="3.9"/><line x1="668.71" y1="724.68" x2="676.69" y2="732.12" stroke="#000" stroke-width="3.9"/><line x1="679.71" y1="724.68" x2="687.69" y2="732.12" stroke="#000" stroke-width="3.9"/><line x1="690.71" y1="724.68" x2="698.69" y2="732.12" stroke="#000" stroke-width="3.9"/><line x1="701.71" y1="724.68" x2="709.69" y2="732.12" stroke="#000" stroke-width="3.9"/><line x1="712.71" y1="724.68" x2="720.69" y2="732.12" stroke="#000" stroke-width="3.9"/>
</g>
<line x1="560.5" y1="658.3" x2="560.5" y2="729.4" stroke="#2a94f4" stroke-width="3.3" stroke-dasharray="11.5 10"/>
<line x1="573.1" y1="658.9" x2="562.2" y2="713.3" stroke="#2a94f4" stroke-width="3.3" stroke-dasharray="11.5 10"/>
<path d="M560.3,671.5 Q565,674 569.8,672.5" fill="none" stroke="#2a94f4" stroke-width="2.6"/>
<path d="M589,696 C588.5,712 590,730 597.5,730 C605,730 611,718 615.5,704" fill="none" stroke="#fff" stroke-width="14" stroke-linecap="butt"/><path d="M589,696 C588.5,712 590,730 597.5,730 C605,730 611,718 615.5,704" fill="none" stroke="url(#rb3)" stroke-width="8" stroke-linecap="butt"/>
<polygon points="588.0,701.3 579.2,684.1 585.1,651.5 594.3,663.5" fill="#ffa726"/><line x1="586.5" y1="692.1" x2="582.3" y2="684.2" stroke="#ffff00" stroke-width="3.0"/><line x1="587.7" y1="685.4" x2="583.4" y2="677.9" stroke="#ffff00" stroke-width="3.0"/><line x1="588.8" y1="678.6" x2="584.5" y2="671.6" stroke="#ffff00" stroke-width="3.0"/><line x1="590.0" y1="671.9" x2="585.6" y2="665.3" stroke="#ffff00" stroke-width="3.0"/><line x1="591.1" y1="665.1" x2="586.7" y2="659.0" stroke="#ffff00" stroke-width="3.0"/><polygon points="588.0,701.3 605.8,680.7 609.2,654.3 594.3,663.5" fill="#4f8a2c"/><line x1="593.3" y1="691.4" x2="601.7" y2="682.2" stroke="#00b050" stroke-width="3.0"/><line x1="594.4" y1="685.0" x2="602.5" y2="676.8" stroke="#00b050" stroke-width="3.0"/><line x1="595.4" y1="678.5" x2="603.2" y2="671.4" stroke="#00b050" stroke-width="3.0"/><line x1="596.4" y1="672.1" x2="604.0" y2="665.9" stroke="#00b050" stroke-width="3.0"/><line x1="597.5" y1="665.6" x2="604.8" y2="660.5" stroke="#00b050" stroke-width="3.0"/>
<polygon points="628.1,666.9 616.1,674.3 598.9,708.1 613.8,704.1" fill="#4f8a2c"/><line x1="623.0" y1="673.5" x2="617.1" y2="676.9" stroke="#00b050" stroke-width="3.0"/><line x1="620.2" y1="680.3" x2="614.0" y2="683.3" stroke="#00b050" stroke-width="3.0"/><line x1="617.4" y1="687.0" x2="611.0" y2="689.7" stroke="#00b050" stroke-width="3.0"/><line x1="614.6" y1="693.7" x2="607.9" y2="696.1" stroke="#00b050" stroke-width="3.0"/><line x1="611.8" y1="700.4" x2="604.9" y2="702.6" stroke="#00b050" stroke-width="3.0"/><polygon points="628.1,666.9 633.3,684.7 621.1,715.6 613.8,704.1" fill="#ffa726"/><line x1="627.7" y1="676.1" x2="630.3" y2="684.3" stroke="#ffff00" stroke-width="3.0"/><line x1="625.1" y1="682.7" x2="627.9" y2="690.3" stroke="#ffff00" stroke-width="3.0"/><line x1="622.6" y1="689.3" x2="625.6" y2="696.3" stroke="#ffff00" stroke-width="3.0"/><line x1="620.0" y1="695.9" x2="623.2" y2="702.4" stroke="#ffff00" stroke-width="3.0"/><line x1="617.5" y1="702.5" x2="620.9" y2="708.4" stroke="#ffff00" stroke-width="3.0"/>
<rect x="501.25" y="670.5" width="53.75" height="23.200000000000045" fill="#fff"/><text x="505.5" y="688" font-size="20" fill="#000" font-family="Liberation Serif, serif" text-anchor="start" >−<tspan dx="7.3">10</tspan><tspan font-size="13.5" dy="-6.5">o</tspan></text>
<g clip-path="url(#cS4)">
<rect x="718.25" y="652" width="218.0" height="154.89999999999998" fill="#a92a4e"/>
<line x1="726.38" y1="664.81" x2="723.62" y2="655.19" stroke="#fff" stroke-width="3.5"/><line x1="738.38" y1="664.81" x2="735.62" y2="655.19" stroke="#fff" stroke-width="3.5"/><line x1="750.38" y1="664.81" x2="747.62" y2="655.19" stroke="#fff" stroke-width="3.5"/><line x1="762.38" y1="664.81" x2="759.62" y2="655.19" stroke="#fff" stroke-width="3.5"/><line x1="774.38" y1="664.81" x2="771.62" y2="655.19" stroke="#fff" stroke-width="3.5"/><line x1="786.38" y1="664.81" x2="783.62" y2="655.19" stroke="#fff" stroke-width="3.5"/><line x1="798.38" y1="664.81" x2="795.62" y2="655.19" stroke="#fff" stroke-width="3.5"/><line x1="810.38" y1="664.81" x2="807.62" y2="655.19" stroke="#fff" stroke-width="3.5"/><line x1="822.38" y1="664.81" x2="819.62" y2="655.19" stroke="#fff" stroke-width="3.5"/><line x1="834.38" y1="664.81" x2="831.62" y2="655.19" stroke="#fff" stroke-width="3.5"/><line x1="846.38" y1="664.81" x2="843.62" y2="655.19" stroke="#fff" stroke-width="3.5"/><line x1="858.38" y1="664.81" x2="855.62" y2="655.19" stroke="#fff" stroke-width="3.5"/><line x1="870.38" y1="664.81" x2="867.62" y2="655.19" stroke="#fff" stroke-width="3.5"/><line x1="882.38" y1="664.81" x2="879.62" y2="655.19" stroke="#fff" stroke-width="3.5"/><line x1="894.38" y1="664.81" x2="891.62" y2="655.19" stroke="#fff" stroke-width="3.5"/><line x1="906.38" y1="664.81" x2="903.62" y2="655.19" stroke="#fff" stroke-width="3.5"/><line x1="918.38" y1="664.81" x2="915.62" y2="655.19" stroke="#fff" stroke-width="3.5"/><line x1="930.38" y1="664.81" x2="927.62" y2="655.19" stroke="#fff" stroke-width="3.5"/><line x1="726.38" y1="678.31" x2="723.62" y2="668.69" stroke="#fff" stroke-width="3.5"/><line x1="738.38" y1="678.31" x2="735.62" y2="668.69" stroke="#fff" stroke-width="3.5"/><line x1="750.38" y1="678.31" x2="747.62" y2="668.69" stroke="#fff" stroke-width="3.5"/><line x1="762.38" y1="678.31" x2="759.62" y2="668.69" stroke="#fff" stroke-width="3.5"/><line x1="774.38" y1="678.31" x2="771.62" y2="668.69" stroke="#fff" stroke-width="3.5"/><line x1="786.38" y1="678.31" x2="783.62" y2="668.69" stroke="#fff" stroke-width="3.5"/><line x1="798.38" y1="678.31" x2="795.62" y2="668.69" stroke="#fff" stroke-width="3.5"/><line x1="810.38" y1="678.31" x2="807.62" y2="668.69" stroke="#fff" stroke-width="3.5"/><line x1="822.38" y1="678.31" x2="819.62" y2="668.69" stroke="#fff" stroke-width="3.5"/><line x1="834.38" y1="678.31" x2="831.62" y2="668.69" stroke="#fff" stroke-width="3.5"/><line x1="846.38" y1="678.31" x2="843.62" y2="668.69" stroke="#fff" stroke-width="3.5"/><line x1="858.38" y1="678.31" x2="855.62" y2="668.69" stroke="#fff" stroke-width="3.5"/><line x1="870.38" y1="678.31" x2="867.62" y2="668.69" stroke="#fff" stroke-width="3.5"/><line x1="882.38" y1="678.31" x2="879.62" y2="668.69" stroke="#fff" stroke-width="3.5"/><line x1="894.38" y1="678.31" x2="891.62" y2="668.69" stroke="#fff" stroke-width="3.5"/><line x1="906.38" y1="678.31" x2="903.62" y2="668.69" stroke="#fff" stroke-width="3.5"/><line x1="918.38" y1="678.31" x2="915.62" y2="668.69" stroke="#fff" stroke-width="3.5"/><line x1="930.38" y1="678.31" x2="927.62" y2="668.69" stroke="#fff" stroke-width="3.5"/><line x1="726.38" y1="691.81" x2="723.62" y2="682.19" stroke="#fff" stroke-width="3.5"/><line x1="738.38" y1="691.81" x2="735.62" y2="682.19" stroke="#fff" stroke-width="3.5"/><line x1="750.38" y1="691.81" x2="747.62" y2="682.19" stroke="#fff" stroke-width="3.5"/><line x1="762.38" y1="691.81" x2="759.62" y2="682.19" stroke="#fff" stroke-width="3.5"/><line x1="774.38" y1="691.81" x2="771.62" y2="682.19" stroke="#fff" stroke-width="3.5"/><line x1="786.38" y1="691.81" x2="783.62" y2="682.19" stroke="#fff" stroke-width="3.5"/><line x1="798.38" y1="691.81" x2="795.62" y2="682.19" stroke="#fff" stroke-width="3.5"/><line x1="810.38" y1="691.81" x2="807.62" y2="682.19" stroke="#fff" stroke-width="3.5"/><line x1="822.38" y1="691.81" x2="819.62" y2="682.19" stroke="#fff" stroke-width="3.5"/><line x1="834.38" y1="691.81" x2="831.62" y2="682.19" stroke="#fff" stroke-width="3.5"/><line x1="846.38" y1="691.81" x2="843.62" y2="682.19" stroke="#fff" stroke-width="3.5"/><line x1="858.38" y1="691.81" x2="855.62" y2="682.19" stroke="#fff" stroke-width="3.5"/><line x1="870.38" y1="691.81" x2="867.62" y2="682.19" stroke="#fff" stroke-width="3.5"/><line x1="882.38" y1="691.81" x2="879.62" y2="682.19" stroke="#fff" stroke-width="3.5"/><line x1="894.38" y1="691.81" x2="891.62" y2="682.19" stroke="#fff" stroke-width="3.5"/><line x1="906.38" y1="691.81" x2="903.62" y2="682.19" stroke="#fff" stroke-width="3.5"/><line x1="918.38" y1="691.81" x2="915.62" y2="682.19" stroke="#fff" stroke-width="3.5"/><line x1="930.38" y1="691.81" x2="927.62" y2="682.19" stroke="#fff" stroke-width="3.5"/><line x1="726.38" y1="705.41" x2="723.62" y2="695.79" stroke="#fff" stroke-width="3.5"/><line x1="738.38" y1="705.41" x2="735.62" y2="695.79" stroke="#fff" stroke-width="3.5"/><line x1="750.38" y1="705.41" x2="747.62" y2="695.79" stroke="#fff" stroke-width="3.5"/><line x1="762.38" y1="705.41" x2="759.62" y2="695.79" stroke="#fff" stroke-width="3.5"/><line x1="774.38" y1="705.41" x2="771.62" y2="695.79" stroke="#fff" stroke-width="3.5"/><line x1="786.38" y1="705.41" x2="783.62" y2="695.79" stroke="#fff" stroke-width="3.5"/><line x1="798.38" y1="705.41" x2="795.62" y2="695.79" stroke="#fff" stroke-width="3.5"/><line x1="810.38" y1="705.41" x2="807.62" y2="695.79" stroke="#fff" stroke-width="3.5"/><line x1="822.38" y1="705.41" x2="819.62" y2="695.79" stroke="#fff" stroke-width="3.5"/><line x1="834.38" y1="705.41" x2="831.62" y2="695.79" stroke="#fff" stroke-width="3.5"/><line x1="846.38" y1="705.41" x2="843.62" y2="695.79" stroke="#fff" stroke-width="3.5"/><line x1="858.38" y1="705.41" x2="855.62" y2="695.79" stroke="#fff" stroke-width="3.5"/><line x1="870.38" y1="705.41" x2="867.62" y2="695.79" stroke="#fff" stroke-width="3.5"/><line x1="882.38" y1="705.41" x2="879.62" y2="695.79" stroke="#fff" stroke-width="3.5"/><line x1="894.38" y1="705.41" x2="891.62" y2="695.79" stroke="#fff" stroke-width="3.5"/><line x1="906.38" y1="705.41" x2="903.62" y2="695.79" stroke="#fff" stroke-width="3.5"/><line x1="918.38" y1="705.41" x2="915.62" y2="695.79" stroke="#fff" stroke-width="3.5"/><line x1="930.38" y1="705.41" x2="927.62" y2="695.79" stroke="#fff" stroke-width="3.5"/><line x1="726.38" y1="719.01" x2="723.62" y2="709.39" stroke="#fff" stroke-width="3.5"/><line x1="738.38" y1="719.01" x2="735.62" y2="709.39" stroke="#fff" stroke-width="3.5"/><line x1="750.38" y1="719.01" x2="747.62" y2="709.39" stroke="#fff" stroke-width="3.5"/><line x1="762.38" y1="719.01" x2="759.62" y2="709.39" stroke="#fff" stroke-width="3.5"/><line x1="774.38" y1="719.01" x2="771.62" y2="709.39" stroke="#fff" stroke-width="3.5"/><line x1="786.38" y1="719.01" x2="783.62" y2="709.39" stroke="#fff" stroke-width="3.5"/><line x1="798.38" y1="719.01" x2="795.62" y2="709.39" stroke="#fff" stroke-width="3.5"/><line x1="810.38" y1="719.01" x2="807.62" y2="709.39" stroke="#fff" stroke-width="3.5"/><line x1="822.38" y1="719.01" x2="819.62" y2="709.39" stroke="#fff" stroke-width="3.5"/><line x1="834.38" y1="719.01" x2="831.62" y2="709.39" stroke="#fff" stroke-width="3.5"/><line x1="846.38" y1="719.01" x2="843.62" y2="709.39" stroke="#fff" stroke-width="3.5"/><line x1="858.38" y1="719.01" x2="855.62" y2="709.39" stroke="#fff" stroke-width="3.5"/><line x1="870.38" y1="719.01" x2="867.62" y2="709.39" stroke="#fff" stroke-width="3.5"/><line x1="882.38" y1="719.01" x2="879.62" y2="709.39" stroke="#fff" stroke-width="3.5"/><line x1="894.38" y1="719.01" x2="891.62" y2="709.39" stroke="#fff" stroke-width="3.5"/><line x1="906.38" y1="719.01" x2="903.62" y2="709.39" stroke="#fff" stroke-width="3.5"/><line x1="918.38" y1="719.01" x2="915.62" y2="709.39" stroke="#fff" stroke-width="3.5"/><line x1="930.38" y1="719.01" x2="927.62" y2="709.39" stroke="#fff" stroke-width="3.5"/>
<line x1="720.24" y1="744.83" x2="729.76" y2="741.17" stroke="#fff" stroke-width="3.5"/><line x1="732.24" y1="744.83" x2="741.76" y2="741.17" stroke="#fff" stroke-width="3.5"/><line x1="744.24" y1="744.83" x2="753.76" y2="741.17" stroke="#fff" stroke-width="3.5"/><line x1="756.24" y1="744.83" x2="765.76" y2="741.17" stroke="#fff" stroke-width="3.5"/><line x1="768.24" y1="744.83" x2="777.76" y2="741.17" stroke="#fff" stroke-width="3.5"/><line x1="780.24" y1="744.83" x2="789.76" y2="741.17" stroke="#fff" stroke-width="3.5"/><line x1="792.24" y1="744.83" x2="801.76" y2="741.17" stroke="#fff" stroke-width="3.5"/><line x1="804.24" y1="744.83" x2="813.76" y2="741.17" stroke="#fff" stroke-width="3.5"/><line x1="816.24" y1="744.83" x2="825.76" y2="741.17" stroke="#fff" stroke-width="3.5"/><line x1="828.24" y1="744.83" x2="837.76" y2="741.17" stroke="#fff" stroke-width="3.5"/><line x1="840.24" y1="744.83" x2="849.76" y2="741.17" stroke="#fff" stroke-width="3.5"/><line x1="852.24" y1="744.83" x2="861.76" y2="741.17" stroke="#fff" stroke-width="3.5"/><line x1="864.24" y1="744.83" x2="873.76" y2="741.17" stroke="#fff" stroke-width="3.5"/><line x1="876.24" y1="744.83" x2="885.76" y2="741.17" stroke="#fff" stroke-width="3.5"/><line x1="888.24" y1="744.83" x2="897.76" y2="741.17" stroke="#fff" stroke-width="3.5"/><line x1="900.24" y1="744.83" x2="909.76" y2="741.17" stroke="#fff" stroke-width="3.5"/><line x1="912.24" y1="744.83" x2="921.76" y2="741.17" stroke="#fff" stroke-width="3.5"/><line x1="924.24" y1="744.83" x2="933.76" y2="741.17" stroke="#fff" stroke-width="3.5"/><line x1="720.24" y1="758.58" x2="729.76" y2="754.92" stroke="#fff" stroke-width="3.5"/><line x1="732.24" y1="758.58" x2="741.76" y2="754.92" stroke="#fff" stroke-width="3.5"/><line x1="744.24" y1="758.58" x2="753.76" y2="754.92" stroke="#fff" stroke-width="3.5"/><line x1="756.24" y1="758.58" x2="765.76" y2="754.92" stroke="#fff" stroke-width="3.5"/><line x1="768.24" y1="758.58" x2="777.76" y2="754.92" stroke="#fff" stroke-width="3.5"/><line x1="780.24" y1="758.58" x2="789.76" y2="754.92" stroke="#fff" stroke-width="3.5"/><line x1="792.24" y1="758.58" x2="801.76" y2="754.92" stroke="#fff" stroke-width="3.5"/><line x1="804.24" y1="758.58" x2="813.76" y2="754.92" stroke="#fff" stroke-width="3.5"/><line x1="816.24" y1="758.58" x2="825.76" y2="754.92" stroke="#fff" stroke-width="3.5"/><line x1="828.24" y1="758.58" x2="837.76" y2="754.92" stroke="#fff" stroke-width="3.5"/><line x1="840.24" y1="758.58" x2="849.76" y2="754.92" stroke="#fff" stroke-width="3.5"/><line x1="852.24" y1="758.58" x2="861.76" y2="754.92" stroke="#fff" stroke-width="3.5"/><line x1="864.24" y1="758.58" x2="873.76" y2="754.92" stroke="#fff" stroke-width="3.5"/><line x1="876.24" y1="758.58" x2="885.76" y2="754.92" stroke="#fff" stroke-width="3.5"/><line x1="888.24" y1="758.58" x2="897.76" y2="754.92" stroke="#fff" stroke-width="3.5"/><line x1="900.24" y1="758.58" x2="909.76" y2="754.92" stroke="#fff" stroke-width="3.5"/><line x1="912.24" y1="758.58" x2="921.76" y2="754.92" stroke="#fff" stroke-width="3.5"/><line x1="924.24" y1="758.58" x2="933.76" y2="754.92" stroke="#fff" stroke-width="3.5"/><line x1="720.24" y1="772.33" x2="729.76" y2="768.67" stroke="#fff" stroke-width="3.5"/><line x1="732.24" y1="772.33" x2="741.76" y2="768.67" stroke="#fff" stroke-width="3.5"/><line x1="744.24" y1="772.33" x2="753.76" y2="768.67" stroke="#fff" stroke-width="3.5"/><line x1="756.24" y1="772.33" x2="765.76" y2="768.67" stroke="#fff" stroke-width="3.5"/><line x1="768.24" y1="772.33" x2="777.76" y2="768.67" stroke="#fff" stroke-width="3.5"/><line x1="780.24" y1="772.33" x2="789.76" y2="768.67" stroke="#fff" stroke-width="3.5"/><line x1="792.24" y1="772.33" x2="801.76" y2="768.67" stroke="#fff" stroke-width="3.5"/><line x1="804.24" y1="772.33" x2="813.76" y2="768.67" stroke="#fff" stroke-width="3.5"/><line x1="816.24" y1="772.33" x2="825.76" y2="768.67" stroke="#fff" stroke-width="3.5"/><line x1="828.24" y1="772.33" x2="837.76" y2="768.67" stroke="#fff" stroke-width="3.5"/><line x1="840.24" y1="772.33" x2="849.76" y2="768.67" stroke="#fff" stroke-width="3.5"/><line x1="852.24" y1="772.33" x2="861.76" y2="768.67" stroke="#fff" stroke-width="3.5"/><line x1="864.24" y1="772.33" x2="873.76" y2="768.67" stroke="#fff" stroke-width="3.5"/><line x1="876.24" y1="772.33" x2="885.76" y2="768.67" stroke="#fff" stroke-width="3.5"/><line x1="888.24" y1="772.33" x2="897.76" y2="768.67" stroke="#fff" stroke-width="3.5"/><line x1="900.24" y1="772.33" x2="909.76" y2="768.67" stroke="#fff" stroke-width="3.5"/><line x1="912.24" y1="772.33" x2="921.76" y2="768.67" stroke="#fff" stroke-width="3.5"/><line x1="924.24" y1="772.33" x2="933.76" y2="768.67" stroke="#fff" stroke-width="3.5"/><line x1="720.24" y1="786.08" x2="729.76" y2="782.42" stroke="#fff" stroke-width="3.5"/><line x1="732.24" y1="786.08" x2="741.76" y2="782.42" stroke="#fff" stroke-width="3.5"/><line x1="744.24" y1="786.08" x2="753.76" y2="782.42" stroke="#fff" stroke-width="3.5"/><line x1="756.24" y1="786.08" x2="765.76" y2="782.42" stroke="#fff" stroke-width="3.5"/><line x1="768.24" y1="786.08" x2="777.76" y2="782.42" stroke="#fff" stroke-width="3.5"/><line x1="780.24" y1="786.08" x2="789.76" y2="782.42" stroke="#fff" stroke-width="3.5"/><line x1="792.24" y1="786.08" x2="801.76" y2="782.42" stroke="#fff" stroke-width="3.5"/><line x1="804.24" y1="786.08" x2="813.76" y2="782.42" stroke="#fff" stroke-width="3.5"/><line x1="816.24" y1="786.08" x2="825.76" y2="782.42" stroke="#fff" stroke-width="3.5"/><line x1="828.24" y1="786.08" x2="837.76" y2="782.42" stroke="#fff" stroke-width="3.5"/><line x1="840.24" y1="786.08" x2="849.76" y2="782.42" stroke="#fff" stroke-width="3.5"/><line x1="852.24" y1="786.08" x2="861.76" y2="782.42" stroke="#fff" stroke-width="3.5"/><line x1="864.24" y1="786.08" x2="873.76" y2="782.42" stroke="#fff" stroke-width="3.5"/><line x1="876.24" y1="786.08" x2="885.76" y2="782.42" stroke="#fff" stroke-width="3.5"/><line x1="888.24" y1="786.08" x2="897.76" y2="782.42" stroke="#fff" stroke-width="3.5"/><line x1="900.24" y1="786.08" x2="909.76" y2="782.42" stroke="#fff" stroke-width="3.5"/><line x1="912.24" y1="786.08" x2="921.76" y2="782.42" stroke="#fff" stroke-width="3.5"/><line x1="924.24" y1="786.08" x2="933.76" y2="782.42" stroke="#fff" stroke-width="3.5"/><line x1="720.24" y1="799.43" x2="729.76" y2="795.77" stroke="#fff" stroke-width="3.5"/><line x1="732.24" y1="799.43" x2="741.76" y2="795.77" stroke="#fff" stroke-width="3.5"/><line x1="744.24" y1="799.43" x2="753.76" y2="795.77" stroke="#fff" stroke-width="3.5"/><line x1="756.24" y1="799.43" x2="765.76" y2="795.77" stroke="#fff" stroke-width="3.5"/><line x1="768.24" y1="799.43" x2="777.76" y2="795.77" stroke="#fff" stroke-width="3.5"/><line x1="780.24" y1="799.43" x2="789.76" y2="795.77" stroke="#fff" stroke-width="3.5"/><line x1="792.24" y1="799.43" x2="801.76" y2="795.77" stroke="#fff" stroke-width="3.5"/><line x1="804.24" y1="799.43" x2="813.76" y2="795.77" stroke="#fff" stroke-width="3.5"/><line x1="816.24" y1="799.43" x2="825.76" y2="795.77" stroke="#fff" stroke-width="3.5"/><line x1="828.24" y1="799.43" x2="837.76" y2="795.77" stroke="#fff" stroke-width="3.5"/><line x1="840.24" y1="799.43" x2="849.76" y2="795.77" stroke="#fff" stroke-width="3.5"/><line x1="852.24" y1="799.43" x2="861.76" y2="795.77" stroke="#fff" stroke-width="3.5"/><line x1="864.24" y1="799.43" x2="873.76" y2="795.77" stroke="#fff" stroke-width="3.5"/><line x1="876.24" y1="799.43" x2="885.76" y2="795.77" stroke="#fff" stroke-width="3.5"/><line x1="888.24" y1="799.43" x2="897.76" y2="795.77" stroke="#fff" stroke-width="3.5"/><line x1="900.24" y1="799.43" x2="909.76" y2="795.77" stroke="#fff" stroke-width="3.5"/><line x1="912.24" y1="799.43" x2="921.76" y2="795.77" stroke="#fff" stroke-width="3.5"/><line x1="924.24" y1="799.43" x2="933.76" y2="795.77" stroke="#fff" stroke-width="3.5"/>
<line x1="718.38" y1="734.17" x2="725.22" y2="725.43" stroke="#000" stroke-width="3.5"/><line x1="729.48" y1="734.17" x2="736.32" y2="725.43" stroke="#000" stroke-width="3.5"/><line x1="740.58" y1="734.17" x2="747.42" y2="725.43" stroke="#000" stroke-width="3.5"/><line x1="751.68" y1="734.17" x2="758.52" y2="725.43" stroke="#000" stroke-width="3.5"/><line x1="762.78" y1="734.17" x2="769.62" y2="725.43" stroke="#000" stroke-width="3.5"/><line x1="773.88" y1="734.17" x2="780.72" y2="725.43" stroke="#000" stroke-width="3.5"/><line x1="784.98" y1="734.17" x2="791.82" y2="725.43" stroke="#000" stroke-width="3.5"/><line x1="796.08" y1="734.17" x2="802.92" y2="725.43" stroke="#000" stroke-width="3.5"/><line x1="807.18" y1="734.17" x2="814.02" y2="725.43" stroke="#000" stroke-width="3.5"/><line x1="818.28" y1="734.17" x2="825.12" y2="725.43" stroke="#000" stroke-width="3.5"/><line x1="829.38" y1="734.17" x2="836.22" y2="725.43" stroke="#000" stroke-width="3.5"/><line x1="840.48" y1="734.17" x2="847.32" y2="725.43" stroke="#000" stroke-width="3.5"/><line x1="851.58" y1="734.17" x2="858.42" y2="725.43" stroke="#000" stroke-width="3.5"/><line x1="862.68" y1="734.17" x2="869.52" y2="725.43" stroke="#000" stroke-width="3.5"/><line x1="873.78" y1="734.17" x2="880.62" y2="725.43" stroke="#000" stroke-width="3.5"/><line x1="884.88" y1="734.17" x2="891.72" y2="725.43" stroke="#000" stroke-width="3.5"/><line x1="895.98" y1="734.17" x2="902.82" y2="725.43" stroke="#000" stroke-width="3.5"/><line x1="907.08" y1="734.17" x2="913.92" y2="725.43" stroke="#000" stroke-width="3.5"/><line x1="918.18" y1="734.17" x2="925.02" y2="725.43" stroke="#000" stroke-width="3.5"/><line x1="929.28" y1="734.17" x2="936.12" y2="725.43" stroke="#000" stroke-width="3.5"/>
</g>
<path d="M884,715.2 L858,720.5 Q839.5,724 839.5,739 L839.5,750" fill="none" stroke="#fff" stroke-width="15" stroke-linecap="butt"/><path d="M884,715.2 L858,720.5 Q839.5,724 839.5,739 L839.5,750" fill="none" stroke="url(#rb4)" stroke-width="8.8" stroke-linecap="butt"/>
<polygon points="878.6,715.5 888.8,702.0 921.3,693.8 918.6,706.7" fill="#ffa726"/><line x1="886.2" y1="710.9" x2="890.6" y2="704.4" stroke="#ffff00" stroke-width="3.0"/><line x1="893.2" y1="709.3" x2="897.0" y2="702.9" stroke="#ffff00" stroke-width="3.0"/><line x1="900.3" y1="707.7" x2="903.4" y2="701.3" stroke="#ffff00" stroke-width="3.0"/><line x1="907.3" y1="706.1" x2="909.8" y2="699.8" stroke="#ffff00" stroke-width="3.0"/><line x1="914.4" y1="704.5" x2="916.1" y2="698.2" stroke="#ffff00" stroke-width="3.0"/><polygon points="878.6,715.5 894.8,724.3 928.1,715.5 918.6,706.7" fill="#4f8a2c"/><line x1="887.8" y1="716.6" x2="895.1" y2="720.9" stroke="#00b050" stroke-width="3.0"/><line x1="894.9" y1="715.0" x2="901.6" y2="719.2" stroke="#00b050" stroke-width="3.0"/><line x1="901.9" y1="713.4" x2="908.1" y2="717.6" stroke="#00b050" stroke-width="3.0"/><line x1="909.0" y1="711.8" x2="914.6" y2="716.0" stroke="#00b050" stroke-width="3.0"/><line x1="916.1" y1="710.1" x2="921.1" y2="714.4" stroke="#00b050" stroke-width="3.0"/>
<polygon points="852.2,786.6 836.6,777.8 827.2,742.6 842.8,748.7" fill="#4f8a2c"/><line x1="846.9" y1="779.5" x2="839.4" y2="775.4" stroke="#00b050" stroke-width="3.0"/><line x1="845.2" y1="772.6" x2="837.7" y2="768.8" stroke="#00b050" stroke-width="3.0"/><line x1="843.4" y1="765.7" x2="836.0" y2="762.1" stroke="#00b050" stroke-width="3.0"/><line x1="841.7" y1="758.8" x2="834.2" y2="755.5" stroke="#00b050" stroke-width="3.0"/><line x1="840.0" y1="751.9" x2="832.5" y2="748.8" stroke="#00b050" stroke-width="3.0"/><polygon points="852.2,786.6 859.0,768.3 850.5,737.2 842.8,748.7" fill="#ffa726"/><line x1="852.8" y1="777.2" x2="856.1" y2="768.8" stroke="#ffff00" stroke-width="3.0"/><line x1="851.1" y1="770.5" x2="854.5" y2="762.7" stroke="#ffff00" stroke-width="3.0"/><line x1="849.4" y1="763.8" x2="852.9" y2="756.6" stroke="#ffff00" stroke-width="3.0"/><line x1="847.7" y1="757.1" x2="851.2" y2="750.5" stroke="#ffff00" stroke-width="3.0"/><line x1="846.0" y1="750.4" x2="849.6" y2="744.5" stroke="#ffff00" stroke-width="3.0"/>
<line x1="839.8" y1="670.2" x2="839.8" y2="725" stroke="#2a94f4" stroke-width="3.2" stroke-dasharray="11.5 10.2"/>
<line x1="844" y1="725" x2="918.6" y2="707.4" stroke="#2a94f4" stroke-width="3.2" stroke-dasharray="11.8 9.6"/>
<path d="M840,701.5 Q852,703 853.5,715" fill="none" stroke="#2a94f4" stroke-width="2.6"/>
<path d="M855,721.5 L847.5,709.8 L853.3,713 L860.3,707.5 Z" fill="#2a94f4"/>
<rect x="850" y="672.2" width="61.799999999999955" height="23.699999999999932" fill="#fff"/><text x="857.5" y="691.8" font-size="20" fill="#000" font-family="Liberation Serif, serif" text-anchor="start" >−<tspan dx="7.3">76</tspan><tspan font-size="13.5" dy="-6.5">o</tspan></text>
<rect x="42" y="824" width="898" height="34.5" fill="url(#hEx)"/>
<rect x="42" y="824" width="898" height="34.5" fill="url(#hEy)"/>
<rect x="42" y="824" width="898" height="34.5" fill="url(#hEm)"/>
<text x="276" y="845.7" font-size="22" font-weight="bold" fill="#000" font-family="Liberation Serif, serif"><tspan font-style="italic">β</tspan><tspan font-size="15" dy="5" dx="7.5">2</tspan><tspan dy="-5"> = </tspan><tspan dx="2.5">0</tspan><tspan font-size="13.5" dy="-7" dx="0.5">o</tspan></text>
<text x="415.5" y="847.5" font-size="23.7" fill="#454545" font-family="Liberation Serif, serif" text-anchor="start" >Programmable refractive angle</text>
<line x1="17" y1="1038.8" x2="17" y2="1017.8" stroke="#000" stroke-width="2"/><path d="M17,999.8 L12.4,1022.3 L21.6,1022.3 Z" fill="#000"/><line x1="12.5" y1="1033.8" x2="33" y2="1033.8" stroke="#000" stroke-width="2"/><path d="M52,1033.8 L28.5,1029.2 L28.5,1038.3999999999999 Z" fill="#000"/><text x="23" y="1007.8" font-size="24" font-style="italic" font-family="Liberation Serif, serif">y</text><text x="55" y="1043.3" font-size="24" font-style="italic" font-family="Liberation Serif, serif">x</text>
<g clip-path="url(#cE1)">
<rect x="41.3" y="869" width="217.39999999999998" height="159.70000000000005" fill="url(#mE1)"/>
<ellipse cx="176" cy="905" rx="2.5" ry="32" fill="#e0508a" opacity="0.7" transform="rotate(3 176 905)" filter="url(#b2)"/><ellipse cx="186" cy="905" rx="3" ry="34" fill="#8a4aa0" opacity="0.55" transform="rotate(3 186 905)" filter="url(#b2)"/><ellipse cx="194" cy="880" rx="3" ry="12" fill="#b03090" opacity="0.6" transform="rotate(0 194 880)" filter="url(#b2)"/>
<ellipse cx="122" cy="925" rx="3" ry="14" fill="#a0308a" opacity="0.5" transform="rotate(8 122 925)" filter="url(#b3)"/><ellipse cx="86" cy="915" rx="2.5" ry="12" fill="#e04a8a" opacity="0.4" transform="rotate(10 86 915)" filter="url(#b3)"/><ellipse cx="222" cy="905" rx="2.5" ry="12" fill="#e04a8a" opacity="0.4" transform="rotate(10 222 905)" filter="url(#b3)"/>
<ellipse cx="152" cy="970" rx="3" ry="9" fill="#e08a40" opacity="0.75" transform="rotate(38 152 970)" filter="url(#b2)"/><ellipse cx="118" cy="1001" rx="3.5" ry="12" fill="#d87a40" opacity="0.8" transform="rotate(52 118 1001)" filter="url(#b2)"/><ellipse cx="238" cy="1022" rx="3" ry="9" fill="#e09040" opacity="0.6" transform="rotate(60 238 1022)" filter="url(#b2)"/><ellipse cx="100" cy="1012" rx="2.5" ry="7" fill="#e8a040" opacity="0.5" transform="rotate(50 100 1012)" filter="url(#b2)"/>
<ellipse cx="150" cy="1000" rx="60" ry="22" fill="#fbf04a" opacity="0.5" transform="rotate(0 150 1000)" filter="url(#b8)"/>
</g>
<line x1="198.80" y1="871.20" x2="198.80" y2="926.50" stroke="#1e1e1e" stroke-width="2" stroke-dasharray="6 3.6"/><path d="M198.80,947.50 L194.00,924.50 L198.80,924.50 L203.60,924.50 Z" fill="#1e1e1e"/>
<line x1="194.60" y1="959.80" x2="132.85" y2="1011.08" stroke="#1e1e1e" stroke-width="2" stroke-dasharray="6 3.6"/><path d="M116.70,1024.50 L131.33,1006.11 L134.39,1009.80 L137.46,1013.50 Z" fill="#1e1e1e"/>
<text x="53.4" y="896.5" font-size="22" fill="#fff" font-family="Liberation Serif, serif" ><tspan font-style="italic">β</tspan><tspan font-size="15.4" dy="4.8" dx="4">1</tspan><tspan dy="-4.8"> = 130<tspan font-size="15" dy="-5">o</tspan></tspan></text>
<polyline points="58.5,995 58.5,1020.3 83,1020.3" fill="none" stroke="#fff" stroke-width="3.6" stroke-linejoin="miter"/><line x1="58.5" y1="1020.3" x2="81" y2="999.2" stroke="#0aa24b" stroke-width="3.2"/>
<g clip-path="url(#cE2)">
<rect x="267.4" y="869.6" width="217.8" height="160.19999999999993" fill="url(#mE2)"/>
<ellipse cx="380" cy="890" rx="2.5" ry="18" fill="#e0608a" opacity="0.6" transform="rotate(4 380 890)" filter="url(#b2)"/><ellipse cx="390" cy="893" rx="3" ry="20" fill="#7a6aa8" opacity="0.6" transform="rotate(4 390 893)" filter="url(#b2)"/><ellipse cx="388" cy="935" rx="2.5" ry="12" fill="#6a6aa8" opacity="0.5" transform="rotate(4 388 935)" filter="url(#b2)"/><ellipse cx="377" cy="938" rx="2" ry="10" fill="#e0508a" opacity="0.5" transform="rotate(4 377 938)" filter="url(#b2)"/>
<ellipse cx="330" cy="940" rx="3" ry="12" fill="#a0308a" opacity="0.4" transform="rotate(8 330 940)" filter="url(#b3)"/><ellipse cx="480" cy="930" rx="3" ry="14" fill="#e0508a" opacity="0.5" transform="rotate(12 480 930)" filter="url(#b3)"/><ellipse cx="300" cy="885" rx="3" ry="10" fill="#b040a0" opacity="0.4" transform="rotate(5 300 885)" filter="url(#b3)"/>
<ellipse cx="378" cy="978" rx="3" ry="9" fill="#e8804a" opacity="0.7" transform="rotate(30 378 978)" filter="url(#b2)"/><ellipse cx="328" cy="1008" rx="3" ry="10" fill="#e8884a" opacity="0.5" transform="rotate(30 328 1008)" filter="url(#b2)"/><ellipse cx="362" cy="1018" rx="3.5" ry="9" fill="#e8704a" opacity="0.7" transform="rotate(40 362 1018)" filter="url(#b2)"/>
<ellipse cx="340" cy="985" rx="55" ry="25" fill="#fbea48" opacity="0.55" transform="rotate(0 340 985)" filter="url(#b8)"/>
</g>
<line x1="404.40" y1="873.00" x2="404.40" y2="928.00" stroke="#1e1e1e" stroke-width="2" stroke-dasharray="6 3.6"/><path d="M404.40,949.00 L399.60,926.00 L404.40,926.00 L409.20,926.00 Z" fill="#1e1e1e"/>
<line x1="403.60" y1="957.60" x2="380.74" y2="1006.85" stroke="#1e1e1e" stroke-width="2" stroke-dasharray="6 3.6"/><path d="M371.90,1025.90 L377.23,1003.02 L381.58,1005.04 L385.94,1007.06 Z" fill="#1e1e1e"/>
<text x="281.8" y="896" font-size="22" fill="#fff" font-family="Liberation Serif, serif" ><tspan font-style="italic">β</tspan><tspan font-size="15.4" dy="4.8" dx="4">1</tspan><tspan dy="-4.8"> = 155<tspan font-size="15" dy="-5">o</tspan></tspan></text>
<polyline points="283.9,996.7 283.9,1021.5 308.6,1021.5" fill="none" stroke="#fff" stroke-width="3.6" stroke-linejoin="miter"/><line x1="283.9" y1="1021.5" x2="306.8" y2="1000.6" stroke="#0aa24b" stroke-width="3.2"/>
<g clip-path="url(#cE3)">
<rect x="493.5" y="870.4" width="217.75" height="159.60000000000002" fill="url(#mE3)"/>
<ellipse cx="598" cy="895" rx="2.5" ry="26" fill="#e8607a" opacity="0.8" transform="rotate(2 598 895)" filter="url(#b2)"/><ellipse cx="599" cy="930" rx="2.5" ry="16" fill="#f0707a" opacity="0.8" transform="rotate(2 599 930)" filter="url(#b2)"/><ellipse cx="610" cy="905" rx="3" ry="36" fill="#8a5a98" opacity="0.5" transform="rotate(2 610 905)" filter="url(#b2)"/>
<ellipse cx="612" cy="985" rx="2.5" ry="22" fill="#b0707a" opacity="0.6" transform="rotate(-25 612 985)" filter="url(#b2)"/><ellipse cx="632" cy="1022" rx="2.5" ry="12" fill="#c0607a" opacity="0.7" transform="rotate(-30 632 1022)" filter="url(#b2)"/><ellipse cx="620" cy="990" rx="10" ry="40" fill="#9ac888" opacity="0.5" transform="rotate(-20 620 990)" filter="url(#b5)"/>
</g>
<line x1="585.00" y1="873.00" x2="585.00" y2="928.00" stroke="#1e1e1e" stroke-width="2" stroke-dasharray="6 3.6"/><path d="M585.00,949.00 L580.20,926.00 L585.00,926.00 L589.80,926.00 Z" fill="#1e1e1e"/>
<line x1="585.50" y1="959.00" x2="608.83" y2="1007.11" stroke="#1e1e1e" stroke-width="2" stroke-dasharray="6 3.6"/><path d="M618.00,1026.00 L603.64,1007.40 L607.96,1005.31 L612.28,1003.21 Z" fill="#1e1e1e"/>
<text x="627" y="896" font-size="22" fill="#fff" font-family="Liberation Serif, serif" ><tspan font-style="italic">β</tspan><tspan font-size="15.4" dy="4.8" dx="4">1</tspan><tspan dy="-4.8"> = 25<tspan font-size="15" dy="-5">o</tspan></tspan></text>
<polyline points="512.5,997.5 512.5,1022 537.3,1022" fill="none" stroke="#fff" stroke-width="3.6" stroke-linejoin="miter"/><line x1="512.5" y1="1022" x2="534.7" y2="1000.6" stroke="#0aa24b" stroke-width="3.2"/>
<text x="651.5" y="1007" font-size="21" fill="#fff" font-family="Liberation Serif, serif" text-anchor="start" >30 μm</text>
<rect x="656.6" y="1018.3" width="47.5" height="3.7" fill="#fff"/>
<g clip-path="url(#cE4)">
<rect x="718.3" y="870" width="217.5" height="160" fill="url(#mE4)"/>
<ellipse cx="804" cy="900" rx="4" ry="34" fill="#f0709a" opacity="0.8" transform="rotate(-8 804 900)" filter="url(#b2)"/><ellipse cx="812" cy="925" rx="3" ry="22" fill="#d890b0" opacity="0.7" transform="rotate(-6 812 925)" filter="url(#b2)"/><ellipse cx="820" cy="905" rx="3" ry="30" fill="#b05a98" opacity="0.5" transform="rotate(-4 820 905)" filter="url(#b3)"/>
<ellipse cx="838" cy="963.5" rx="11" ry="3.5" fill="#f0507a" opacity="0.9" transform="rotate(8 838 963.5)" filter="url(#b2)"/><ellipse cx="887" cy="989" rx="12" ry="4" fill="#f0507a" opacity="0.9" transform="rotate(8 887 989)" filter="url(#b2)"/>
<ellipse cx="842" cy="975" rx="14" ry="4" fill="#c8b080" opacity="0.7" transform="rotate(15 842 975)" filter="url(#b2)"/><ellipse cx="895" cy="1002" rx="14" ry="4.5" fill="#c8b080" opacity="0.7" transform="rotate(15 895 1002)" filter="url(#b2)"/><ellipse cx="815" cy="960" rx="6" ry="12" fill="#d0a0b0" opacity="0.6" transform="rotate(-30 815 960)" filter="url(#b3)"/>
</g>
<line x1="778.20" y1="870.50" x2="778.20" y2="925.50" stroke="#1e1e1e" stroke-width="2" stroke-dasharray="6 3.6"/><path d="M778.20,946.50 L773.40,923.50 L778.20,923.50 L783.00,923.50 Z" fill="#1e1e1e"/>
<line x1="782.40" y1="957.70" x2="890.47" y2="1012.50" stroke="#1e1e1e" stroke-width="2" stroke-dasharray="6 3.6"/><path d="M909.20,1022.00 L886.52,1015.88 L888.69,1011.60 L890.86,1007.32 Z" fill="#1e1e1e"/>
<text x="850.6" y="895.2" font-size="22" fill="#fff" font-family="Liberation Serif, serif" ><tspan font-style="italic">β</tspan><tspan font-size="15.4" dy="4.8" dx="4">1</tspan><tspan dy="-4.8"> = 60<tspan font-size="15" dy="-5">o</tspan></tspan></text>
<polyline points="733.4,996 733.4,1021 758.2,1021" fill="none" stroke="#fff" stroke-width="3.6" stroke-linejoin="miter"/><line x1="733.4" y1="1021" x2="756.4" y2="1000.6" stroke="#0aa24b" stroke-width="3.2"/>
<g clip-path="url(#cE1s)"><rect x="41.25" y="1045" width="217.64999999999998" height="76.20000000000005" fill="#a92a4e"/><rect x="41.25" y="1121.2" width="217.64999999999998" height="79.0" fill="#fbec48"/><line x1="43.25" y1="1055.10" x2="53.35" y2="1055.10" stroke="#fff" stroke-width="4"/><line x1="55.18" y1="1055.10" x2="65.28" y2="1055.10" stroke="#fff" stroke-width="4"/><line x1="67.11" y1="1055.10" x2="77.21" y2="1055.10" stroke="#fff" stroke-width="4"/><line x1="79.04" y1="1055.10" x2="89.14" y2="1055.10" stroke="#fff" stroke-width="4"/><line x1="90.97" y1="1055.10" x2="101.07" y2="1055.10" stroke="#fff" stroke-width="4"/><line x1="102.90" y1="1055.10" x2="113.00" y2="1055.10" stroke="#fff" stroke-width="4"/><line x1="114.83" y1="1055.10" x2="124.93" y2="1055.10" stroke="#fff" stroke-width="4"/><line x1="126.76" y1="1055.10" x2="136.86" y2="1055.10" stroke="#fff" stroke-width="4"/><line x1="138.69" y1="1055.10" x2="148.79" y2="1055.10" stroke="#fff" stroke-width="4"/><line x1="150.62" y1="1055.10" x2="160.72" y2="1055.10" stroke="#fff" stroke-width="4"/><line x1="162.55" y1="1055.10" x2="172.65" y2="1055.10" stroke="#fff" stroke-width="4"/><line x1="174.48" y1="1055.10" x2="184.58" y2="1055.10" stroke="#fff" stroke-width="4"/><line x1="186.41" y1="1055.10" x2="196.51" y2="1055.10" stroke="#fff" stroke-width="4"/><line x1="198.34" y1="1055.10" x2="208.44" y2="1055.10" stroke="#fff" stroke-width="4"/><line x1="210.27" y1="1055.10" x2="220.37" y2="1055.10" stroke="#fff" stroke-width="4"/><line x1="222.20" y1="1055.10" x2="232.30" y2="1055.10" stroke="#fff" stroke-width="4"/><line x1="234.13" y1="1055.10" x2="244.23" y2="1055.10" stroke="#fff" stroke-width="4"/><line x1="246.06" y1="1055.10" x2="256.16" y2="1055.10" stroke="#fff" stroke-width="4"/><line x1="43.25" y1="1068.90" x2="53.35" y2="1068.90" stroke="#fff" stroke-width="4"/><line x1="55.18" y1="1068.90" x2="65.28" y2="1068.90" stroke="#fff" stroke-width="4"/><line x1="67.11" y1="1068.90" x2="77.21" y2="1068.90" stroke="#fff" stroke-width="4"/><line x1="79.04" y1="1068.90" x2="89.14" y2="1068.90" stroke="#fff" stroke-width="4"/><line x1="90.97" y1="1068.90" x2="101.07" y2="1068.90" stroke="#fff" stroke-width="4"/><line x1="102.90" y1="1068.90" x2="113.00" y2="1068.90" stroke="#fff" stroke-width="4"/><line x1="114.83" y1="1068.90" x2="124.93" y2="1068.90" stroke="#fff" stroke-width="4"/><line x1="126.76" y1="1068.90" x2="136.86" y2="1068.90" stroke="#fff" stroke-width="4"/><line x1="138.69" y1="1068.90" x2="148.79" y2="1068.90" stroke="#fff" stroke-width="4"/><line x1="150.62" y1="1068.90" x2="160.72" y2="1068.90" stroke="#fff" stroke-width="4"/><line x1="162.55" y1="1068.90" x2="172.65" y2="1068.90" stroke="#fff" stroke-width="4"/><line x1="174.48" y1="1068.90" x2="184.58" y2="1068.90" stroke="#fff" stroke-width="4"/><line x1="186.41" y1="1068.90" x2="196.51" y2="1068.90" stroke="#fff" stroke-width="4"/><line x1="198.34" y1="1068.90" x2="208.44" y2="1068.90" stroke="#fff" stroke-width="4"/><line x1="210.27" y1="1068.90" x2="220.37" y2="1068.90" stroke="#fff" stroke-width="4"/><line x1="222.20" y1="1068.90" x2="232.30" y2="1068.90" stroke="#fff" stroke-width="4"/><line x1="234.13" y1="1068.90" x2="244.23" y2="1068.90" stroke="#fff" stroke-width="4"/><line x1="246.06" y1="1068.90" x2="256.16" y2="1068.90" stroke="#fff" stroke-width="4"/><line x1="43.25" y1="1082.40" x2="53.35" y2="1082.40" stroke="#fff" stroke-width="4"/><line x1="55.18" y1="1082.40" x2="65.28" y2="1082.40" stroke="#fff" stroke-width="4"/><line x1="67.11" y1="1082.40" x2="77.21" y2="1082.40" stroke="#fff" stroke-width="4"/><line x1="79.04" y1="1082.40" x2="89.14" y2="1082.40" stroke="#fff" stroke-width="4"/><line x1="90.97" y1="1082.40" x2="101.07" y2="1082.40" stroke="#fff" stroke-width="4"/><line x1="102.90" y1="1082.40" x2="113.00" y2="1082.40" stroke="#fff" stroke-width="4"/><line x1="114.83" y1="1082.40" x2="124.93" y2="1082.40" stroke="#fff" stroke-width="4"/><line x1="126.76" y1="1082.40" x2="136.86" y2="1082.40" stroke="#fff" stroke-width="4"/><line x1="138.69" y1="1082.40" x2="148.79" y2="1082.40" stroke="#fff" stroke-width="4"/><line x1="150.62" y1="1082.40" x2="160.72" y2="1082.40" stroke="#fff" stroke-width="4"/><line x1="162.55" y1="1082.40" x2="172.65" y2="1082.40" stroke="#fff" stroke-width="4"/><line x1="174.48" y1="1082.40" x2="184.58" y2="1082.40" stroke="#fff" stroke-width="4"/><line x1="186.41" y1="1082.40" x2="196.51" y2="1082.40" stroke="#fff" stroke-width="4"/><line x1="198.34" y1="1082.40" x2="208.44" y2="1082.40" stroke="#fff" stroke-width="4"/><line x1="210.27" y1="1082.40" x2="220.37" y2="1082.40" stroke="#fff" stroke-width="4"/><line x1="222.20" y1="1082.40" x2="232.30" y2="1082.40" stroke="#fff" stroke-width="4"/><line x1="234.13" y1="1082.40" x2="244.23" y2="1082.40" stroke="#fff" stroke-width="4"/><line x1="246.06" y1="1082.40" x2="256.16" y2="1082.40" stroke="#fff" stroke-width="4"/><line x1="43.25" y1="1095.90" x2="53.35" y2="1095.90" stroke="#fff" stroke-width="4"/><line x1="55.18" y1="1095.90" x2="65.28" y2="1095.90" stroke="#fff" stroke-width="4"/><line x1="67.11" y1="1095.90" x2="77.21" y2="1095.90" stroke="#fff" stroke-width="4"/><line x1="79.04" y1="1095.90" x2="89.14" y2="1095.90" stroke="#fff" stroke-width="4"/><line x1="90.97" y1="1095.90" x2="101.07" y2="1095.90" stroke="#fff" stroke-width="4"/><line x1="102.90" y1="1095.90" x2="113.00" y2="1095.90" stroke="#fff" stroke-width="4"/><line x1="114.83" y1="1095.90" x2="124.93" y2="1095.90" stroke="#fff" stroke-width="4"/><line x1="126.76" y1="1095.90" x2="136.86" y2="1095.90" stroke="#fff" stroke-width="4"/><line x1="138.69" y1="1095.90" x2="148.79" y2="1095.90" stroke="#fff" stroke-width="4"/><line x1="150.62" y1="1095.90" x2="160.72" y2="1095.90" stroke="#fff" stroke-width="4"/><line x1="162.55" y1="1095.90" x2="172.65" y2="1095.90" stroke="#fff" stroke-width="4"/><line x1="174.48" y1="1095.90" x2="184.58" y2="1095.90" stroke="#fff" stroke-width="4"/><line x1="186.41" y1="1095.90" x2="196.51" y2="1095.90" stroke="#fff" stroke-width="4"/><line x1="198.34" y1="1095.90" x2="208.44" y2="1095.90" stroke="#fff" stroke-width="4"/><line x1="210.27" y1="1095.90" x2="220.37" y2="1095.90" stroke="#fff" stroke-width="4"/><line x1="222.20" y1="1095.90" x2="232.30" y2="1095.90" stroke="#fff" stroke-width="4"/><line x1="234.13" y1="1095.90" x2="244.23" y2="1095.90" stroke="#fff" stroke-width="4"/><line x1="246.06" y1="1095.90" x2="256.16" y2="1095.90" stroke="#fff" stroke-width="4"/><line x1="43.25" y1="1109.40" x2="53.35" y2="1109.40" stroke="#fff" stroke-width="4"/><line x1="55.18" y1="1109.40" x2="65.28" y2="1109.40" stroke="#fff" stroke-width="4"/><line x1="67.11" y1="1109.40" x2="77.21" y2="1109.40" stroke="#fff" stroke-width="4"/><line x1="79.04" y1="1109.40" x2="89.14" y2="1109.40" stroke="#fff" stroke-width="4"/><line x1="90.97" y1="1109.40" x2="101.07" y2="1109.40" stroke="#fff" stroke-width="4"/><line x1="102.90" y1="1109.40" x2="113.00" y2="1109.40" stroke="#fff" stroke-width="4"/><line x1="114.83" y1="1109.40" x2="124.93" y2="1109.40" stroke="#fff" stroke-width="4"/><line x1="126.76" y1="1109.40" x2="136.86" y2="1109.40" stroke="#fff" stroke-width="4"/><line x1="138.69" y1="1109.40" x2="148.79" y2="1109.40" stroke="#fff" stroke-width="4"/><line x1="150.62" y1="1109.40" x2="160.72" y2="1109.40" stroke="#fff" stroke-width="4"/><line x1="162.55" y1="1109.40" x2="172.65" y2="1109.40" stroke="#fff" stroke-width="4"/><line x1="174.48" y1="1109.40" x2="184.58" y2="1109.40" stroke="#fff" stroke-width="4"/><line x1="186.41" y1="1109.40" x2="196.51" y2="1109.40" stroke="#fff" stroke-width="4"/><line x1="198.34" y1="1109.40" x2="208.44" y2="1109.40" stroke="#fff" stroke-width="4"/><line x1="210.27" y1="1109.40" x2="220.37" y2="1109.40" stroke="#fff" stroke-width="4"/><line x1="222.20" y1="1109.40" x2="232.30" y2="1109.40" stroke="#fff" stroke-width="4"/><line x1="234.13" y1="1109.40" x2="244.23" y2="1109.40" stroke="#fff" stroke-width="4"/><line x1="246.06" y1="1109.40" x2="256.16" y2="1109.40" stroke="#fff" stroke-width="4"/><line x1="44.09" y1="1132.80" x2="51.11" y2="1140.60" stroke="#7f7f7f" stroke-width="3.9"/><line x1="56.09" y1="1132.80" x2="63.11" y2="1140.60" stroke="#7f7f7f" stroke-width="3.9"/><line x1="68.09" y1="1132.80" x2="75.11" y2="1140.60" stroke="#7f7f7f" stroke-width="3.9"/><line x1="80.09" y1="1132.80" x2="87.11" y2="1140.60" stroke="#7f7f7f" stroke-width="3.9"/><line x1="92.09" y1="1132.80" x2="99.11" y2="1140.60" stroke="#7f7f7f" stroke-width="3.9"/><line x1="104.09" y1="1132.80" x2="111.11" y2="1140.60" stroke="#7f7f7f" stroke-width="3.9"/><line x1="116.09" y1="1132.80" x2="123.11" y2="1140.60" stroke="#7f7f7f" stroke-width="3.9"/><line x1="128.09" y1="1132.80" x2="135.11" y2="1140.60" stroke="#7f7f7f" stroke-width="3.9"/><line x1="140.09" y1="1132.80" x2="147.11" y2="1140.60" stroke="#7f7f7f" stroke-width="3.9"/><line x1="152.09" y1="1132.80" x2="159.11" y2="1140.60" stroke="#7f7f7f" stroke-width="3.9"/><line x1="164.09" y1="1132.80" x2="171.11" y2="1140.60" stroke="#7f7f7f" stroke-width="3.9"/><line x1="176.09" y1="1132.80" x2="183.11" y2="1140.60" stroke="#7f7f7f" stroke-width="3.9"/><line x1="188.09" y1="1132.80" x2="195.11" y2="1140.60" stroke="#7f7f7f" stroke-width="3.9"/><line x1="200.09" y1="1132.80" x2="207.11" y2="1140.60" stroke="#7f7f7f" stroke-width="3.9"/><line x1="212.09" y1="1132.80" x2="219.11" y2="1140.60" stroke="#7f7f7f" stroke-width="3.9"/><line x1="224.09" y1="1132.80" x2="231.11" y2="1140.60" stroke="#7f7f7f" stroke-width="3.9"/><line x1="236.09" y1="1132.80" x2="243.11" y2="1140.60" stroke="#7f7f7f" stroke-width="3.9"/><line x1="248.09" y1="1132.80" x2="255.11" y2="1140.60" stroke="#7f7f7f" stroke-width="3.9"/><line x1="44.09" y1="1146.40" x2="51.11" y2="1154.20" stroke="#7f7f7f" stroke-width="3.9"/><line x1="56.09" y1="1146.40" x2="63.11" y2="1154.20" stroke="#7f7f7f" stroke-width="3.9"/><line x1="68.09" y1="1146.40" x2="75.11" y2="1154.20" stroke="#7f7f7f" stroke-width="3.9"/><line x1="80.09" y1="1146.40" x2="87.11" y2="1154.20" stroke="#7f7f7f" stroke-width="3.9"/><line x1="92.09" y1="1146.40" x2="99.11" y2="1154.20" stroke="#7f7f7f" stroke-width="3.9"/><line x1="104.09" y1="1146.40" x2="111.11" y2="1154.20" stroke="#7f7f7f" stroke-width="3.9"/><line x1="116.09" y1="1146.40" x2="123.11" y2="1154.20" stroke="#7f7f7f" stroke-width="3.9"/><line x1="128.09" y1="1146.40" x2="135.11" y2="1154.20" stroke="#7f7f7f" stroke-width="3.9"/><line x1="140.09" y1="1146.40" x2="147.11" y2="1154.20" stroke="#7f7f7f" stroke-width="3.9"/><line x1="152.09" y1="1146.40" x2="159.11" y2="1154.20" stroke="#7f7f7f" stroke-width="3.9"/><line x1="164.09" y1="1146.40" x2="171.11" y2="1154.20" stroke="#7f7f7f" stroke-width="3.9"/><line x1="176.09" y1="1146.40" x2="183.11" y2="1154.20" stroke="#7f7f7f" stroke-width="3.9"/><line x1="188.09" y1="1146.40" x2="195.11" y2="1154.20" stroke="#7f7f7f" stroke-width="3.9"/><line x1="200.09" y1="1146.40" x2="207.11" y2="1154.20" stroke="#7f7f7f" stroke-width="3.9"/><line x1="212.09" y1="1146.40" x2="219.11" y2="1154.20" stroke="#7f7f7f" stroke-width="3.9"/><line x1="224.09" y1="1146.40" x2="231.11" y2="1154.20" stroke="#7f7f7f" stroke-width="3.9"/><line x1="236.09" y1="1146.40" x2="243.11" y2="1154.20" stroke="#7f7f7f" stroke-width="3.9"/><line x1="248.09" y1="1146.40" x2="255.11" y2="1154.20" stroke="#7f7f7f" stroke-width="3.9"/><line x1="44.09" y1="1159.90" x2="51.11" y2="1167.70" stroke="#7f7f7f" stroke-width="3.9"/><line x1="56.09" y1="1159.90" x2="63.11" y2="1167.70" stroke="#7f7f7f" stroke-width="3.9"/><line x1="68.09" y1="1159.90" x2="75.11" y2="1167.70" stroke="#7f7f7f" stroke-width="3.9"/><line x1="80.09" y1="1159.90" x2="87.11" y2="1167.70" stroke="#7f7f7f" stroke-width="3.9"/><line x1="92.09" y1="1159.90" x2="99.11" y2="1167.70" stroke="#7f7f7f" stroke-width="3.9"/><line x1="104.09" y1="1159.90" x2="111.11" y2="1167.70" stroke="#7f7f7f" stroke-width="3.9"/><line x1="116.09" y1="1159.90" x2="123.11" y2="1167.70" stroke="#7f7f7f" stroke-width="3.9"/><line x1="128.09" y1="1159.90" x2="135.11" y2="1167.70" stroke="#7f7f7f" stroke-width="3.9"/><line x1="140.09" y1="1159.90" x2="147.11" y2="1167.70" stroke="#7f7f7f" stroke-width="3.9"/><line x1="152.09" y1="1159.90" x2="159.11" y2="1167.70" stroke="#7f7f7f" stroke-width="3.9"/><line x1="164.09" y1="1159.90" x2="171.11" y2="1167.70" stroke="#7f7f7f" stroke-width="3.9"/><line x1="176.09" y1="1159.90" x2="183.11" y2="1167.70" stroke="#7f7f7f" stroke-width="3.9"/><line x1="188.09" y1="1159.90" x2="195.11" y2="1167.70" stroke="#7f7f7f" stroke-width="3.9"/><line x1="200.09" y1="1159.90" x2="207.11" y2="1167.70" stroke="#7f7f7f" stroke-width="3.9"/><line x1="212.09" y1="1159.90" x2="219.11" y2="1167.70" stroke="#7f7f7f" stroke-width="3.9"/><line x1="224.09" y1="1159.90" x2="231.11" y2="1167.70" stroke="#7f7f7f" stroke-width="3.9"/><line x1="236.09" y1="1159.90" x2="243.11" y2="1167.70" stroke="#7f7f7f" stroke-width="3.9"/><line x1="248.09" y1="1159.90" x2="255.11" y2="1167.70" stroke="#7f7f7f" stroke-width="3.9"/><line x1="44.09" y1="1173.60" x2="51.11" y2="1181.40" stroke="#7f7f7f" stroke-width="3.9"/><line x1="56.09" y1="1173.60" x2="63.11" y2="1181.40" stroke="#7f7f7f" stroke-width="3.9"/><line x1="68.09" y1="1173.60" x2="75.11" y2="1181.40" stroke="#7f7f7f" stroke-width="3.9"/><line x1="80.09" y1="1173.60" x2="87.11" y2="1181.40" stroke="#7f7f7f" stroke-width="3.9"/><line x1="92.09" y1="1173.60" x2="99.11" y2="1181.40" stroke="#7f7f7f" stroke-width="3.9"/><line x1="104.09" y1="1173.60" x2="111.11" y2="1181.40" stroke="#7f7f7f" stroke-width="3.9"/><line x1="116.09" y1="1173.60" x2="123.11" y2="1181.40" stroke="#7f7f7f" stroke-width="3.9"/><line x1="128.09" y1="1173.60" x2="135.11" y2="1181.40" stroke="#7f7f7f" stroke-width="3.9"/><line x1="140.09" y1="1173.60" x2="147.11" y2="1181.40" stroke="#7f7f7f" stroke-width="3.9"/><line x1="152.09" y1="1173.60" x2="159.11" y2="1181.40" stroke="#7f7f7f" stroke-width="3.9"/><line x1="164.09" y1="1173.60" x2="171.11" y2="1181.40" stroke="#7f7f7f" stroke-width="3.9"/><line x1="176.09" y1="1173.60" x2="183.11" y2="1181.40" stroke="#7f7f7f" stroke-width="3.9"/><line x1="188.09" y1="1173.60" x2="195.11" y2="1181.40" stroke="#7f7f7f" stroke-width="3.9"/><line x1="200.09" y1="1173.60" x2="207.11" y2="1181.40" stroke="#7f7f7f" stroke-width="3.9"/><line x1="212.09" y1="1173.60" x2="219.11" y2="1181.40" stroke="#7f7f7f" stroke-width="3.9"/><line x1="224.09" y1="1173.60" x2="231.11" y2="1181.40" stroke="#7f7f7f" stroke-width="3.9"/><line x1="236.09" y1="1173.60" x2="243.11" y2="1181.40" stroke="#7f7f7f" stroke-width="3.9"/><line x1="248.09" y1="1173.60" x2="255.11" y2="1181.40" stroke="#7f7f7f" stroke-width="3.9"/><line x1="44.09" y1="1187.40" x2="51.11" y2="1195.20" stroke="#7f7f7f" stroke-width="3.9"/><line x1="56.09" y1="1187.40" x2="63.11" y2="1195.20" stroke="#7f7f7f" stroke-width="3.9"/><line x1="68.09" y1="1187.40" x2="75.11" y2="1195.20" stroke="#7f7f7f" stroke-width="3.9"/><line x1="80.09" y1="1187.40" x2="87.11" y2="1195.20" stroke="#7f7f7f" stroke-width="3.9"/><line x1="92.09" y1="1187.40" x2="99.11" y2="1195.20" stroke="#7f7f7f" stroke-width="3.9"/><line x1="104.09" y1="1187.40" x2="111.11" y2="1195.20" stroke="#7f7f7f" stroke-width="3.9"/><line x1="116.09" y1="1187.40" x2="123.11" y2="1195.20" stroke="#7f7f7f" stroke-width="3.9"/><line x1="128.09" y1="1187.40" x2="135.11" y2="1195.20" stroke="#7f7f7f" stroke-width="3.9"/><line x1="140.09" y1="1187.40" x2="147.11" y2="1195.20" stroke="#7f7f7f" stroke-width="3.9"/><line x1="152.09" y1="1187.40" x2="159.11" y2="1195.20" stroke="#7f7f7f" stroke-width="3.9"/><line x1="164.09" y1="1187.40" x2="171.11" y2="1195.20" stroke="#7f7f7f" stroke-width="3.9"/><line x1="176.09" y1="1187.40" x2="183.11" y2="1195.20" stroke="#7f7f7f" stroke-width="3.9"/><line x1="188.09" y1="1187.40" x2="195.11" y2="1195.20" stroke="#7f7f7f" stroke-width="3.9"/><line x1="200.09" y1="1187.40" x2="207.11" y2="1195.20" stroke="#7f7f7f" stroke-width="3.9"/><line x1="212.09" y1="1187.40" x2="219.11" y2="1195.20" stroke="#7f7f7f" stroke-width="3.9"/><line x1="224.09" y1="1187.40" x2="231.11" y2="1195.20" stroke="#7f7f7f" stroke-width="3.9"/><line x1="236.09" y1="1187.40" x2="243.11" y2="1195.20" stroke="#7f7f7f" stroke-width="3.9"/><line x1="248.09" y1="1187.40" x2="255.11" y2="1195.20" stroke="#7f7f7f" stroke-width="3.9"/><line x1="39.32" y1="1118.71" x2="48.68" y2="1123.69" stroke="#000" stroke-width="4.2"/><line x1="50.22" y1="1118.71" x2="59.58" y2="1123.69" stroke="#000" stroke-width="4.2"/><line x1="61.12" y1="1118.71" x2="70.48" y2="1123.69" stroke="#000" stroke-width="4.2"/><line x1="72.02" y1="1118.71" x2="81.38" y2="1123.69" stroke="#000" stroke-width="4.2"/><line x1="82.92" y1="1118.71" x2="92.28" y2="1123.69" stroke="#000" stroke-width="4.2"/><line x1="93.82" y1="1118.71" x2="103.18" y2="1123.69" stroke="#000" stroke-width="4.2"/><line x1="104.72" y1="1118.71" x2="114.08" y2="1123.69" stroke="#000" stroke-width="4.2"/><line x1="115.62" y1="1118.71" x2="124.98" y2="1123.69" stroke="#000" stroke-width="4.2"/><line x1="126.52" y1="1118.71" x2="135.88" y2="1123.69" stroke="#000" stroke-width="4.2"/><line x1="137.42" y1="1118.71" x2="146.78" y2="1123.69" stroke="#000" stroke-width="4.2"/><line x1="148.32" y1="1118.71" x2="157.68" y2="1123.69" stroke="#000" stroke-width="4.2"/><line x1="159.22" y1="1118.71" x2="168.58" y2="1123.69" stroke="#000" stroke-width="4.2"/><line x1="170.12" y1="1118.71" x2="179.48" y2="1123.69" stroke="#000" stroke-width="4.2"/><line x1="181.02" y1="1118.71" x2="190.38" y2="1123.69" stroke="#000" stroke-width="4.2"/><line x1="191.92" y1="1118.71" x2="201.28" y2="1123.69" stroke="#000" stroke-width="4.2"/><line x1="202.82" y1="1118.71" x2="212.18" y2="1123.69" stroke="#000" stroke-width="4.2"/><line x1="213.72" y1="1118.71" x2="223.08" y2="1123.69" stroke="#000" stroke-width="4.2"/><line x1="224.62" y1="1118.71" x2="233.98" y2="1123.69" stroke="#000" stroke-width="4.2"/><line x1="235.52" y1="1118.71" x2="244.88" y2="1123.69" stroke="#000" stroke-width="4.2"/><line x1="246.42" y1="1118.71" x2="255.78" y2="1123.69" stroke="#000" stroke-width="4.2"/><line x1="257.32" y1="1118.71" x2="266.68" y2="1123.69" stroke="#000" stroke-width="4.2"/></g>
<path d="M163.5,1096 Q161,1124 136.5,1148" fill="none" stroke="#fff" stroke-width="16.5" stroke-linecap="butt"/><path d="M163.5,1096 Q161,1124 136.5,1148" fill="none" stroke="url(#rbE)" stroke-width="13" stroke-linecap="butt"/>
<polygon points="163.5,1101.1 152.6,1085.1 152.6,1053.4 163.5,1063.2" fill="#ffa726"/><line x1="160.7" y1="1092.2" x2="155.4" y2="1084.9" stroke="#ffff00" stroke-width="3.0"/><line x1="160.7" y1="1085.5" x2="155.4" y2="1078.8" stroke="#ffff00" stroke-width="3.0"/><line x1="160.7" y1="1078.8" x2="155.4" y2="1072.6" stroke="#ffff00" stroke-width="3.0"/><line x1="160.7" y1="1072.1" x2="155.4" y2="1066.4" stroke="#ffff00" stroke-width="3.0"/><line x1="160.7" y1="1065.4" x2="155.4" y2="1060.3" stroke="#ffff00" stroke-width="3.0"/><polygon points="163.5,1101.1 176.6,1085.1 176.6,1052.6 163.5,1063.2" fill="#4f8a2c"/><line x1="166.9" y1="1092.2" x2="173.2" y2="1084.9" stroke="#00b050" stroke-width="3.0"/><line x1="166.9" y1="1085.5" x2="173.2" y2="1078.6" stroke="#00b050" stroke-width="3.0"/><line x1="166.9" y1="1078.7" x2="173.2" y2="1072.3" stroke="#00b050" stroke-width="3.0"/><line x1="166.9" y1="1071.9" x2="173.2" y2="1066.0" stroke="#00b050" stroke-width="3.0"/><line x1="166.9" y1="1065.2" x2="173.2" y2="1059.8" stroke="#00b050" stroke-width="3.0"/>
<line x1="165" y1="1102.6" x2="165" y2="1175" stroke="#1478f2" stroke-width="3.5" stroke-dasharray="11.8 10"/>
<line x1="165" y1="1121.5" x2="106.7" y2="1174.8" stroke="#1478f2" stroke-width="3.5" stroke-dasharray="10 9" stroke-dashoffset="4"/>
<polyline points="160.3,1133.5 165.3,1126 168.3,1133.5" fill="none" stroke="#1478f2" stroke-width="3"/>
<path d="M165.5,1150.5 Q153,1157.5 144,1151" fill="none" stroke="#1478f2" stroke-width="2.8"/><path d="M139.3,1146.7 L149.8,1148.2 L145.2,1151.6 L144.7,1157.3 Z" fill="#1478f2"/>
<polygon points="106.7,1174.8 111.1,1154.4 135.8,1132.5 137.3,1145.6" fill="#4f8a2c"/><line x1="111.6" y1="1166.0" x2="113.4" y2="1156.6" stroke="#00b050" stroke-width="3.0"/><line x1="117.0" y1="1160.9" x2="118.2" y2="1152.2" stroke="#00b050" stroke-width="3.0"/><line x1="122.4" y1="1155.8" x2="123.1" y2="1147.8" stroke="#00b050" stroke-width="3.0"/><line x1="127.8" y1="1150.8" x2="127.9" y2="1143.4" stroke="#00b050" stroke-width="3.0"/><line x1="133.1" y1="1145.7" x2="132.8" y2="1139.0" stroke="#00b050" stroke-width="3.0"/><polygon points="106.7,1174.8 124.2,1171.9 145.3,1153.6 137.3,1145.6" fill="#ffa726"/><line x1="114.9" y1="1170.6" x2="122.7" y2="1169.9" stroke="#ffff00" stroke-width="3.0"/><line x1="120.1" y1="1165.7" x2="127.1" y2="1166.0" stroke="#ffff00" stroke-width="3.0"/><line x1="125.3" y1="1160.9" x2="131.4" y2="1162.1" stroke="#ffff00" stroke-width="3.0"/><line x1="130.5" y1="1156.0" x2="135.8" y2="1158.2" stroke="#ffff00" stroke-width="3.0"/><line x1="135.7" y1="1151.1" x2="140.2" y2="1154.3" stroke="#ffff00" stroke-width="3.0"/>
<line x1="137.3" y1="1145.6" x2="106.7" y2="1174.8" stroke="#1478f2" stroke-width="3.5" stroke-dasharray="10 9" stroke-dashoffset="-1"/>
<rect x="188.3" y="1147.1" width="36.5" height="23.300000000000182" fill="#fff"/><text x="194" y="1165.3" font-size="20.5" fill="#000" font-family="Liberation Serif, serif" text-anchor="start" >50<tspan font-size="13.5" dy="-6.5">o</tspan></text>
<g clip-path="url(#cE2s)"><rect x="267" y="1045" width="218" height="76.20000000000005" fill="#a92a4e"/><rect x="267" y="1121.2" width="218" height="79.0" fill="#fbec48"/><line x1="268.05" y1="1055.10" x2="278.15" y2="1055.10" stroke="#fff" stroke-width="4"/><line x1="280.02" y1="1055.10" x2="290.12" y2="1055.10" stroke="#fff" stroke-width="4"/><line x1="291.99" y1="1055.10" x2="302.09" y2="1055.10" stroke="#fff" stroke-width="4"/><line x1="303.96" y1="1055.10" x2="314.06" y2="1055.10" stroke="#fff" stroke-width="4"/><line x1="315.93" y1="1055.10" x2="326.03" y2="1055.10" stroke="#fff" stroke-width="4"/><line x1="327.90" y1="1055.10" x2="338.00" y2="1055.10" stroke="#fff" stroke-width="4"/><line x1="339.87" y1="1055.10" x2="349.97" y2="1055.10" stroke="#fff" stroke-width="4"/><line x1="351.84" y1="1055.10" x2="361.94" y2="1055.10" stroke="#fff" stroke-width="4"/><line x1="363.81" y1="1055.10" x2="373.91" y2="1055.10" stroke="#fff" stroke-width="4"/><line x1="375.78" y1="1055.10" x2="385.88" y2="1055.10" stroke="#fff" stroke-width="4"/><line x1="387.75" y1="1055.10" x2="397.85" y2="1055.10" stroke="#fff" stroke-width="4"/><line x1="399.72" y1="1055.10" x2="409.82" y2="1055.10" stroke="#fff" stroke-width="4"/><line x1="411.69" y1="1055.10" x2="421.79" y2="1055.10" stroke="#fff" stroke-width="4"/><line x1="423.66" y1="1055.10" x2="433.76" y2="1055.10" stroke="#fff" stroke-width="4"/><line x1="435.63" y1="1055.10" x2="445.73" y2="1055.10" stroke="#fff" stroke-width="4"/><line x1="447.60" y1="1055.10" x2="457.70" y2="1055.10" stroke="#fff" stroke-width="4"/><line x1="459.57" y1="1055.10" x2="469.67" y2="1055.10" stroke="#fff" stroke-width="4"/><line x1="471.54" y1="1055.10" x2="481.64" y2="1055.10" stroke="#fff" stroke-width="4"/><line x1="268.05" y1="1068.90" x2="278.15" y2="1068.90" stroke="#fff" stroke-width="4"/><line x1="280.02" y1="1068.90" x2="290.12" y2="1068.90" stroke="#fff" stroke-width="4"/><line x1="291.99" y1="1068.90" x2="302.09" y2="1068.90" stroke="#fff" stroke-width="4"/><line x1="303.96" y1="1068.90" x2="314.06" y2="1068.90" stroke="#fff" stroke-width="4"/><line x1="315.93" y1="1068.90" x2="326.03" y2="1068.90" stroke="#fff" stroke-width="4"/><line x1="327.90" y1="1068.90" x2="338.00" y2="1068.90" stroke="#fff" stroke-width="4"/><line x1="339.87" y1="1068.90" x2="349.97" y2="1068.90" stroke="#fff" stroke-width="4"/><line x1="351.84" y1="1068.90" x2="361.94" y2="1068.90" stroke="#fff" stroke-width="4"/><line x1="363.81" y1="1068.90" x2="373.91" y2="1068.90" stroke="#fff" stroke-width="4"/><line x1="375.78" y1="1068.90" x2="385.88" y2="1068.90" stroke="#fff" stroke-width="4"/><line x1="387.75" y1="1068.90" x2="397.85" y2="1068.90" stroke="#fff" stroke-width="4"/><line x1="399.72" y1="1068.90" x2="409.82" y2="1068.90" stroke="#fff" stroke-width="4"/><line x1="411.69" y1="1068.90" x2="421.79" y2="1068.90" stroke="#fff" stroke-width="4"/><line x1="423.66" y1="1068.90" x2="433.76" y2="1068.90" stroke="#fff" stroke-width="4"/><line x1="435.63" y1="1068.90" x2="445.73" y2="1068.90" stroke="#fff" stroke-width="4"/><line x1="447.60" y1="1068.90" x2="457.70" y2="1068.90" stroke="#fff" stroke-width="4"/><line x1="459.57" y1="1068.90" x2="469.67" y2="1068.90" stroke="#fff" stroke-width="4"/><line x1="471.54" y1="1068.90" x2="481.64" y2="1068.90" stroke="#fff" stroke-width="4"/><line x1="268.05" y1="1082.40" x2="278.15" y2="1082.40" stroke="#fff" stroke-width="4"/><line x1="280.02" y1="1082.40" x2="290.12" y2="1082.40" stroke="#fff" stroke-width="4"/><line x1="291.99" y1="1082.40" x2="302.09" y2="1082.40" stroke="#fff" stroke-width="4"/><line x1="303.96" y1="1082.40" x2="314.06" y2="1082.40" stroke="#fff" stroke-width="4"/><line x1="315.93" y1="1082.40" x2="326.03" y2="1082.40" stroke="#fff" stroke-width="4"/><line x1="327.90" y1="1082.40" x2="338.00" y2="1082.40" stroke="#fff" stroke-width="4"/><line x1="339.87" y1="1082.40" x2="349.97" y2="1082.40" stroke="#fff" stroke-width="4"/><line x1="351.84" y1="1082.40" x2="361.94" y2="1082.40" stroke="#fff" stroke-width="4"/><line x1="363.81" y1="1082.40" x2="373.91" y2="1082.40" stroke="#fff" stroke-width="4"/><line x1="375.78" y1="1082.40" x2="385.88" y2="1082.40" stroke="#fff" stroke-width="4"/><line x1="387.75" y1="1082.40" x2="397.85" y2="1082.40" stroke="#fff" stroke-width="4"/><line x1="399.72" y1="1082.40" x2="409.82" y2="1082.40" stroke="#fff" stroke-width="4"/><line x1="411.69" y1="1082.40" x2="421.79" y2="1082.40" stroke="#fff" stroke-width="4"/><line x1="423.66" y1="1082.40" x2="433.76" y2="1082.40" stroke="#fff" stroke-width="4"/><line x1="435.63" y1="1082.40" x2="445.73" y2="1082.40" stroke="#fff" stroke-width="4"/><line x1="447.60" y1="1082.40" x2="457.70" y2="1082.40" stroke="#fff" stroke-width="4"/><line x1="459.57" y1="1082.40" x2="469.67" y2="1082.40" stroke="#fff" stroke-width="4"/><line x1="471.54" y1="1082.40" x2="481.64" y2="1082.40" stroke="#fff" stroke-width="4"/><line x1="268.05" y1="1095.90" x2="278.15" y2="1095.90" stroke="#fff" stroke-width="4"/><line x1="280.02" y1="1095.90" x2="290.12" y2="1095.90" stroke="#fff" stroke-width="4"/><line x1="291.99" y1="1095.90" x2="302.09" y2="1095.90" stroke="#fff" stroke-width="4"/><line x1="303.96" y1="1095.90" x2="314.06" y2="1095.90" stroke="#fff" stroke-width="4"/><line x1="315.93" y1="1095.90" x2="326.03" y2="1095.90" stroke="#fff" stroke-width="4"/><line x1="327.90" y1="1095.90" x2="338.00" y2="1095.90" stroke="#fff" stroke-width="4"/><line x1="339.87" y1="1095.90" x2="349.97" y2="1095.90" stroke="#fff" stroke-width="4"/><line x1="351.84" y1="1095.90" x2="361.94" y2="1095.90" stroke="#fff" stroke-width="4"/><line x1="363.81" y1="1095.90" x2="373.91" y2="1095.90" stroke="#fff" stroke-width="4"/><line x1="375.78" y1="1095.90" x2="385.88" y2="1095.90" stroke="#fff" stroke-width="4"/><line x1="387.75" y1="1095.90" x2="397.85" y2="1095.90" stroke="#fff" stroke-width="4"/><line x1="399.72" y1="1095.90" x2="409.82" y2="1095.90" stroke="#fff" stroke-width="4"/><line x1="411.69" y1="1095.90" x2="421.79" y2="1095.90" stroke="#fff" stroke-width="4"/><line x1="423.66" y1="1095.90" x2="433.76" y2="1095.90" stroke="#fff" stroke-width="4"/><line x1="435.63" y1="1095.90" x2="445.73" y2="1095.90" stroke="#fff" stroke-width="4"/><line x1="447.60" y1="1095.90" x2="457.70" y2="1095.90" stroke="#fff" stroke-width="4"/><line x1="459.57" y1="1095.90" x2="469.67" y2="1095.90" stroke="#fff" stroke-width="4"/><line x1="471.54" y1="1095.90" x2="481.64" y2="1095.90" stroke="#fff" stroke-width="4"/><line x1="268.05" y1="1109.40" x2="278.15" y2="1109.40" stroke="#fff" stroke-width="4"/><line x1="280.02" y1="1109.40" x2="290.12" y2="1109.40" stroke="#fff" stroke-width="4"/><line x1="291.99" y1="1109.40" x2="302.09" y2="1109.40" stroke="#fff" stroke-width="4"/><line x1="303.96" y1="1109.40" x2="314.06" y2="1109.40" stroke="#fff" stroke-width="4"/><line x1="315.93" y1="1109.40" x2="326.03" y2="1109.40" stroke="#fff" stroke-width="4"/><line x1="327.90" y1="1109.40" x2="338.00" y2="1109.40" stroke="#fff" stroke-width="4"/><line x1="339.87" y1="1109.40" x2="349.97" y2="1109.40" stroke="#fff" stroke-width="4"/><line x1="351.84" y1="1109.40" x2="361.94" y2="1109.40" stroke="#fff" stroke-width="4"/><line x1="363.81" y1="1109.40" x2="373.91" y2="1109.40" stroke="#fff" stroke-width="4"/><line x1="375.78" y1="1109.40" x2="385.88" y2="1109.40" stroke="#fff" stroke-width="4"/><line x1="387.75" y1="1109.40" x2="397.85" y2="1109.40" stroke="#fff" stroke-width="4"/><line x1="399.72" y1="1109.40" x2="409.82" y2="1109.40" stroke="#fff" stroke-width="4"/><line x1="411.69" y1="1109.40" x2="421.79" y2="1109.40" stroke="#fff" stroke-width="4"/><line x1="423.66" y1="1109.40" x2="433.76" y2="1109.40" stroke="#fff" stroke-width="4"/><line x1="435.63" y1="1109.40" x2="445.73" y2="1109.40" stroke="#fff" stroke-width="4"/><line x1="447.60" y1="1109.40" x2="457.70" y2="1109.40" stroke="#fff" stroke-width="4"/><line x1="459.57" y1="1109.40" x2="469.67" y2="1109.40" stroke="#fff" stroke-width="4"/><line x1="471.54" y1="1109.40" x2="481.64" y2="1109.40" stroke="#fff" stroke-width="4"/><line x1="268.62" y1="1134.32" x2="277.98" y2="1139.08" stroke="#7f7f7f" stroke-width="3.9"/><line x1="280.62" y1="1134.32" x2="289.98" y2="1139.08" stroke="#7f7f7f" stroke-width="3.9"/><line x1="292.62" y1="1134.32" x2="301.98" y2="1139.08" stroke="#7f7f7f" stroke-width="3.9"/><line x1="304.62" y1="1134.32" x2="313.98" y2="1139.08" stroke="#7f7f7f" stroke-width="3.9"/><line x1="316.62" y1="1134.32" x2="325.98" y2="1139.08" stroke="#7f7f7f" stroke-width="3.9"/><line x1="328.62" y1="1134.32" x2="337.98" y2="1139.08" stroke="#7f7f7f" stroke-width="3.9"/><line x1="340.62" y1="1134.32" x2="349.98" y2="1139.08" stroke="#7f7f7f" stroke-width="3.9"/><line x1="352.62" y1="1134.32" x2="361.98" y2="1139.08" stroke="#7f7f7f" stroke-width="3.9"/><line x1="364.62" y1="1134.32" x2="373.98" y2="1139.08" stroke="#7f7f7f" stroke-width="3.9"/><line x1="376.62" y1="1134.32" x2="385.98" y2="1139.08" stroke="#7f7f7f" stroke-width="3.9"/><line x1="388.62" y1="1134.32" x2="397.98" y2="1139.08" stroke="#7f7f7f" stroke-width="3.9"/><line x1="400.62" y1="1134.32" x2="409.98" y2="1139.08" stroke="#7f7f7f" stroke-width="3.9"/><line x1="412.62" y1="1134.32" x2="421.98" y2="1139.08" stroke="#7f7f7f" stroke-width="3.9"/><line x1="424.62" y1="1134.32" x2="433.98" y2="1139.08" stroke="#7f7f7f" stroke-width="3.9"/><line x1="436.62" y1="1134.32" x2="445.98" y2="1139.08" stroke="#7f7f7f" stroke-width="3.9"/><line x1="448.62" y1="1134.32" x2="457.98" y2="1139.08" stroke="#7f7f7f" stroke-width="3.9"/><line x1="460.62" y1="1134.32" x2="469.98" y2="1139.08" stroke="#7f7f7f" stroke-width="3.9"/><line x1="472.62" y1="1134.32" x2="481.98" y2="1139.08" stroke="#7f7f7f" stroke-width="3.9"/><line x1="268.62" y1="1147.92" x2="277.98" y2="1152.68" stroke="#7f7f7f" stroke-width="3.9"/><line x1="280.62" y1="1147.92" x2="289.98" y2="1152.68" stroke="#7f7f7f" stroke-width="3.9"/><line x1="292.62" y1="1147.92" x2="301.98" y2="1152.68" stroke="#7f7f7f" stroke-width="3.9"/><line x1="304.62" y1="1147.92" x2="313.98" y2="1152.68" stroke="#7f7f7f" stroke-width="3.9"/><line x1="316.62" y1="1147.92" x2="325.98" y2="1152.68" stroke="#7f7f7f" stroke-width="3.9"/><line x1="328.62" y1="1147.92" x2="337.98" y2="1152.68" stroke="#7f7f7f" stroke-width="3.9"/><line x1="340.62" y1="1147.92" x2="349.98" y2="1152.68" stroke="#7f7f7f" stroke-width="3.9"/><line x1="352.62" y1="1147.92" x2="361.98" y2="1152.68" stroke="#7f7f7f" stroke-width="3.9"/><line x1="364.62" y1="1147.92" x2="373.98" y2="1152.68" stroke="#7f7f7f" stroke-width="3.9"/><line x1="376.62" y1="1147.92" x2="385.98" y2="1152.68" stroke="#7f7f7f" stroke-width="3.9"/><line x1="388.62" y1="1147.92" x2="397.98" y2="1152.68" stroke="#7f7f7f" stroke-width="3.9"/><line x1="400.62" y1="1147.92" x2="409.98" y2="1152.68" stroke="#7f7f7f" stroke-width="3.9"/><line x1="412.62" y1="1147.92" x2="421.98" y2="1152.68" stroke="#7f7f7f" stroke-width="3.9"/><line x1="424.62" y1="1147.92" x2="433.98" y2="1152.68" stroke="#7f7f7f" stroke-width="3.9"/><line x1="436.62" y1="1147.92" x2="445.98" y2="1152.68" stroke="#7f7f7f" stroke-width="3.9"/><line x1="448.62" y1="1147.92" x2="457.98" y2="1152.68" stroke="#7f7f7f" stroke-width="3.9"/><line x1="460.62" y1="1147.92" x2="469.98" y2="1152.68" stroke="#7f7f7f" stroke-width="3.9"/><line x1="472.62" y1="1147.92" x2="481.98" y2="1152.68" stroke="#7f7f7f" stroke-width="3.9"/><line x1="268.62" y1="1161.42" x2="277.98" y2="1166.18" stroke="#7f7f7f" stroke-width="3.9"/><line x1="280.62" y1="1161.42" x2="289.98" y2="1166.18" stroke="#7f7f7f" stroke-width="3.9"/><line x1="292.62" y1="1161.42" x2="301.98" y2="1166.18" stroke="#7f7f7f" stroke-width="3.9"/><line x1="304.62" y1="1161.42" x2="313.98" y2="1166.18" stroke="#7f7f7f" stroke-width="3.9"/><line x1="316.62" y1="1161.42" x2="325.98" y2="1166.18" stroke="#7f7f7f" stroke-width="3.9"/><line x1="328.62" y1="1161.42" x2="337.98" y2="1166.18" stroke="#7f7f7f" stroke-width="3.9"/><line x1="340.62" y1="1161.42" x2="349.98" y2="1166.18" stroke="#7f7f7f" stroke-width="3.9"/><line x1="352.62" y1="1161.42" x2="361.98" y2="1166.18" stroke="#7f7f7f" stroke-width="3.9"/><line x1="364.62" y1="1161.42" x2="373.98" y2="1166.18" stroke="#7f7f7f" stroke-width="3.9"/><line x1="376.62" y1="1161.42" x2="385.98" y2="1166.18" stroke="#7f7f7f" stroke-width="3.9"/><line x1="388.62" y1="1161.42" x2="397.98" y2="1166.18" stroke="#7f7f7f" stroke-width="3.9"/><line x1="400.62" y1="1161.42" x2="409.98" y2="1166.18" stroke="#7f7f7f" stroke-width="3.9"/><line x1="412.62" y1="1161.42" x2="421.98" y2="1166.18" stroke="#7f7f7f" stroke-width="3.9"/><line x1="424.62" y1="1161.42" x2="433.98" y2="1166.18" stroke="#7f7f7f" stroke-width="3.9"/><line x1="436.62" y1="1161.42" x2="445.98" y2="1166.18" stroke="#7f7f7f" stroke-width="3.9"/><line x1="448.62" y1="1161.42" x2="457.98" y2="1166.18" stroke="#7f7f7f" stroke-width="3.9"/><line x1="460.62" y1="1161.42" x2="469.98" y2="1166.18" stroke="#7f7f7f" stroke-width="3.9"/><line x1="472.62" y1="1161.42" x2="481.98" y2="1166.18" stroke="#7f7f7f" stroke-width="3.9"/><line x1="268.62" y1="1175.12" x2="277.98" y2="1179.88" stroke="#7f7f7f" stroke-width="3.9"/><line x1="280.62" y1="1175.12" x2="289.98" y2="1179.88" stroke="#7f7f7f" stroke-width="3.9"/><line x1="292.62" y1="1175.12" x2="301.98" y2="1179.88" stroke="#7f7f7f" stroke-width="3.9"/><line x1="304.62" y1="1175.12" x2="313.98" y2="1179.88" stroke="#7f7f7f" stroke-width="3.9"/><line x1="316.62" y1="1175.12" x2="325.98" y2="1179.88" stroke="#7f7f7f" stroke-width="3.9"/><line x1="328.62" y1="1175.12" x2="337.98" y2="1179.88" stroke="#7f7f7f" stroke-width="3.9"/><line x1="340.62" y1="1175.12" x2="349.98" y2="1179.88" stroke="#7f7f7f" stroke-width="3.9"/><line x1="352.62" y1="1175.12" x2="361.98" y2="1179.88" stroke="#7f7f7f" stroke-width="3.9"/><line x1="364.62" y1="1175.12" x2="373.98" y2="1179.88" stroke="#7f7f7f" stroke-width="3.9"/><line x1="376.62" y1="1175.12" x2="385.98" y2="1179.88" stroke="#7f7f7f" stroke-width="3.9"/><line x1="388.62" y1="1175.12" x2="397.98" y2="1179.88" stroke="#7f7f7f" stroke-width="3.9"/><line x1="400.62" y1="1175.12" x2="409.98" y2="1179.88" stroke="#7f7f7f" stroke-width="3.9"/><line x1="412.62" y1="1175.12" x2="421.98" y2="1179.88" stroke="#7f7f7f" stroke-width="3.9"/><line x1="424.62" y1="1175.12" x2="433.98" y2="1179.88" stroke="#7f7f7f" stroke-width="3.9"/><line x1="436.62" y1="1175.12" x2="445.98" y2="1179.88" stroke="#7f7f7f" stroke-width="3.9"/><line x1="448.62" y1="1175.12" x2="457.98" y2="1179.88" stroke="#7f7f7f" stroke-width="3.9"/><line x1="460.62" y1="1175.12" x2="469.98" y2="1179.88" stroke="#7f7f7f" stroke-width="3.9"/><line x1="472.62" y1="1175.12" x2="481.98" y2="1179.88" stroke="#7f7f7f" stroke-width="3.9"/><line x1="268.62" y1="1188.92" x2="277.98" y2="1193.68" stroke="#7f7f7f" stroke-width="3.9"/><line x1="280.62" y1="1188.92" x2="289.98" y2="1193.68" stroke="#7f7f7f" stroke-width="3.9"/><line x1="292.62" y1="1188.92" x2="301.98" y2="1193.68" stroke="#7f7f7f" stroke-width="3.9"/><line x1="304.62" y1="1188.92" x2="313.98" y2="1193.68" stroke="#7f7f7f" stroke-width="3.9"/><line x1="316.62" y1="1188.92" x2="325.98" y2="1193.68" stroke="#7f7f7f" stroke-width="3.9"/><line x1="328.62" y1="1188.92" x2="337.98" y2="1193.68" stroke="#7f7f7f" stroke-width="3.9"/><line x1="340.62" y1="1188.92" x2="349.98" y2="1193.68" stroke="#7f7f7f" stroke-width="3.9"/><line x1="352.62" y1="1188.92" x2="361.98" y2="1193.68" stroke="#7f7f7f" stroke-width="3.9"/><line x1="364.62" y1="1188.92" x2="373.98" y2="1193.68" stroke="#7f7f7f" stroke-width="3.9"/><line x1="376.62" y1="1188.92" x2="385.98" y2="1193.68" stroke="#7f7f7f" stroke-width="3.9"/><line x1="388.62" y1="1188.92" x2="397.98" y2="1193.68" stroke="#7f7f7f" stroke-width="3.9"/><line x1="400.62" y1="1188.92" x2="409.98" y2="1193.68" stroke="#7f7f7f" stroke-width="3.9"/><line x1="412.62" y1="1188.92" x2="421.98" y2="1193.68" stroke="#7f7f7f" stroke-width="3.9"/><line x1="424.62" y1="1188.92" x2="433.98" y2="1193.68" stroke="#7f7f7f" stroke-width="3.9"/><line x1="436.62" y1="1188.92" x2="445.98" y2="1193.68" stroke="#7f7f7f" stroke-width="3.9"/><line x1="448.62" y1="1188.92" x2="457.98" y2="1193.68" stroke="#7f7f7f" stroke-width="3.9"/><line x1="460.62" y1="1188.92" x2="469.98" y2="1193.68" stroke="#7f7f7f" stroke-width="3.9"/><line x1="472.62" y1="1188.92" x2="481.98" y2="1193.68" stroke="#7f7f7f" stroke-width="3.9"/><line x1="264.82" y1="1120.10" x2="275.18" y2="1122.30" stroke="#000" stroke-width="4.2"/><line x1="275.72" y1="1120.10" x2="286.08" y2="1122.30" stroke="#000" stroke-width="4.2"/><line x1="286.62" y1="1120.10" x2="296.98" y2="1122.30" stroke="#000" stroke-width="4.2"/><line x1="297.52" y1="1120.10" x2="307.88" y2="1122.30" stroke="#000" stroke-width="4.2"/><line x1="308.42" y1="1120.10" x2="318.78" y2="1122.30" stroke="#000" stroke-width="4.2"/><line x1="319.32" y1="1120.10" x2="329.68" y2="1122.30" stroke="#000" stroke-width="4.2"/><line x1="330.22" y1="1120.10" x2="340.58" y2="1122.30" stroke="#000" stroke-width="4.2"/><line x1="341.12" y1="1120.10" x2="351.48" y2="1122.30" stroke="#000" stroke-width="4.2"/><line x1="352.02" y1="1120.10" x2="362.38" y2="1122.30" stroke="#000" stroke-width="4.2"/><line x1="362.92" y1="1120.10" x2="373.28" y2="1122.30" stroke="#000" stroke-width="4.2"/><line x1="373.82" y1="1120.10" x2="384.18" y2="1122.30" stroke="#000" stroke-width="4.2"/><line x1="384.72" y1="1120.10" x2="395.08" y2="1122.30" stroke="#000" stroke-width="4.2"/><line x1="395.62" y1="1120.10" x2="405.98" y2="1122.30" stroke="#000" stroke-width="4.2"/><line x1="406.52" y1="1120.10" x2="416.88" y2="1122.30" stroke="#000" stroke-width="4.2"/><line x1="417.42" y1="1120.10" x2="427.78" y2="1122.30" stroke="#000" stroke-width="4.2"/><line x1="428.32" y1="1120.10" x2="438.68" y2="1122.30" stroke="#000" stroke-width="4.2"/><line x1="439.22" y1="1120.10" x2="449.58" y2="1122.30" stroke="#000" stroke-width="4.2"/><line x1="450.12" y1="1120.10" x2="460.48" y2="1122.30" stroke="#000" stroke-width="4.2"/><line x1="461.02" y1="1120.10" x2="471.38" y2="1122.30" stroke="#000" stroke-width="4.2"/><line x1="471.92" y1="1120.10" x2="482.28" y2="1122.30" stroke="#000" stroke-width="4.2"/><line x1="482.82" y1="1120.10" x2="493.18" y2="1122.30" stroke="#000" stroke-width="4.2"/></g>
<path d="M389,1096 Q386.5,1122 371.5,1145" fill="none" stroke="#fff" stroke-width="19" stroke-linecap="butt"/><path d="M389,1096 Q386.5,1122 371.5,1145" fill="none" stroke="url(#rbE)" stroke-width="15.5" stroke-linecap="butt"/>
<polygon points="389.1,1101.1 378.2,1085.1 378.2,1053.4 389.1,1063.2" fill="#ffa726"/><line x1="386.3" y1="1092.2" x2="381.0" y2="1084.9" stroke="#ffff00" stroke-width="3.0"/><line x1="386.3" y1="1085.5" x2="381.0" y2="1078.8" stroke="#ffff00" stroke-width="3.0"/><line x1="386.3" y1="1078.8" x2="381.0" y2="1072.6" stroke="#ffff00" stroke-width="3.0"/><line x1="386.3" y1="1072.1" x2="381.0" y2="1066.4" stroke="#ffff00" stroke-width="3.0"/><line x1="386.3" y1="1065.4" x2="381.0" y2="1060.3" stroke="#ffff00" stroke-width="3.0"/><polygon points="389.1,1101.1 402.2,1085.1 402.2,1052.6 389.1,1063.2" fill="#4f8a2c"/><line x1="392.5" y1="1092.2" x2="398.8" y2="1084.9" stroke="#00b050" stroke-width="3.0"/><line x1="392.5" y1="1085.5" x2="398.8" y2="1078.6" stroke="#00b050" stroke-width="3.0"/><line x1="392.5" y1="1078.7" x2="398.8" y2="1072.3" stroke="#00b050" stroke-width="3.0"/><line x1="392.5" y1="1071.9" x2="398.8" y2="1066.0" stroke="#00b050" stroke-width="3.0"/><line x1="392.5" y1="1065.2" x2="398.8" y2="1059.8" stroke="#00b050" stroke-width="3.0"/>
<line x1="399.3" y1="1116.5" x2="399.3" y2="1186.5" stroke="#1478f2" stroke-width="3.5" stroke-dasharray="11.5 10.4"/>
<line x1="398.5" y1="1118" x2="365.7" y2="1185.7" stroke="#1478f2" stroke-width="3.5" stroke-dasharray="11 9.5" stroke-dashoffset="0"/>
<polyline points="394.2,1123.5 399.2,1116 402.2,1123.5" fill="none" stroke="#1478f2" stroke-width="3"/>
<path d="M400,1169.5 Q389,1178.5 379,1172" fill="none" stroke="#1478f2" stroke-width="2.8"/><path d="M374.8,1168.6 L385,1169.3 L380.5,1172.8 L381.8,1178.5 Z" fill="#1478f2"/>
<polygon points="353.3,1181.4 349.7,1163.9 362.8,1133.9 369.4,1145.6" fill="#ffa726"/><line x1="354.3" y1="1172.4" x2="352.4" y2="1164.4" stroke="#ffff00" stroke-width="3.0"/><line x1="357.2" y1="1166.1" x2="355.0" y2="1158.5" stroke="#ffff00" stroke-width="3.0"/><line x1="360.0" y1="1159.7" x2="357.6" y2="1152.7" stroke="#ffff00" stroke-width="3.0"/><line x1="362.9" y1="1153.4" x2="360.1" y2="1146.9" stroke="#ffff00" stroke-width="3.0"/><line x1="365.7" y1="1147.0" x2="362.7" y2="1141.0" stroke="#ffff00" stroke-width="3.0"/><polygon points="353.3,1181.4 371.5,1171.9 384.0,1142.0 369.4,1145.6" fill="#4f8a2c"/><line x1="360.0" y1="1174.5" x2="368.5" y2="1170.3" stroke="#00b050" stroke-width="3.0"/><line x1="362.8" y1="1168.1" x2="371.0" y2="1164.5" stroke="#00b050" stroke-width="3.0"/><line x1="365.6" y1="1161.8" x2="373.5" y2="1158.7" stroke="#00b050" stroke-width="3.0"/><line x1="368.4" y1="1155.5" x2="376.0" y2="1152.8" stroke="#00b050" stroke-width="3.0"/><line x1="371.2" y1="1149.1" x2="378.5" y2="1147.0" stroke="#00b050" stroke-width="3.0"/>
<rect x="412.4" y="1147.8" width="34.30000000000001" height="23.799999999999955" fill="#fff"/><text x="416.5" y="1166.8" font-size="20.5" fill="#000" font-family="Liberation Serif, serif" text-anchor="start" >25<tspan font-size="13.5" dy="-6.5">o</tspan></text>
<g clip-path="url(#cE3s)"><rect x="492" y="1045" width="218" height="76.20000000000005" fill="#a92a4e"/><rect x="492" y="1121.2" width="218" height="79.0" fill="#8ab27a"/><line x1="493.45" y1="1055.10" x2="503.55" y2="1055.10" stroke="#fff" stroke-width="4"/><line x1="505.43" y1="1055.10" x2="515.53" y2="1055.10" stroke="#fff" stroke-width="4"/><line x1="517.41" y1="1055.10" x2="527.51" y2="1055.10" stroke="#fff" stroke-width="4"/><line x1="529.39" y1="1055.10" x2="539.49" y2="1055.10" stroke="#fff" stroke-width="4"/><line x1="541.37" y1="1055.10" x2="551.47" y2="1055.10" stroke="#fff" stroke-width="4"/><line x1="553.35" y1="1055.10" x2="563.45" y2="1055.10" stroke="#fff" stroke-width="4"/><line x1="565.33" y1="1055.10" x2="575.43" y2="1055.10" stroke="#fff" stroke-width="4"/><line x1="577.31" y1="1055.10" x2="587.41" y2="1055.10" stroke="#fff" stroke-width="4"/><line x1="589.29" y1="1055.10" x2="599.39" y2="1055.10" stroke="#fff" stroke-width="4"/><line x1="601.27" y1="1055.10" x2="611.37" y2="1055.10" stroke="#fff" stroke-width="4"/><line x1="613.25" y1="1055.10" x2="623.35" y2="1055.10" stroke="#fff" stroke-width="4"/><line x1="625.23" y1="1055.10" x2="635.33" y2="1055.10" stroke="#fff" stroke-width="4"/><line x1="637.21" y1="1055.10" x2="647.31" y2="1055.10" stroke="#fff" stroke-width="4"/><line x1="649.19" y1="1055.10" x2="659.29" y2="1055.10" stroke="#fff" stroke-width="4"/><line x1="661.17" y1="1055.10" x2="671.27" y2="1055.10" stroke="#fff" stroke-width="4"/><line x1="673.15" y1="1055.10" x2="683.25" y2="1055.10" stroke="#fff" stroke-width="4"/><line x1="685.13" y1="1055.10" x2="695.23" y2="1055.10" stroke="#fff" stroke-width="4"/><line x1="697.11" y1="1055.10" x2="707.21" y2="1055.10" stroke="#fff" stroke-width="4"/><line x1="493.45" y1="1068.90" x2="503.55" y2="1068.90" stroke="#fff" stroke-width="4"/><line x1="505.43" y1="1068.90" x2="515.53" y2="1068.90" stroke="#fff" stroke-width="4"/><line x1="517.41" y1="1068.90" x2="527.51" y2="1068.90" stroke="#fff" stroke-width="4"/><line x1="529.39" y1="1068.90" x2="539.49" y2="1068.90" stroke="#fff" stroke-width="4"/><line x1="541.37" y1="1068.90" x2="551.47" y2="1068.90" stroke="#fff" stroke-width="4"/><line x1="553.35" y1="1068.90" x2="563.45" y2="1068.90" stroke="#fff" stroke-width="4"/><line x1="565.33" y1="1068.90" x2="575.43" y2="1068.90" stroke="#fff" stroke-width="4"/><line x1="577.31" y1="1068.90" x2="587.41" y2="1068.90" stroke="#fff" stroke-width="4"/><line x1="589.29" y1="1068.90" x2="599.39" y2="1068.90" stroke="#fff" stroke-width="4"/><line x1="601.27" y1="1068.90" x2="611.37" y2="1068.90" stroke="#fff" stroke-width="4"/><line x1="613.25" y1="1068.90" x2="623.35" y2="1068.90" stroke="#fff" stroke-width="4"/><line x1="625.23" y1="1068.90" x2="635.33" y2="1068.90" stroke="#fff" stroke-width="4"/><line x1="637.21" y1="1068.90" x2="647.31" y2="1068.90" stroke="#fff" stroke-width="4"/><line x1="649.19" y1="1068.90" x2="659.29" y2="1068.90" stroke="#fff" stroke-width="4"/><line x1="661.17" y1="1068.90" x2="671.27" y2="1068.90" stroke="#fff" stroke-width="4"/><line x1="673.15" y1="1068.90" x2="683.25" y2="1068.90" stroke="#fff" stroke-width="4"/><line x1="685.13" y1="1068.90" x2="695.23" y2="1068.90" stroke="#fff" stroke-width="4"/><line x1="697.11" y1="1068.90" x2="707.21" y2="1068.90" stroke="#fff" stroke-width="4"/><line x1="493.45" y1="1082.40" x2="503.55" y2="1082.40" stroke="#fff" stroke-width="4"/><line x1="505.43" y1="1082.40" x2="515.53" y2="1082.40" stroke="#fff" stroke-width="4"/><line x1="517.41" y1="1082.40" x2="527.51" y2="1082.40" stroke="#fff" stroke-width="4"/><line x1="529.39" y1="1082.40" x2="539.49" y2="1082.40" stroke="#fff" stroke-width="4"/><line x1="541.37" y1="1082.40" x2="551.47" y2="1082.40" stroke="#fff" stroke-width="4"/><line x1="553.35" y1="1082.40" x2="563.45" y2="1082.40" stroke="#fff" stroke-width="4"/><line x1="565.33" y1="1082.40" x2="575.43" y2="1082.40" stroke="#fff" stroke-width="4"/><line x1="577.31" y1="1082.40" x2="587.41" y2="1082.40" stroke="#fff" stroke-width="4"/><line x1="589.29" y1="1082.40" x2="599.39" y2="1082.40" stroke="#fff" stroke-width="4"/><line x1="601.27" y1="1082.40" x2="611.37" y2="1082.40" stroke="#fff" stroke-width="4"/><line x1="613.25" y1="1082.40" x2="623.35" y2="1082.40" stroke="#fff" stroke-width="4"/><line x1="625.23" y1="1082.40" x2="635.33" y2="1082.40" stroke="#fff" stroke-width="4"/><line x1="637.21" y1="1082.40" x2="647.31" y2="1082.40" stroke="#fff" stroke-width="4"/><line x1="649.19" y1="1082.40" x2="659.29" y2="1082.40" stroke="#fff" stroke-width="4"/><line x1="661.17" y1="1082.40" x2="671.27" y2="1082.40" stroke="#fff" stroke-width="4"/><line x1="673.15" y1="1082.40" x2="683.25" y2="1082.40" stroke="#fff" stroke-width="4"/><line x1="685.13" y1="1082.40" x2="695.23" y2="1082.40" stroke="#fff" stroke-width="4"/><line x1="697.11" y1="1082.40" x2="707.21" y2="1082.40" stroke="#fff" stroke-width="4"/><line x1="493.45" y1="1095.90" x2="503.55" y2="1095.90" stroke="#fff" stroke-width="4"/><line x1="505.43" y1="1095.90" x2="515.53" y2="1095.90" stroke="#fff" stroke-width="4"/><line x1="517.41" y1="1095.90" x2="527.51" y2="1095.90" stroke="#fff" stroke-width="4"/><line x1="529.39" y1="1095.90" x2="539.49" y2="1095.90" stroke="#fff" stroke-width="4"/><line x1="541.37" y1="1095.90" x2="551.47" y2="1095.90" stroke="#fff" stroke-width="4"/><line x1="553.35" y1="1095.90" x2="563.45" y2="1095.90" stroke="#fff" stroke-width="4"/><line x1="565.33" y1="1095.90" x2="575.43" y2="1095.90" stroke="#fff" stroke-width="4"/><line x1="577.31" y1="1095.90" x2="587.41" y2="1095.90" stroke="#fff" stroke-width="4"/><line x1="589.29" y1="1095.90" x2="599.39" y2="1095.90" stroke="#fff" stroke-width="4"/><line x1="601.27" y1="1095.90" x2="611.37" y2="1095.90" stroke="#fff" stroke-width="4"/><line x1="613.25" y1="1095.90" x2="623.35" y2="1095.90" stroke="#fff" stroke-width="4"/><line x1="625.23" y1="1095.90" x2="635.33" y2="1095.90" stroke="#fff" stroke-width="4"/><line x1="637.21" y1="1095.90" x2="647.31" y2="1095.90" stroke="#fff" stroke-width="4"/><line x1="649.19" y1="1095.90" x2="659.29" y2="1095.90" stroke="#fff" stroke-width="4"/><line x1="661.17" y1="1095.90" x2="671.27" y2="1095.90" stroke="#fff" stroke-width="4"/><line x1="673.15" y1="1095.90" x2="683.25" y2="1095.90" stroke="#fff" stroke-width="4"/><line x1="685.13" y1="1095.90" x2="695.23" y2="1095.90" stroke="#fff" stroke-width="4"/><line x1="697.11" y1="1095.90" x2="707.21" y2="1095.90" stroke="#fff" stroke-width="4"/><line x1="493.45" y1="1109.40" x2="503.55" y2="1109.40" stroke="#fff" stroke-width="4"/><line x1="505.43" y1="1109.40" x2="515.53" y2="1109.40" stroke="#fff" stroke-width="4"/><line x1="517.41" y1="1109.40" x2="527.51" y2="1109.40" stroke="#fff" stroke-width="4"/><line x1="529.39" y1="1109.40" x2="539.49" y2="1109.40" stroke="#fff" stroke-width="4"/><line x1="541.37" y1="1109.40" x2="551.47" y2="1109.40" stroke="#fff" stroke-width="4"/><line x1="553.35" y1="1109.40" x2="563.45" y2="1109.40" stroke="#fff" stroke-width="4"/><line x1="565.33" y1="1109.40" x2="575.43" y2="1109.40" stroke="#fff" stroke-width="4"/><line x1="577.31" y1="1109.40" x2="587.41" y2="1109.40" stroke="#fff" stroke-width="4"/><line x1="589.29" y1="1109.40" x2="599.39" y2="1109.40" stroke="#fff" stroke-width="4"/><line x1="601.27" y1="1109.40" x2="611.37" y2="1109.40" stroke="#fff" stroke-width="4"/><line x1="613.25" y1="1109.40" x2="623.35" y2="1109.40" stroke="#fff" stroke-width="4"/><line x1="625.23" y1="1109.40" x2="635.33" y2="1109.40" stroke="#fff" stroke-width="4"/><line x1="637.21" y1="1109.40" x2="647.31" y2="1109.40" stroke="#fff" stroke-width="4"/><line x1="649.19" y1="1109.40" x2="659.29" y2="1109.40" stroke="#fff" stroke-width="4"/><line x1="661.17" y1="1109.40" x2="671.27" y2="1109.40" stroke="#fff" stroke-width="4"/><line x1="673.15" y1="1109.40" x2="683.25" y2="1109.40" stroke="#fff" stroke-width="4"/><line x1="685.13" y1="1109.40" x2="695.23" y2="1109.40" stroke="#fff" stroke-width="4"/><line x1="697.11" y1="1109.40" x2="707.21" y2="1109.40" stroke="#fff" stroke-width="4"/><line x1="493.54" y1="1138.92" x2="503.06" y2="1134.48" stroke="#7f7f7f" stroke-width="3.9"/><line x1="505.54" y1="1138.92" x2="515.06" y2="1134.48" stroke="#7f7f7f" stroke-width="3.9"/><line x1="517.54" y1="1138.92" x2="527.06" y2="1134.48" stroke="#7f7f7f" stroke-width="3.9"/><line x1="529.54" y1="1138.92" x2="539.06" y2="1134.48" stroke="#7f7f7f" stroke-width="3.9"/><line x1="541.54" y1="1138.92" x2="551.06" y2="1134.48" stroke="#7f7f7f" stroke-width="3.9"/><line x1="553.54" y1="1138.92" x2="563.06" y2="1134.48" stroke="#7f7f7f" stroke-width="3.9"/><line x1="565.54" y1="1138.92" x2="575.06" y2="1134.48" stroke="#7f7f7f" stroke-width="3.9"/><line x1="577.54" y1="1138.92" x2="587.06" y2="1134.48" stroke="#7f7f7f" stroke-width="3.9"/><line x1="589.54" y1="1138.92" x2="599.06" y2="1134.48" stroke="#7f7f7f" stroke-width="3.9"/><line x1="601.54" y1="1138.92" x2="611.06" y2="1134.48" stroke="#7f7f7f" stroke-width="3.9"/><line x1="613.54" y1="1138.92" x2="623.06" y2="1134.48" stroke="#7f7f7f" stroke-width="3.9"/><line x1="625.54" y1="1138.92" x2="635.06" y2="1134.48" stroke="#7f7f7f" stroke-width="3.9"/><line x1="637.54" y1="1138.92" x2="647.06" y2="1134.48" stroke="#7f7f7f" stroke-width="3.9"/><line x1="649.54" y1="1138.92" x2="659.06" y2="1134.48" stroke="#7f7f7f" stroke-width="3.9"/><line x1="661.54" y1="1138.92" x2="671.06" y2="1134.48" stroke="#7f7f7f" stroke-width="3.9"/><line x1="673.54" y1="1138.92" x2="683.06" y2="1134.48" stroke="#7f7f7f" stroke-width="3.9"/><line x1="685.54" y1="1138.92" x2="695.06" y2="1134.48" stroke="#7f7f7f" stroke-width="3.9"/><line x1="697.54" y1="1138.92" x2="707.06" y2="1134.48" stroke="#7f7f7f" stroke-width="3.9"/><line x1="493.54" y1="1152.52" x2="503.06" y2="1148.08" stroke="#7f7f7f" stroke-width="3.9"/><line x1="505.54" y1="1152.52" x2="515.06" y2="1148.08" stroke="#7f7f7f" stroke-width="3.9"/><line x1="517.54" y1="1152.52" x2="527.06" y2="1148.08" stroke="#7f7f7f" stroke-width="3.9"/><line x1="529.54" y1="1152.52" x2="539.06" y2="1148.08" stroke="#7f7f7f" stroke-width="3.9"/><line x1="541.54" y1="1152.52" x2="551.06" y2="1148.08" stroke="#7f7f7f" stroke-width="3.9"/><line x1="553.54" y1="1152.52" x2="563.06" y2="1148.08" stroke="#7f7f7f" stroke-width="3.9"/><line x1="565.54" y1="1152.52" x2="575.06" y2="1148.08" stroke="#7f7f7f" stroke-width="3.9"/><line x1="577.54" y1="1152.52" x2="587.06" y2="1148.08" stroke="#7f7f7f" stroke-width="3.9"/><line x1="589.54" y1="1152.52" x2="599.06" y2="1148.08" stroke="#7f7f7f" stroke-width="3.9"/><line x1="601.54" y1="1152.52" x2="611.06" y2="1148.08" stroke="#7f7f7f" stroke-width="3.9"/><line x1="613.54" y1="1152.52" x2="623.06" y2="1148.08" stroke="#7f7f7f" stroke-width="3.9"/><line x1="625.54" y1="1152.52" x2="635.06" y2="1148.08" stroke="#7f7f7f" stroke-width="3.9"/><line x1="637.54" y1="1152.52" x2="647.06" y2="1148.08" stroke="#7f7f7f" stroke-width="3.9"/><line x1="649.54" y1="1152.52" x2="659.06" y2="1148.08" stroke="#7f7f7f" stroke-width="3.9"/><line x1="661.54" y1="1152.52" x2="671.06" y2="1148.08" stroke="#7f7f7f" stroke-width="3.9"/><line x1="673.54" y1="1152.52" x2="683.06" y2="1148.08" stroke="#7f7f7f" stroke-width="3.9"/><line x1="685.54" y1="1152.52" x2="695.06" y2="1148.08" stroke="#7f7f7f" stroke-width="3.9"/><line x1="697.54" y1="1152.52" x2="707.06" y2="1148.08" stroke="#7f7f7f" stroke-width="3.9"/><line x1="493.54" y1="1166.02" x2="503.06" y2="1161.58" stroke="#7f7f7f" stroke-width="3.9"/><line x1="505.54" y1="1166.02" x2="515.06" y2="1161.58" stroke="#7f7f7f" stroke-width="3.9"/><line x1="517.54" y1="1166.02" x2="527.06" y2="1161.58" stroke="#7f7f7f" stroke-width="3.9"/><line x1="529.54" y1="1166.02" x2="539.06" y2="1161.58" stroke="#7f7f7f" stroke-width="3.9"/><line x1="541.54" y1="1166.02" x2="551.06" y2="1161.58" stroke="#7f7f7f" stroke-width="3.9"/><line x1="553.54" y1="1166.02" x2="563.06" y2="1161.58" stroke="#7f7f7f" stroke-width="3.9"/><line x1="565.54" y1="1166.02" x2="575.06" y2="1161.58" stroke="#7f7f7f" stroke-width="3.9"/><line x1="577.54" y1="1166.02" x2="587.06" y2="1161.58" stroke="#7f7f7f" stroke-width="3.9"/><line x1="589.54" y1="1166.02" x2="599.06" y2="1161.58" stroke="#7f7f7f" stroke-width="3.9"/><line x1="601.54" y1="1166.02" x2="611.06" y2="1161.58" stroke="#7f7f7f" stroke-width="3.9"/><line x1="613.54" y1="1166.02" x2="623.06" y2="1161.58" stroke="#7f7f7f" stroke-width="3.9"/><line x1="625.54" y1="1166.02" x2="635.06" y2="1161.58" stroke="#7f7f7f" stroke-width="3.9"/><line x1="637.54" y1="1166.02" x2="647.06" y2="1161.58" stroke="#7f7f7f" stroke-width="3.9"/><line x1="649.54" y1="1166.02" x2="659.06" y2="1161.58" stroke="#7f7f7f" stroke-width="3.9"/><line x1="661.54" y1="1166.02" x2="671.06" y2="1161.58" stroke="#7f7f7f" stroke-width="3.9"/><line x1="673.54" y1="1166.02" x2="683.06" y2="1161.58" stroke="#7f7f7f" stroke-width="3.9"/><line x1="685.54" y1="1166.02" x2="695.06" y2="1161.58" stroke="#7f7f7f" stroke-width="3.9"/><line x1="697.54" y1="1166.02" x2="707.06" y2="1161.58" stroke="#7f7f7f" stroke-width="3.9"/><line x1="493.54" y1="1179.72" x2="503.06" y2="1175.28" stroke="#7f7f7f" stroke-width="3.9"/><line x1="505.54" y1="1179.72" x2="515.06" y2="1175.28" stroke="#7f7f7f" stroke-width="3.9"/><line x1="517.54" y1="1179.72" x2="527.06" y2="1175.28" stroke="#7f7f7f" stroke-width="3.9"/><line x1="529.54" y1="1179.72" x2="539.06" y2="1175.28" stroke="#7f7f7f" stroke-width="3.9"/><line x1="541.54" y1="1179.72" x2="551.06" y2="1175.28" stroke="#7f7f7f" stroke-width="3.9"/><line x1="553.54" y1="1179.72" x2="563.06" y2="1175.28" stroke="#7f7f7f" stroke-width="3.9"/><line x1="565.54" y1="1179.72" x2="575.06" y2="1175.28" stroke="#7f7f7f" stroke-width="3.9"/><line x1="577.54" y1="1179.72" x2="587.06" y2="1175.28" stroke="#7f7f7f" stroke-width="3.9"/><line x1="589.54" y1="1179.72" x2="599.06" y2="1175.28" stroke="#7f7f7f" stroke-width="3.9"/><line x1="601.54" y1="1179.72" x2="611.06" y2="1175.28" stroke="#7f7f7f" stroke-width="3.9"/><line x1="613.54" y1="1179.72" x2="623.06" y2="1175.28" stroke="#7f7f7f" stroke-width="3.9"/><line x1="625.54" y1="1179.72" x2="635.06" y2="1175.28" stroke="#7f7f7f" stroke-width="3.9"/><line x1="637.54" y1="1179.72" x2="647.06" y2="1175.28" stroke="#7f7f7f" stroke-width="3.9"/><line x1="649.54" y1="1179.72" x2="659.06" y2="1175.28" stroke="#7f7f7f" stroke-width="3.9"/><line x1="661.54" y1="1179.72" x2="671.06" y2="1175.28" stroke="#7f7f7f" stroke-width="3.9"/><line x1="673.54" y1="1179.72" x2="683.06" y2="1175.28" stroke="#7f7f7f" stroke-width="3.9"/><line x1="685.54" y1="1179.72" x2="695.06" y2="1175.28" stroke="#7f7f7f" stroke-width="3.9"/><line x1="697.54" y1="1179.72" x2="707.06" y2="1175.28" stroke="#7f7f7f" stroke-width="3.9"/><line x1="493.54" y1="1193.52" x2="503.06" y2="1189.08" stroke="#7f7f7f" stroke-width="3.9"/><line x1="505.54" y1="1193.52" x2="515.06" y2="1189.08" stroke="#7f7f7f" stroke-width="3.9"/><line x1="517.54" y1="1193.52" x2="527.06" y2="1189.08" stroke="#7f7f7f" stroke-width="3.9"/><line x1="529.54" y1="1193.52" x2="539.06" y2="1189.08" stroke="#7f7f7f" stroke-width="3.9"/><line x1="541.54" y1="1193.52" x2="551.06" y2="1189.08" stroke="#7f7f7f" stroke-width="3.9"/><line x1="553.54" y1="1193.52" x2="563.06" y2="1189.08" stroke="#7f7f7f" stroke-width="3.9"/><line x1="565.54" y1="1193.52" x2="575.06" y2="1189.08" stroke="#7f7f7f" stroke-width="3.9"/><line x1="577.54" y1="1193.52" x2="587.06" y2="1189.08" stroke="#7f7f7f" stroke-width="3.9"/><line x1="589.54" y1="1193.52" x2="599.06" y2="1189.08" stroke="#7f7f7f" stroke-width="3.9"/><line x1="601.54" y1="1193.52" x2="611.06" y2="1189.08" stroke="#7f7f7f" stroke-width="3.9"/><line x1="613.54" y1="1193.52" x2="623.06" y2="1189.08" stroke="#7f7f7f" stroke-width="3.9"/><line x1="625.54" y1="1193.52" x2="635.06" y2="1189.08" stroke="#7f7f7f" stroke-width="3.9"/><line x1="637.54" y1="1193.52" x2="647.06" y2="1189.08" stroke="#7f7f7f" stroke-width="3.9"/><line x1="649.54" y1="1193.52" x2="659.06" y2="1189.08" stroke="#7f7f7f" stroke-width="3.9"/><line x1="661.54" y1="1193.52" x2="671.06" y2="1189.08" stroke="#7f7f7f" stroke-width="3.9"/><line x1="673.54" y1="1193.52" x2="683.06" y2="1189.08" stroke="#7f7f7f" stroke-width="3.9"/><line x1="685.54" y1="1193.52" x2="695.06" y2="1189.08" stroke="#7f7f7f" stroke-width="3.9"/><line x1="697.54" y1="1193.52" x2="707.06" y2="1189.08" stroke="#7f7f7f" stroke-width="3.9"/><line x1="489.82" y1="1122.30" x2="500.18" y2="1120.10" stroke="#000" stroke-width="4.2"/><line x1="500.72" y1="1122.30" x2="511.08" y2="1120.10" stroke="#000" stroke-width="4.2"/><line x1="511.62" y1="1122.30" x2="521.98" y2="1120.10" stroke="#000" stroke-width="4.2"/><line x1="522.52" y1="1122.30" x2="532.88" y2="1120.10" stroke="#000" stroke-width="4.2"/><line x1="533.42" y1="1122.30" x2="543.78" y2="1120.10" stroke="#000" stroke-width="4.2"/><line x1="544.32" y1="1122.30" x2="554.68" y2="1120.10" stroke="#000" stroke-width="4.2"/><line x1="555.22" y1="1122.30" x2="565.58" y2="1120.10" stroke="#000" stroke-width="4.2"/><line x1="566.12" y1="1122.30" x2="576.48" y2="1120.10" stroke="#000" stroke-width="4.2"/><line x1="577.02" y1="1122.30" x2="587.38" y2="1120.10" stroke="#000" stroke-width="4.2"/><line x1="587.92" y1="1122.30" x2="598.28" y2="1120.10" stroke="#000" stroke-width="4.2"/><line x1="598.82" y1="1122.30" x2="609.18" y2="1120.10" stroke="#000" stroke-width="4.2"/><line x1="609.72" y1="1122.30" x2="620.08" y2="1120.10" stroke="#000" stroke-width="4.2"/><line x1="620.62" y1="1122.30" x2="630.98" y2="1120.10" stroke="#000" stroke-width="4.2"/><line x1="631.52" y1="1122.30" x2="641.88" y2="1120.10" stroke="#000" stroke-width="4.2"/><line x1="642.42" y1="1122.30" x2="652.78" y2="1120.10" stroke="#000" stroke-width="4.2"/><line x1="653.32" y1="1122.30" x2="663.68" y2="1120.10" stroke="#000" stroke-width="4.2"/><line x1="664.22" y1="1122.30" x2="674.58" y2="1120.10" stroke="#000" stroke-width="4.2"/><line x1="675.12" y1="1122.30" x2="685.48" y2="1120.10" stroke="#000" stroke-width="4.2"/><line x1="686.02" y1="1122.30" x2="696.38" y2="1120.10" stroke="#000" stroke-width="4.2"/><line x1="696.92" y1="1122.30" x2="707.28" y2="1120.10" stroke="#000" stroke-width="4.2"/><line x1="707.82" y1="1122.30" x2="718.18" y2="1120.10" stroke="#000" stroke-width="4.2"/></g>
<path d="M605.5,1096 Q608,1122 627,1146.5" fill="none" stroke="#fff" stroke-width="21" stroke-linecap="butt"/><path d="M605.5,1096 Q608,1122 627,1146.5" fill="none" stroke="url(#rbE)" stroke-width="17" stroke-linecap="butt"/>
<polygon points="604.4,1101.1 593.5,1085.1 593.5,1053.4 604.4,1063.2" fill="#ffa726"/><line x1="601.6" y1="1092.2" x2="596.3" y2="1084.9" stroke="#ffff00" stroke-width="3.0"/><line x1="601.6" y1="1085.5" x2="596.3" y2="1078.8" stroke="#ffff00" stroke-width="3.0"/><line x1="601.6" y1="1078.8" x2="596.3" y2="1072.6" stroke="#ffff00" stroke-width="3.0"/><line x1="601.6" y1="1072.1" x2="596.3" y2="1066.4" stroke="#ffff00" stroke-width="3.0"/><line x1="601.6" y1="1065.4" x2="596.3" y2="1060.3" stroke="#ffff00" stroke-width="3.0"/><polygon points="604.4,1101.1 617.5,1085.1 617.5,1052.6 604.4,1063.2" fill="#4f8a2c"/><line x1="607.8" y1="1092.2" x2="614.1" y2="1084.9" stroke="#00b050" stroke-width="3.0"/><line x1="607.8" y1="1085.5" x2="614.1" y2="1078.6" stroke="#00b050" stroke-width="3.0"/><line x1="607.8" y1="1078.7" x2="614.1" y2="1072.3" stroke="#00b050" stroke-width="3.0"/><line x1="607.8" y1="1071.9" x2="614.1" y2="1066.0" stroke="#00b050" stroke-width="3.0"/><line x1="607.8" y1="1065.2" x2="614.1" y2="1059.8" stroke="#00b050" stroke-width="3.0"/>
<line x1="588.8" y1="1118" x2="588.8" y2="1189.4" stroke="#1478f2" stroke-width="3.5" stroke-dasharray="11.5 10.4"/>
<line x1="589.8" y1="1119" x2="623.3" y2="1188.6" stroke="#1478f2" stroke-width="3.5" stroke-dasharray="11 9.5" stroke-dashoffset="0"/>
<polyline points="584.8,1125.0 589.8,1117.5 592.8,1125.0" fill="none" stroke="#1478f2" stroke-width="3"/>
<path d="M589,1169.5 Q597,1176.5 605.5,1171" fill="none" stroke="#1478f2" stroke-width="2.8"/><path d="M609.8,1166.3 L608.8,1176.8 L605.3,1171.5 L599.5,1170.5 Z" fill="#1478f2"/>
<polygon points="643.0,1182.1 624.8,1169.0 611.6,1144.2 626.2,1147.1" fill="#ffa726"/><line x1="636.2" y1="1174.5" x2="627.7" y2="1168.8" stroke="#ffff00" stroke-width="3.0"/><line x1="633.3" y1="1168.5" x2="625.1" y2="1163.8" stroke="#ffff00" stroke-width="3.0"/><line x1="630.4" y1="1162.5" x2="622.5" y2="1158.7" stroke="#ffff00" stroke-width="3.0"/><line x1="627.4" y1="1156.5" x2="619.9" y2="1153.6" stroke="#ffff00" stroke-width="3.0"/><line x1="624.5" y1="1150.5" x2="617.3" y2="1148.5" stroke="#ffff00" stroke-width="3.0"/><polygon points="643.0,1182.1 646.6,1161.7 632.0,1132.5 626.2,1147.1" fill="#4f8a2c"/><line x1="641.8" y1="1172.5" x2="643.7" y2="1163.0" stroke="#00b050" stroke-width="3.0"/><line x1="638.8" y1="1166.3" x2="640.9" y2="1157.3" stroke="#00b050" stroke-width="3.0"/><line x1="635.8" y1="1160.0" x2="638.1" y2="1151.6" stroke="#00b050" stroke-width="3.0"/><line x1="632.9" y1="1153.8" x2="635.3" y2="1146.0" stroke="#00b050" stroke-width="3.0"/><line x1="629.9" y1="1147.6" x2="632.5" y2="1140.3" stroke="#00b050" stroke-width="3.0"/>
<rect x="534.1" y="1145.3" width="51.0" height="23.700000000000045" fill="#fff"/><text x="537" y="1164.6" font-size="20.5" fill="#000" font-family="Liberation Serif, serif" text-anchor="start" >−<tspan dx="7.3">25</tspan><tspan font-size="13.5" dy="-6.5">o</tspan></text>
<g clip-path="url(#cE4s)"><rect x="717" y="1045" width="218" height="76.20000000000005" fill="#a92a4e"/><rect x="717" y="1121.2" width="218" height="79.0" fill="#8ab27a"/><line x1="719.25" y1="1055.10" x2="729.35" y2="1055.10" stroke="#fff" stroke-width="4"/><line x1="731.30" y1="1055.10" x2="741.40" y2="1055.10" stroke="#fff" stroke-width="4"/><line x1="743.35" y1="1055.10" x2="753.45" y2="1055.10" stroke="#fff" stroke-width="4"/><line x1="755.40" y1="1055.10" x2="765.50" y2="1055.10" stroke="#fff" stroke-width="4"/><line x1="767.45" y1="1055.10" x2="777.55" y2="1055.10" stroke="#fff" stroke-width="4"/><line x1="779.50" y1="1055.10" x2="789.60" y2="1055.10" stroke="#fff" stroke-width="4"/><line x1="791.55" y1="1055.10" x2="801.65" y2="1055.10" stroke="#fff" stroke-width="4"/><line x1="803.60" y1="1055.10" x2="813.70" y2="1055.10" stroke="#fff" stroke-width="4"/><line x1="815.65" y1="1055.10" x2="825.75" y2="1055.10" stroke="#fff" stroke-width="4"/><line x1="827.70" y1="1055.10" x2="837.80" y2="1055.10" stroke="#fff" stroke-width="4"/><line x1="839.75" y1="1055.10" x2="849.85" y2="1055.10" stroke="#fff" stroke-width="4"/><line x1="851.80" y1="1055.10" x2="861.90" y2="1055.10" stroke="#fff" stroke-width="4"/><line x1="863.85" y1="1055.10" x2="873.95" y2="1055.10" stroke="#fff" stroke-width="4"/><line x1="875.90" y1="1055.10" x2="886.00" y2="1055.10" stroke="#fff" stroke-width="4"/><line x1="887.95" y1="1055.10" x2="898.05" y2="1055.10" stroke="#fff" stroke-width="4"/><line x1="900.00" y1="1055.10" x2="910.10" y2="1055.10" stroke="#fff" stroke-width="4"/><line x1="912.05" y1="1055.10" x2="922.15" y2="1055.10" stroke="#fff" stroke-width="4"/><line x1="924.10" y1="1055.10" x2="934.20" y2="1055.10" stroke="#fff" stroke-width="4"/><line x1="719.25" y1="1068.90" x2="729.35" y2="1068.90" stroke="#fff" stroke-width="4"/><line x1="731.30" y1="1068.90" x2="741.40" y2="1068.90" stroke="#fff" stroke-width="4"/><line x1="743.35" y1="1068.90" x2="753.45" y2="1068.90" stroke="#fff" stroke-width="4"/><line x1="755.40" y1="1068.90" x2="765.50" y2="1068.90" stroke="#fff" stroke-width="4"/><line x1="767.45" y1="1068.90" x2="777.55" y2="1068.90" stroke="#fff" stroke-width="4"/><line x1="779.50" y1="1068.90" x2="789.60" y2="1068.90" stroke="#fff" stroke-width="4"/><line x1="791.55" y1="1068.90" x2="801.65" y2="1068.90" stroke="#fff" stroke-width="4"/><line x1="803.60" y1="1068.90" x2="813.70" y2="1068.90" stroke="#fff" stroke-width="4"/><line x1="815.65" y1="1068.90" x2="825.75" y2="1068.90" stroke="#fff" stroke-width="4"/><line x1="827.70" y1="1068.90" x2="837.80" y2="1068.90" stroke="#fff" stroke-width="4"/><line x1="839.75" y1="1068.90" x2="849.85" y2="1068.90" stroke="#fff" stroke-width="4"/><line x1="851.80" y1="1068.90" x2="861.90" y2="1068.90" stroke="#fff" stroke-width="4"/><line x1="863.85" y1="1068.90" x2="873.95" y2="1068.90" stroke="#fff" stroke-width="4"/><line x1="875.90" y1="1068.90" x2="886.00" y2="1068.90" stroke="#fff" stroke-width="4"/><line x1="887.95" y1="1068.90" x2="898.05" y2="1068.90" stroke="#fff" stroke-width="4"/><line x1="900.00" y1="1068.90" x2="910.10" y2="1068.90" stroke="#fff" stroke-width="4"/><line x1="912.05" y1="1068.90" x2="922.15" y2="1068.90" stroke="#fff" stroke-width="4"/><line x1="924.10" y1="1068.90" x2="934.20" y2="1068.90" stroke="#fff" stroke-width="4"/><line x1="719.25" y1="1082.40" x2="729.35" y2="1082.40" stroke="#fff" stroke-width="4"/><line x1="731.30" y1="1082.40" x2="741.40" y2="1082.40" stroke="#fff" stroke-width="4"/><line x1="743.35" y1="1082.40" x2="753.45" y2="1082.40" stroke="#fff" stroke-width="4"/><line x1="755.40" y1="1082.40" x2="765.50" y2="1082.40" stroke="#fff" stroke-width="4"/><line x1="767.45" y1="1082.40" x2="777.55" y2="1082.40" stroke="#fff" stroke-width="4"/><line x1="779.50" y1="1082.40" x2="789.60" y2="1082.40" stroke="#fff" stroke-width="4"/><line x1="791.55" y1="1082.40" x2="801.65" y2="1082.40" stroke="#fff" stroke-width="4"/><line x1="803.60" y1="1082.40" x2="813.70" y2="1082.40" stroke="#fff" stroke-width="4"/><line x1="815.65" y1="1082.40" x2="825.75" y2="1082.40" stroke="#fff" stroke-width="4"/><line x1="827.70" y1="1082.40" x2="837.80" y2="1082.40" stroke="#fff" stroke-width="4"/><line x1="839.75" y1="1082.40" x2="849.85" y2="1082.40" stroke="#fff" stroke-width="4"/><line x1="851.80" y1="1082.40" x2="861.90" y2="1082.40" stroke="#fff" stroke-width="4"/><line x1="863.85" y1="1082.40" x2="873.95" y2="1082.40" stroke="#fff" stroke-width="4"/><line x1="875.90" y1="1082.40" x2="886.00" y2="1082.40" stroke="#fff" stroke-width="4"/><line x1="887.95" y1="1082.40" x2="898.05" y2="1082.40" stroke="#fff" stroke-width="4"/><line x1="900.00" y1="1082.40" x2="910.10" y2="1082.40" stroke="#fff" stroke-width="4"/><line x1="912.05" y1="1082.40" x2="922.15" y2="1082.40" stroke="#fff" stroke-width="4"/><line x1="924.10" y1="1082.40" x2="934.20" y2="1082.40" stroke="#fff" stroke-width="4"/><line x1="719.25" y1="1095.90" x2="729.35" y2="1095.90" stroke="#fff" stroke-width="4"/><line x1="731.30" y1="1095.90" x2="741.40" y2="1095.90" stroke="#fff" stroke-width="4"/><line x1="743.35" y1="1095.90" x2="753.45" y2="1095.90" stroke="#fff" stroke-width="4"/><line x1="755.40" y1="1095.90" x2="765.50" y2="1095.90" stroke="#fff" stroke-width="4"/><line x1="767.45" y1="1095.90" x2="777.55" y2="1095.90" stroke="#fff" stroke-width="4"/><line x1="779.50" y1="1095.90" x2="789.60" y2="1095.90" stroke="#fff" stroke-width="4"/><line x1="791.55" y1="1095.90" x2="801.65" y2="1095.90" stroke="#fff" stroke-width="4"/><line x1="803.60" y1="1095.90" x2="813.70" y2="1095.90" stroke="#fff" stroke-width="4"/><line x1="815.65" y1="1095.90" x2="825.75" y2="1095.90" stroke="#fff" stroke-width="4"/><line x1="827.70" y1="1095.90" x2="837.80" y2="1095.90" stroke="#fff" stroke-width="4"/><line x1="839.75" y1="1095.90" x2="849.85" y2="1095.90" stroke="#fff" stroke-width="4"/><line x1="851.80" y1="1095.90" x2="861.90" y2="1095.90" stroke="#fff" stroke-width="4"/><line x1="863.85" y1="1095.90" x2="873.95" y2="1095.90" stroke="#fff" stroke-width="4"/><line x1="875.90" y1="1095.90" x2="886.00" y2="1095.90" stroke="#fff" stroke-width="4"/><line x1="887.95" y1="1095.90" x2="898.05" y2="1095.90" stroke="#fff" stroke-width="4"/><line x1="900.00" y1="1095.90" x2="910.10" y2="1095.90" stroke="#fff" stroke-width="4"/><line x1="912.05" y1="1095.90" x2="922.15" y2="1095.90" stroke="#fff" stroke-width="4"/><line x1="924.10" y1="1095.90" x2="934.20" y2="1095.90" stroke="#fff" stroke-width="4"/><line x1="719.25" y1="1109.40" x2="729.35" y2="1109.40" stroke="#fff" stroke-width="4"/><line x1="731.30" y1="1109.40" x2="741.40" y2="1109.40" stroke="#fff" stroke-width="4"/><line x1="743.35" y1="1109.40" x2="753.45" y2="1109.40" stroke="#fff" stroke-width="4"/><line x1="755.40" y1="1109.40" x2="765.50" y2="1109.40" stroke="#fff" stroke-width="4"/><line x1="767.45" y1="1109.40" x2="777.55" y2="1109.40" stroke="#fff" stroke-width="4"/><line x1="779.50" y1="1109.40" x2="789.60" y2="1109.40" stroke="#fff" stroke-width="4"/><line x1="791.55" y1="1109.40" x2="801.65" y2="1109.40" stroke="#fff" stroke-width="4"/><line x1="803.60" y1="1109.40" x2="813.70" y2="1109.40" stroke="#fff" stroke-width="4"/><line x1="815.65" y1="1109.40" x2="825.75" y2="1109.40" stroke="#fff" stroke-width="4"/><line x1="827.70" y1="1109.40" x2="837.80" y2="1109.40" stroke="#fff" stroke-width="4"/><line x1="839.75" y1="1109.40" x2="849.85" y2="1109.40" stroke="#fff" stroke-width="4"/><line x1="851.80" y1="1109.40" x2="861.90" y2="1109.40" stroke="#fff" stroke-width="4"/><line x1="863.85" y1="1109.40" x2="873.95" y2="1109.40" stroke="#fff" stroke-width="4"/><line x1="875.90" y1="1109.40" x2="886.00" y2="1109.40" stroke="#fff" stroke-width="4"/><line x1="887.95" y1="1109.40" x2="898.05" y2="1109.40" stroke="#fff" stroke-width="4"/><line x1="900.00" y1="1109.40" x2="910.10" y2="1109.40" stroke="#fff" stroke-width="4"/><line x1="912.05" y1="1109.40" x2="922.15" y2="1109.40" stroke="#fff" stroke-width="4"/><line x1="924.10" y1="1109.40" x2="934.20" y2="1109.40" stroke="#fff" stroke-width="4"/><line x1="720.65" y1="1140.94" x2="725.95" y2="1132.46" stroke="#7f7f7f" stroke-width="3.9"/><line x1="732.65" y1="1140.94" x2="737.95" y2="1132.46" stroke="#7f7f7f" stroke-width="3.9"/><line x1="744.65" y1="1140.94" x2="749.95" y2="1132.46" stroke="#7f7f7f" stroke-width="3.9"/><line x1="756.65" y1="1140.94" x2="761.95" y2="1132.46" stroke="#7f7f7f" stroke-width="3.9"/><line x1="768.65" y1="1140.94" x2="773.95" y2="1132.46" stroke="#7f7f7f" stroke-width="3.9"/><line x1="780.65" y1="1140.94" x2="785.95" y2="1132.46" stroke="#7f7f7f" stroke-width="3.9"/><line x1="792.65" y1="1140.94" x2="797.95" y2="1132.46" stroke="#7f7f7f" stroke-width="3.9"/><line x1="804.65" y1="1140.94" x2="809.95" y2="1132.46" stroke="#7f7f7f" stroke-width="3.9"/><line x1="816.65" y1="1140.94" x2="821.95" y2="1132.46" stroke="#7f7f7f" stroke-width="3.9"/><line x1="828.65" y1="1140.94" x2="833.95" y2="1132.46" stroke="#7f7f7f" stroke-width="3.9"/><line x1="840.65" y1="1140.94" x2="845.95" y2="1132.46" stroke="#7f7f7f" stroke-width="3.9"/><line x1="852.65" y1="1140.94" x2="857.95" y2="1132.46" stroke="#7f7f7f" stroke-width="3.9"/><line x1="864.65" y1="1140.94" x2="869.95" y2="1132.46" stroke="#7f7f7f" stroke-width="3.9"/><line x1="876.65" y1="1140.94" x2="881.95" y2="1132.46" stroke="#7f7f7f" stroke-width="3.9"/><line x1="888.65" y1="1140.94" x2="893.95" y2="1132.46" stroke="#7f7f7f" stroke-width="3.9"/><line x1="900.65" y1="1140.94" x2="905.95" y2="1132.46" stroke="#7f7f7f" stroke-width="3.9"/><line x1="912.65" y1="1140.94" x2="917.95" y2="1132.46" stroke="#7f7f7f" stroke-width="3.9"/><line x1="924.65" y1="1140.94" x2="929.95" y2="1132.46" stroke="#7f7f7f" stroke-width="3.9"/><line x1="720.65" y1="1154.54" x2="725.95" y2="1146.06" stroke="#7f7f7f" stroke-width="3.9"/><line x1="732.65" y1="1154.54" x2="737.95" y2="1146.06" stroke="#7f7f7f" stroke-width="3.9"/><line x1="744.65" y1="1154.54" x2="749.95" y2="1146.06" stroke="#7f7f7f" stroke-width="3.9"/><line x1="756.65" y1="1154.54" x2="761.95" y2="1146.06" stroke="#7f7f7f" stroke-width="3.9"/><line x1="768.65" y1="1154.54" x2="773.95" y2="1146.06" stroke="#7f7f7f" stroke-width="3.9"/><line x1="780.65" y1="1154.54" x2="785.95" y2="1146.06" stroke="#7f7f7f" stroke-width="3.9"/><line x1="792.65" y1="1154.54" x2="797.95" y2="1146.06" stroke="#7f7f7f" stroke-width="3.9"/><line x1="804.65" y1="1154.54" x2="809.95" y2="1146.06" stroke="#7f7f7f" stroke-width="3.9"/><line x1="816.65" y1="1154.54" x2="821.95" y2="1146.06" stroke="#7f7f7f" stroke-width="3.9"/><line x1="828.65" y1="1154.54" x2="833.95" y2="1146.06" stroke="#7f7f7f" stroke-width="3.9"/><line x1="840.65" y1="1154.54" x2="845.95" y2="1146.06" stroke="#7f7f7f" stroke-width="3.9"/><line x1="852.65" y1="1154.54" x2="857.95" y2="1146.06" stroke="#7f7f7f" stroke-width="3.9"/><line x1="864.65" y1="1154.54" x2="869.95" y2="1146.06" stroke="#7f7f7f" stroke-width="3.9"/><line x1="876.65" y1="1154.54" x2="881.95" y2="1146.06" stroke="#7f7f7f" stroke-width="3.9"/><line x1="888.65" y1="1154.54" x2="893.95" y2="1146.06" stroke="#7f7f7f" stroke-width="3.9"/><line x1="900.65" y1="1154.54" x2="905.95" y2="1146.06" stroke="#7f7f7f" stroke-width="3.9"/><line x1="912.65" y1="1154.54" x2="917.95" y2="1146.06" stroke="#7f7f7f" stroke-width="3.9"/><line x1="924.65" y1="1154.54" x2="929.95" y2="1146.06" stroke="#7f7f7f" stroke-width="3.9"/><line x1="720.65" y1="1168.04" x2="725.95" y2="1159.56" stroke="#7f7f7f" stroke-width="3.9"/><line x1="732.65" y1="1168.04" x2="737.95" y2="1159.56" stroke="#7f7f7f" stroke-width="3.9"/><line x1="744.65" y1="1168.04" x2="749.95" y2="1159.56" stroke="#7f7f7f" stroke-width="3.9"/><line x1="756.65" y1="1168.04" x2="761.95" y2="1159.56" stroke="#7f7f7f" stroke-width="3.9"/><line x1="768.65" y1="1168.04" x2="773.95" y2="1159.56" stroke="#7f7f7f" stroke-width="3.9"/><line x1="780.65" y1="1168.04" x2="785.95" y2="1159.56" stroke="#7f7f7f" stroke-width="3.9"/><line x1="792.65" y1="1168.04" x2="797.95" y2="1159.56" stroke="#7f7f7f" stroke-width="3.9"/><line x1="804.65" y1="1168.04" x2="809.95" y2="1159.56" stroke="#7f7f7f" stroke-width="3.9"/><line x1="816.65" y1="1168.04" x2="821.95" y2="1159.56" stroke="#7f7f7f" stroke-width="3.9"/><line x1="828.65" y1="1168.04" x2="833.95" y2="1159.56" stroke="#7f7f7f" stroke-width="3.9"/><line x1="840.65" y1="1168.04" x2="845.95" y2="1159.56" stroke="#7f7f7f" stroke-width="3.9"/><line x1="852.65" y1="1168.04" x2="857.95" y2="1159.56" stroke="#7f7f7f" stroke-width="3.9"/><line x1="864.65" y1="1168.04" x2="869.95" y2="1159.56" stroke="#7f7f7f" stroke-width="3.9"/><line x1="876.65" y1="1168.04" x2="881.95" y2="1159.56" stroke="#7f7f7f" stroke-width="3.9"/><line x1="888.65" y1="1168.04" x2="893.95" y2="1159.56" stroke="#7f7f7f" stroke-width="3.9"/><line x1="900.65" y1="1168.04" x2="905.95" y2="1159.56" stroke="#7f7f7f" stroke-width="3.9"/><line x1="912.65" y1="1168.04" x2="917.95" y2="1159.56" stroke="#7f7f7f" stroke-width="3.9"/><line x1="924.65" y1="1168.04" x2="929.95" y2="1159.56" stroke="#7f7f7f" stroke-width="3.9"/><line x1="720.65" y1="1181.74" x2="725.95" y2="1173.26" stroke="#7f7f7f" stroke-width="3.9"/><line x1="732.65" y1="1181.74" x2="737.95" y2="1173.26" stroke="#7f7f7f" stroke-width="3.9"/><line x1="744.65" y1="1181.74" x2="749.95" y2="1173.26" stroke="#7f7f7f" stroke-width="3.9"/><line x1="756.65" y1="1181.74" x2="761.95" y2="1173.26" stroke="#7f7f7f" stroke-width="3.9"/><line x1="768.65" y1="1181.74" x2="773.95" y2="1173.26" stroke="#7f7f7f" stroke-width="3.9"/><line x1="780.65" y1="1181.74" x2="785.95" y2="1173.26" stroke="#7f7f7f" stroke-width="3.9"/><line x1="792.65" y1="1181.74" x2="797.95" y2="1173.26" stroke="#7f7f7f" stroke-width="3.9"/><line x1="804.65" y1="1181.74" x2="809.95" y2="1173.26" stroke="#7f7f7f" stroke-width="3.9"/><line x1="816.65" y1="1181.74" x2="821.95" y2="1173.26" stroke="#7f7f7f" stroke-width="3.9"/><line x1="828.65" y1="1181.74" x2="833.95" y2="1173.26" stroke="#7f7f7f" stroke-width="3.9"/><line x1="840.65" y1="1181.74" x2="845.95" y2="1173.26" stroke="#7f7f7f" stroke-width="3.9"/><line x1="852.65" y1="1181.74" x2="857.95" y2="1173.26" stroke="#7f7f7f" stroke-width="3.9"/><line x1="864.65" y1="1181.74" x2="869.95" y2="1173.26" stroke="#7f7f7f" stroke-width="3.9"/><line x1="876.65" y1="1181.74" x2="881.95" y2="1173.26" stroke="#7f7f7f" stroke-width="3.9"/><line x1="888.65" y1="1181.74" x2="893.95" y2="1173.26" stroke="#7f7f7f" stroke-width="3.9"/><line x1="900.65" y1="1181.74" x2="905.95" y2="1173.26" stroke="#7f7f7f" stroke-width="3.9"/><line x1="912.65" y1="1181.74" x2="917.95" y2="1173.26" stroke="#7f7f7f" stroke-width="3.9"/><line x1="924.65" y1="1181.74" x2="929.95" y2="1173.26" stroke="#7f7f7f" stroke-width="3.9"/><line x1="720.65" y1="1195.54" x2="725.95" y2="1187.06" stroke="#7f7f7f" stroke-width="3.9"/><line x1="732.65" y1="1195.54" x2="737.95" y2="1187.06" stroke="#7f7f7f" stroke-width="3.9"/><line x1="744.65" y1="1195.54" x2="749.95" y2="1187.06" stroke="#7f7f7f" stroke-width="3.9"/><line x1="756.65" y1="1195.54" x2="761.95" y2="1187.06" stroke="#7f7f7f" stroke-width="3.9"/><line x1="768.65" y1="1195.54" x2="773.95" y2="1187.06" stroke="#7f7f7f" stroke-width="3.9"/><line x1="780.65" y1="1195.54" x2="785.95" y2="1187.06" stroke="#7f7f7f" stroke-width="3.9"/><line x1="792.65" y1="1195.54" x2="797.95" y2="1187.06" stroke="#7f7f7f" stroke-width="3.9"/><line x1="804.65" y1="1195.54" x2="809.95" y2="1187.06" stroke="#7f7f7f" stroke-width="3.9"/><line x1="816.65" y1="1195.54" x2="821.95" y2="1187.06" stroke="#7f7f7f" stroke-width="3.9"/><line x1="828.65" y1="1195.54" x2="833.95" y2="1187.06" stroke="#7f7f7f" stroke-width="3.9"/><line x1="840.65" y1="1195.54" x2="845.95" y2="1187.06" stroke="#7f7f7f" stroke-width="3.9"/><line x1="852.65" y1="1195.54" x2="857.95" y2="1187.06" stroke="#7f7f7f" stroke-width="3.9"/><line x1="864.65" y1="1195.54" x2="869.95" y2="1187.06" stroke="#7f7f7f" stroke-width="3.9"/><line x1="876.65" y1="1195.54" x2="881.95" y2="1187.06" stroke="#7f7f7f" stroke-width="3.9"/><line x1="888.65" y1="1195.54" x2="893.95" y2="1187.06" stroke="#7f7f7f" stroke-width="3.9"/><line x1="900.65" y1="1195.54" x2="905.95" y2="1187.06" stroke="#7f7f7f" stroke-width="3.9"/><line x1="912.65" y1="1195.54" x2="917.95" y2="1187.06" stroke="#7f7f7f" stroke-width="3.9"/><line x1="924.65" y1="1195.54" x2="929.95" y2="1187.06" stroke="#7f7f7f" stroke-width="3.9"/><line x1="715.41" y1="1123.85" x2="724.59" y2="1118.55" stroke="#000" stroke-width="4.2"/><line x1="726.31" y1="1123.85" x2="735.49" y2="1118.55" stroke="#000" stroke-width="4.2"/><line x1="737.21" y1="1123.85" x2="746.39" y2="1118.55" stroke="#000" stroke-width="4.2"/><line x1="748.11" y1="1123.85" x2="757.29" y2="1118.55" stroke="#000" stroke-width="4.2"/><line x1="759.01" y1="1123.85" x2="768.19" y2="1118.55" stroke="#000" stroke-width="4.2"/><line x1="769.91" y1="1123.85" x2="779.09" y2="1118.55" stroke="#000" stroke-width="4.2"/><line x1="780.81" y1="1123.85" x2="789.99" y2="1118.55" stroke="#000" stroke-width="4.2"/><line x1="791.71" y1="1123.85" x2="800.89" y2="1118.55" stroke="#000" stroke-width="4.2"/><line x1="802.61" y1="1123.85" x2="811.79" y2="1118.55" stroke="#000" stroke-width="4.2"/><line x1="813.51" y1="1123.85" x2="822.69" y2="1118.55" stroke="#000" stroke-width="4.2"/><line x1="824.41" y1="1123.85" x2="833.59" y2="1118.55" stroke="#000" stroke-width="4.2"/><line x1="835.31" y1="1123.85" x2="844.49" y2="1118.55" stroke="#000" stroke-width="4.2"/><line x1="846.21" y1="1123.85" x2="855.39" y2="1118.55" stroke="#000" stroke-width="4.2"/><line x1="857.11" y1="1123.85" x2="866.29" y2="1118.55" stroke="#000" stroke-width="4.2"/><line x1="868.01" y1="1123.85" x2="877.19" y2="1118.55" stroke="#000" stroke-width="4.2"/><line x1="878.91" y1="1123.85" x2="888.09" y2="1118.55" stroke="#000" stroke-width="4.2"/><line x1="889.81" y1="1123.85" x2="898.99" y2="1118.55" stroke="#000" stroke-width="4.2"/><line x1="900.71" y1="1123.85" x2="909.89" y2="1118.55" stroke="#000" stroke-width="4.2"/><line x1="911.61" y1="1123.85" x2="920.79" y2="1118.55" stroke="#000" stroke-width="4.2"/><line x1="922.51" y1="1123.85" x2="931.69" y2="1118.55" stroke="#000" stroke-width="4.2"/><line x1="933.41" y1="1123.85" x2="942.59" y2="1118.55" stroke="#000" stroke-width="4.2"/></g>
<path d="M810,1096 Q813,1138 850,1151" fill="none" stroke="#fff" stroke-width="19" stroke-linecap="butt"/><path d="M810,1096 Q813,1138 850,1151" fill="none" stroke="url(#rbE)" stroke-width="15.5" stroke-linecap="butt"/>
<polygon points="808.9,1101.1 798.0,1085.1 798.0,1053.4 808.9,1063.2" fill="#ffa726"/><line x1="806.1" y1="1092.2" x2="800.8" y2="1084.9" stroke="#ffff00" stroke-width="3.0"/><line x1="806.1" y1="1085.5" x2="800.8" y2="1078.8" stroke="#ffff00" stroke-width="3.0"/><line x1="806.1" y1="1078.8" x2="800.8" y2="1072.6" stroke="#ffff00" stroke-width="3.0"/><line x1="806.1" y1="1072.1" x2="800.8" y2="1066.4" stroke="#ffff00" stroke-width="3.0"/><line x1="806.1" y1="1065.4" x2="800.8" y2="1060.3" stroke="#ffff00" stroke-width="3.0"/><polygon points="808.9,1101.1 822.0,1085.1 822.0,1052.6 808.9,1063.2" fill="#4f8a2c"/><line x1="812.3" y1="1092.2" x2="818.6" y2="1084.9" stroke="#00b050" stroke-width="3.0"/><line x1="812.3" y1="1085.5" x2="818.6" y2="1078.6" stroke="#00b050" stroke-width="3.0"/><line x1="812.3" y1="1078.7" x2="818.6" y2="1072.3" stroke="#00b050" stroke-width="3.0"/><line x1="812.3" y1="1071.9" x2="818.6" y2="1066.0" stroke="#00b050" stroke-width="3.0"/><line x1="812.3" y1="1065.2" x2="818.6" y2="1059.8" stroke="#00b050" stroke-width="3.0"/>
<line x1="796.25" y1="1095.3" x2="796.25" y2="1166.8" stroke="#1478f2" stroke-width="3.5" stroke-dasharray="12.3 9.5"/>
<line x1="799" y1="1122" x2="863.3" y2="1160.2" stroke="#1478f2" stroke-width="3.5" stroke-dasharray="9.5 7.5" stroke-dashoffset="0"/>
<path d="M797,1142.7 Q808,1149.5 817.5,1142.5" fill="none" stroke="#1478f2" stroke-width="2.8"/><path d="M821.3,1138 L821.8,1148.7 L817.5,1143.6 L811.8,1143.3 Z" fill="#1478f2"/>
<polygon points="888.1,1169.0 881.5,1153.0 850.9,1136.9 853.1,1152.2" fill="#ffa726"/><line x1="882.0" y1="1162.7" x2="879.1" y2="1155.0" stroke="#ffff00" stroke-width="3.0"/><line x1="875.7" y1="1159.6" x2="873.2" y2="1152.0" stroke="#ffff00" stroke-width="3.0"/><line x1="869.5" y1="1156.5" x2="867.3" y2="1149.0" stroke="#ffff00" stroke-width="3.0"/><line x1="863.2" y1="1153.5" x2="861.5" y2="1146.0" stroke="#ffff00" stroke-width="3.0"/><line x1="856.9" y1="1150.4" x2="855.6" y2="1143.0" stroke="#ffff00" stroke-width="3.0"/><polygon points="888.1,1169.0 869.1,1171.9 839.2,1158.0 853.1,1152.2" fill="#4f8a2c"/><line x1="878.8" y1="1167.7" x2="870.0" y2="1169.2" stroke="#00b050" stroke-width="3.0"/><line x1="872.6" y1="1164.7" x2="864.2" y2="1166.5" stroke="#00b050" stroke-width="3.0"/><line x1="866.3" y1="1161.7" x2="858.4" y2="1163.8" stroke="#00b050" stroke-width="3.0"/><line x1="860.1" y1="1158.8" x2="852.6" y2="1161.1" stroke="#00b050" stroke-width="3.0"/><line x1="853.9" y1="1155.8" x2="846.9" y2="1158.4" stroke="#00b050" stroke-width="3.0"/>
<line x1="850" y1="1150.7" x2="880" y2="1165.1" stroke="#1478f2" stroke-width="3.5" stroke-dasharray="10 7.5" stroke-dashoffset="-2"/>
<rect x="738" y="1145.6" width="55" height="24.100000000000136" fill="#fff"/><text x="741" y="1165.3" font-size="20.5" fill="#000" font-family="Liberation Serif, serif" text-anchor="start" >−<tspan dx="7.3">60</tspan><tspan font-size="13.5" dy="-6.5">o</tspan></text>
</svg>
</body></html>
